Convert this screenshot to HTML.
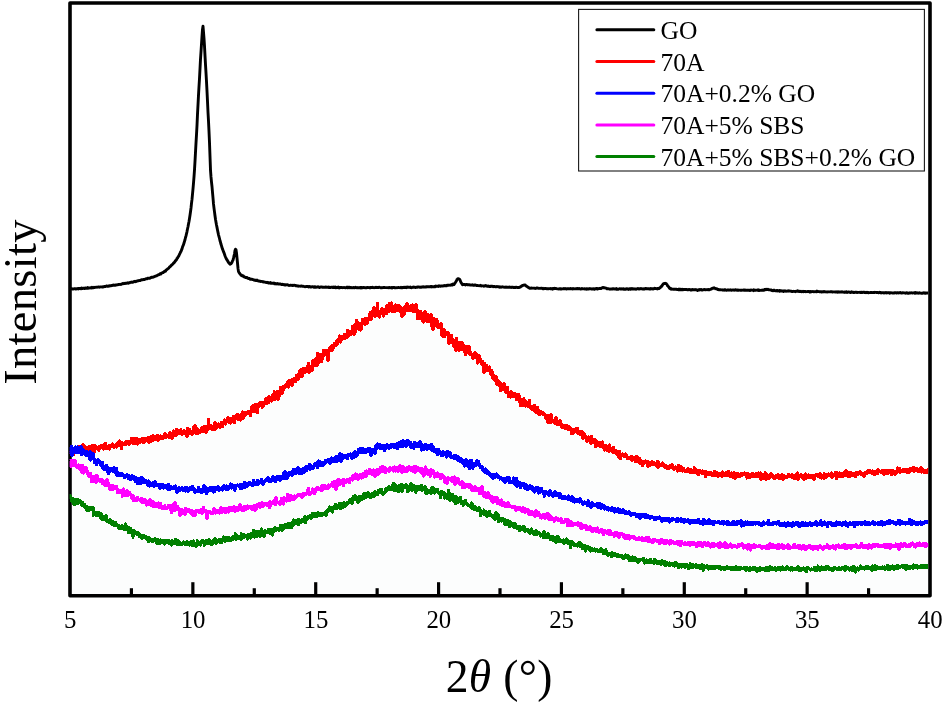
<!DOCTYPE html>
<html><head><meta charset="utf-8"><title>XRD</title>
<style>
html,body{margin:0;padding:0;background:#fff;}
body{width:943px;height:704px;overflow:hidden;position:relative;font-family:"Liberation Serif",serif;}
svg{position:absolute;left:0;top:0;display:block;will-change:transform;}
text{font-family:"Liberation Serif",serif;fill:#000;}
</style></head><body>
<svg width="943" height="704" viewBox="0 0 943 704">
<rect x="0" y="0" width="943" height="704" fill="#ffffff"/>
<path d="M70.0,452.0L70.5,451.9L71.0,451.7L71.5,451.6L72.0,451.5L72.5,451.4L73.0,451.2L73.5,451.1L74.0,451.0L74.5,450.9L75.0,450.7L75.5,450.6L76.0,450.5L76.5,450.4L77.0,450.3L77.5,450.2L78.0,450.1L78.5,450.0L79.0,449.9L79.5,449.8L80.0,449.7L80.5,449.6L81.0,449.5L81.5,449.4L82.0,449.3L82.5,449.2L83.0,449.2L83.5,449.1L84.0,449.0L84.5,449.0L85.0,448.9L85.5,448.8L86.0,448.8L86.5,448.7L87.0,448.7L87.5,448.6L88.0,448.5L88.5,448.5L89.0,448.4L89.5,448.4L90.0,448.4L90.5,448.3L91.0,448.3L91.5,448.2L92.0,448.2L92.5,448.1L93.0,448.1L93.5,448.0L94.0,448.0L94.5,448.0L95.0,447.9L95.5,447.9L96.0,447.8L96.5,447.8L97.0,447.8L97.5,447.7L98.0,447.7L98.5,447.6L99.0,447.6L99.5,447.6L100.0,447.5L100.5,447.5L101.0,447.4L101.5,447.4L102.0,447.3L102.5,447.3L103.0,447.2L103.5,447.2L104.0,447.1L104.5,447.1L105.0,447.0L105.5,447.0L106.0,446.9L106.5,446.9L107.0,446.8L107.5,446.7L108.0,446.7L108.5,446.6L109.0,446.5L109.5,446.4L110.0,446.4L110.5,446.3L111.0,446.2L111.5,446.1L112.0,446.0L112.5,446.0L113.0,445.9L113.5,445.8L114.0,445.7L114.5,445.6L115.0,445.5L115.5,445.4L116.0,445.3L116.5,445.2L117.0,445.1L117.5,445.1L118.0,445.0L118.5,444.9L119.0,444.8L119.5,444.7L120.0,444.6L120.5,444.5L121.0,444.4L121.5,444.3L122.0,444.2L122.5,444.1L123.0,444.0L123.5,443.9L124.0,443.8L124.5,443.7L125.0,443.6L125.5,443.5L126.0,443.4L126.5,443.3L127.0,443.2L127.5,443.1L128.0,443.0L128.5,442.9L129.0,442.8L129.5,442.7L130.0,442.7L130.5,442.6L131.0,442.5L131.5,442.4L132.0,442.3L132.5,442.2L133.0,442.1L133.5,442.1L134.0,442.0L134.5,441.9L135.0,441.8L135.5,441.7L136.0,441.6L136.5,441.6L137.0,441.5L137.5,441.4L138.0,441.3L138.5,441.2L139.0,441.1L139.5,441.1L140.0,441.0L140.5,440.9L141.0,440.8L141.5,440.7L142.0,440.6L142.5,440.6L143.0,440.5L143.5,440.4L144.0,440.3L144.5,440.2L145.0,440.2L145.5,440.1L146.0,440.0L146.5,439.9L147.0,439.8L147.5,439.7L148.0,439.6L148.5,439.6L149.0,439.5L149.5,439.4L150.0,439.3L150.5,439.2L151.0,439.1L151.5,439.0L152.0,438.9L152.5,438.8L153.0,438.7L153.5,438.6L154.0,438.5L154.5,438.4L155.0,438.3L155.5,438.2L156.0,438.1L156.5,438.0L157.0,437.9L157.5,437.8L158.0,437.7L158.5,437.6L159.0,437.5L159.5,437.3L160.0,437.2L160.5,437.1L161.0,437.0L161.5,436.9L162.0,436.7L162.5,436.6L163.0,436.5L163.5,436.4L164.0,436.3L164.5,436.1L165.0,436.0L165.5,435.9L166.0,435.8L166.5,435.7L167.0,435.5L167.5,435.4L168.0,435.3L168.5,435.2L169.0,435.1L169.5,435.0L170.0,434.9L170.5,434.8L171.0,434.7L171.5,434.6L172.0,434.5L172.5,434.4L173.0,434.3L173.5,434.2L174.0,434.1L174.5,434.0L175.0,434.0L175.5,433.9L176.0,433.8L176.5,433.8L177.0,433.7L177.5,433.6L178.0,433.6L178.5,433.5L179.0,433.5L179.5,433.4L180.0,433.3L180.5,433.3L181.0,433.2L181.5,433.2L182.0,433.1L182.5,433.1L183.0,433.0L183.5,433.0L184.0,432.9L184.5,432.9L185.0,432.8L185.5,432.8L186.0,432.7L186.5,432.7L187.0,432.6L187.5,432.6L188.0,432.5L188.5,432.5L189.0,432.4L189.5,432.4L190.0,432.3L190.5,432.2L191.0,432.2L191.5,432.1L192.0,432.0L192.5,432.0L193.0,431.9L193.5,431.8L194.0,431.7L194.5,431.6L195.0,431.6L195.5,431.5L196.0,431.4L196.5,431.3L197.0,431.2L197.5,431.1L198.0,430.9L198.5,430.8L199.0,430.7L199.5,430.6L200.0,430.5L200.5,430.3L201.0,430.2L201.5,430.1L202.0,430.0L202.5,429.8L203.0,429.7L203.5,429.5L204.0,429.4L204.5,429.3L205.0,429.1L205.5,429.0L206.0,428.8L206.5,428.7L207.0,428.5L207.5,428.4L208.0,428.2L208.5,428.1L209.0,427.9L209.5,427.8L210.0,427.6L210.5,427.5L211.0,427.3L211.5,427.1L212.0,427.0L212.5,426.8L213.0,426.7L213.5,426.5L214.0,426.4L214.5,426.2L215.0,426.0L215.5,425.8L216.0,425.7L216.5,425.5L217.0,425.3L217.5,425.1L218.0,425.0L218.5,424.8L219.0,424.6L219.5,424.4L220.0,424.2L220.5,424.0L221.0,423.8L221.5,423.6L222.0,423.4L222.5,423.2L223.0,423.0L223.5,422.8L224.0,422.6L224.5,422.4L225.0,422.2L225.5,422.0L226.0,421.8L226.5,421.6L227.0,421.4L227.5,421.2L228.0,421.0L228.5,420.8L229.0,420.6L229.5,420.4L230.0,420.2L230.5,420.0L231.0,419.8L231.5,419.6L232.0,419.4L232.5,419.2L233.0,419.0L233.5,418.8L234.0,418.6L234.5,418.4L235.0,418.2L235.5,418.0L236.0,417.8L236.5,417.6L237.0,417.4L237.5,417.2L238.0,417.0L238.5,416.8L239.0,416.6L239.5,416.4L240.0,416.1L240.5,415.9L241.0,415.7L241.5,415.5L242.0,415.3L242.5,415.1L243.0,414.8L243.5,414.6L244.0,414.4L244.5,414.2L245.0,413.9L245.5,413.7L246.0,413.5L246.5,413.2L247.0,413.0L247.5,412.8L248.0,412.5L248.5,412.3L249.0,412.0L249.5,411.7L250.0,411.5L250.5,411.2L251.0,410.9L251.5,410.7L252.0,410.4L252.5,410.1L253.0,409.9L253.5,409.6L254.0,409.3L254.5,409.0L255.0,408.7L255.5,408.4L256.0,408.1L256.5,407.8L257.0,407.5L257.5,407.2L258.0,407.0L258.5,406.7L259.0,406.3L259.5,406.0L260.0,405.7L260.5,405.4L261.0,405.1L261.5,404.8L262.0,404.5L262.5,404.2L263.0,403.9L263.5,403.6L264.0,403.3L264.5,403.0L265.0,402.7L265.5,402.3L266.0,402.0L266.5,401.7L267.0,401.4L267.5,401.1L268.0,400.8L268.5,400.4L269.0,400.1L269.5,399.8L270.0,399.4L270.5,399.1L271.0,398.8L271.5,398.4L272.0,398.1L272.5,397.8L273.0,397.4L273.5,397.1L274.0,396.7L274.5,396.4L275.0,396.0L275.5,395.7L276.0,395.3L276.5,394.9L277.0,394.6L277.5,394.2L278.0,393.8L278.5,393.4L279.0,393.1L279.5,392.7L280.0,392.3L280.5,391.8L281.0,391.4L281.5,391.0L282.0,390.6L282.5,390.2L283.0,389.7L283.5,389.3L284.0,388.9L284.5,388.4L285.0,388.0L285.5,387.5L286.0,387.1L286.5,386.7L287.0,386.2L287.5,385.8L288.0,385.3L288.5,384.9L289.0,384.4L289.5,384.0L290.0,383.5L290.5,383.1L291.0,382.7L291.5,382.2L292.0,381.8L292.5,381.4L293.0,380.9L293.5,380.5L294.0,380.1L294.5,379.7L295.0,379.3L295.5,378.9L296.0,378.4L296.5,378.0L297.0,377.6L297.5,377.2L298.0,376.8L298.5,376.4L299.0,376.0L299.5,375.6L300.0,375.2L300.5,374.8L301.0,374.4L301.5,374.0L302.0,373.6L302.5,373.2L303.0,372.8L303.5,372.4L304.0,372.0L304.5,371.6L305.0,371.2L305.5,370.8L306.0,370.4L306.5,370.0L307.0,369.6L307.5,369.2L308.0,368.8L308.5,368.4L309.0,368.0L309.5,367.5L310.0,367.1L310.5,366.7L311.0,366.3L311.5,365.9L312.0,365.5L312.5,365.1L313.0,364.7L313.5,364.3L314.0,363.9L314.5,363.5L315.0,363.1L315.5,362.7L316.0,362.2L316.5,361.8L317.0,361.4L317.5,361.0L318.0,360.6L318.5,360.2L319.0,359.7L319.5,359.3L320.0,358.9L320.5,358.5L321.0,358.0L321.5,357.6L322.0,357.2L322.5,356.8L323.0,356.3L323.5,355.9L324.0,355.5L324.5,355.0L325.0,354.6L325.5,354.2L326.0,353.8L326.5,353.3L327.0,352.9L327.5,352.5L328.0,352.0L328.5,351.6L329.0,351.2L329.5,350.7L330.0,350.3L330.5,349.9L331.0,349.4L331.5,349.0L332.0,348.6L332.5,348.1L333.0,347.7L333.5,347.3L334.0,346.8L334.5,346.4L335.0,346.0L335.5,345.6L336.0,345.1L336.5,344.7L337.0,344.3L337.5,343.9L338.0,343.4L338.5,343.0L339.0,342.6L339.5,342.2L340.0,341.8L340.5,341.3L341.0,340.9L341.5,340.5L342.0,340.1L342.5,339.7L343.0,339.2L343.5,338.8L344.0,338.4L344.5,338.0L345.0,337.5L345.5,337.1L346.0,336.7L346.5,336.3L347.0,335.8L347.5,335.4L348.0,335.0L348.5,334.6L349.0,334.2L349.5,333.7L350.0,333.3L350.5,332.9L351.0,332.5L351.5,332.1L352.0,331.6L352.5,331.2L353.0,330.8L353.5,330.4L354.0,330.0L354.5,329.6L355.0,329.2L355.5,328.8L356.0,328.4L356.5,328.0L357.0,327.6L357.5,327.2L358.0,326.8L358.5,326.4L359.0,326.0L359.5,325.6L360.0,325.2L360.5,324.8L361.0,324.4L361.5,324.0L362.0,323.7L362.5,323.3L363.0,322.9L363.5,322.5L364.0,322.2L364.5,321.8L365.0,321.5L365.5,321.2L366.0,320.8L366.5,320.5L367.0,320.2L367.5,319.8L368.0,319.5L368.5,319.2L369.0,318.8L369.5,318.5L370.0,318.1L370.5,317.8L371.0,317.4L371.5,317.0L372.0,316.5L372.5,316.1L373.0,315.6L373.5,315.2L374.0,314.7L374.5,314.3L375.0,313.9L375.5,313.5L376.0,313.2L376.5,312.9L377.0,312.7L377.5,312.4L378.0,312.2L378.5,311.9L379.0,311.7L379.5,311.5L380.0,311.3L380.5,311.1L381.0,310.9L381.5,310.7L382.0,310.5L382.5,310.3L383.0,310.1L383.5,309.9L384.0,309.7L384.5,309.5L385.0,309.3L385.5,309.1L386.0,309.0L386.5,308.8L387.0,308.7L387.5,308.6L388.0,308.5L388.5,308.4L389.0,308.3L389.5,308.2L390.0,308.1L390.5,308.0L391.0,307.9L391.5,307.9L392.0,307.9L392.5,307.9L393.0,307.9L393.5,307.9L394.0,308.0L394.5,308.0L395.0,308.0L395.5,308.0L396.0,308.1L396.5,308.1L397.0,308.2L397.5,308.2L398.0,308.3L398.5,308.4L399.0,308.6L399.5,308.7L400.0,308.9L400.5,309.0L401.0,309.2L401.5,309.3L402.0,309.4L402.5,309.4L403.0,309.4L403.5,309.4L404.0,309.3L404.5,309.3L405.0,309.2L405.5,309.2L406.0,309.1L406.5,309.0L407.0,308.9L407.5,308.9L408.0,308.8L408.5,308.7L409.0,308.5L409.5,308.3L410.0,308.2L410.5,308.1L411.0,308.0L411.5,308.0L412.0,308.1L412.5,308.2L413.0,308.4L413.5,308.6L414.0,308.8L414.5,309.0L415.0,309.3L415.5,309.5L416.0,309.8L416.5,310.0L417.0,310.3L417.5,310.6L418.0,310.9L418.5,311.2L419.0,311.5L419.5,311.9L420.0,312.3L420.5,312.7L421.0,313.2L421.5,313.8L422.0,314.5L422.5,315.2L423.0,315.9L423.5,316.6L424.0,317.1L424.5,317.5L425.0,318.0L425.5,318.3L426.0,318.7L426.5,319.0L427.0,319.4L427.5,319.7L428.0,320.0L428.5,320.3L429.0,320.7L429.5,321.0L430.0,321.3L430.5,321.6L431.0,322.0L431.5,322.3L432.0,322.6L432.5,322.9L433.0,323.2L433.5,323.5L434.0,323.8L434.5,324.1L435.0,324.4L435.5,324.7L436.0,325.0L436.5,325.3L437.0,325.6L437.5,325.9L438.0,326.3L438.5,326.6L439.0,326.9L439.5,327.3L440.0,327.7L440.5,328.1L441.0,328.5L441.5,329.0L442.0,329.4L442.5,329.9L443.0,330.4L443.5,330.9L444.0,331.4L444.5,331.9L445.0,332.4L445.5,332.9L446.0,333.4L446.5,333.9L447.0,334.4L447.5,334.9L448.0,335.4L448.5,335.9L449.0,336.4L449.5,336.9L450.0,337.4L450.5,337.9L451.0,338.4L451.5,339.0L452.0,339.5L452.5,340.1L453.0,340.6L453.5,341.2L454.0,341.7L454.5,342.3L455.0,342.8L455.5,343.3L456.0,343.8L456.5,344.3L457.0,344.8L457.5,345.2L458.0,345.7L458.5,346.1L459.0,346.5L459.5,346.9L460.0,347.3L460.5,347.6L461.0,347.9L461.5,348.2L462.0,348.5L462.5,348.8L463.0,349.1L463.5,349.3L464.0,349.6L464.5,349.8L465.0,350.1L465.5,350.3L466.0,350.6L466.5,350.8L467.0,351.0L467.5,351.3L468.0,351.5L468.5,351.8L469.0,352.1L469.5,352.4L470.0,352.6L470.5,352.9L471.0,353.3L471.5,353.6L472.0,353.9L472.5,354.3L473.0,354.7L473.5,355.1L474.0,355.5L474.5,355.9L475.0,356.3L475.5,356.7L476.0,357.1L476.5,357.6L477.0,358.0L477.5,358.5L478.0,358.9L478.5,359.4L479.0,359.9L479.5,360.4L480.0,360.9L480.5,361.4L481.0,361.9L481.5,362.4L482.0,363.0L482.5,363.6L483.0,364.1L483.5,364.8L484.0,365.4L484.5,366.0L485.0,366.7L485.5,367.3L486.0,368.0L486.5,368.6L487.0,369.3L487.5,370.0L488.0,370.6L488.5,371.3L489.0,371.9L489.5,372.6L490.0,373.2L490.5,373.8L491.0,374.4L491.5,375.0L492.0,375.5L492.5,376.1L493.0,376.6L493.5,377.2L494.0,377.7L494.5,378.2L495.0,378.8L495.5,379.3L496.0,379.8L496.5,380.3L497.0,380.8L497.5,381.3L498.0,381.8L498.5,382.3L499.0,382.8L499.5,383.3L500.0,383.8L500.5,384.2L501.0,384.7L501.5,385.2L502.0,385.6L502.5,386.1L503.0,386.5L503.5,387.0L504.0,387.4L504.5,387.9L505.0,388.3L505.5,388.7L506.0,389.2L506.5,389.6L507.0,390.0L507.5,390.4L508.0,390.8L508.5,391.3L509.0,391.7L509.5,392.1L510.0,392.5L510.5,392.9L511.0,393.2L511.5,393.6L512.0,394.0L512.5,394.4L513.0,394.8L513.5,395.1L514.0,395.5L514.5,395.9L515.0,396.2L515.5,396.6L516.0,396.9L516.5,397.3L517.0,397.6L517.5,397.9L518.0,398.3L518.5,398.6L519.0,398.9L519.5,399.2L520.0,399.5L520.5,399.9L521.0,400.2L521.5,400.5L522.0,400.8L522.5,401.1L523.0,401.4L523.5,401.7L524.0,402.0L524.5,402.3L525.0,402.6L525.5,402.9L526.0,403.2L526.5,403.5L527.0,403.9L527.5,404.2L528.0,404.5L528.5,404.8L529.0,405.1L529.5,405.4L530.0,405.8L530.5,406.1L531.0,406.4L531.5,406.7L532.0,407.0L532.5,407.3L533.0,407.7L533.5,408.0L534.0,408.3L534.5,408.6L535.0,408.9L535.5,409.2L536.0,409.6L536.5,409.9L537.0,410.2L537.5,410.5L538.0,410.8L538.5,411.1L539.0,411.5L539.5,411.8L540.0,412.1L540.5,412.4L541.0,412.7L541.5,413.1L542.0,413.4L542.5,413.7L543.0,414.0L543.5,414.4L544.0,414.7L544.5,415.0L545.0,415.3L545.5,415.7L546.0,416.0L546.5,416.3L547.0,416.6L547.5,416.9L548.0,417.2L548.5,417.5L549.0,417.8L549.5,418.1L550.0,418.4L550.5,418.7L551.0,419.0L551.5,419.3L552.0,419.6L552.5,419.8L553.0,420.1L553.5,420.4L554.0,420.7L554.5,420.9L555.0,421.2L555.5,421.5L556.0,421.8L556.5,422.0L557.0,422.3L557.5,422.5L558.0,422.8L558.5,423.1L559.0,423.3L559.5,423.6L560.0,423.8L560.5,424.1L561.0,424.3L561.5,424.6L562.0,424.9L562.5,425.1L563.0,425.4L563.5,425.6L564.0,425.9L564.5,426.1L565.0,426.4L565.5,426.6L566.0,426.9L566.5,427.1L567.0,427.4L567.5,427.6L568.0,427.9L568.5,428.1L569.0,428.4L569.5,428.6L570.0,428.9L570.5,429.1L571.0,429.4L571.5,429.7L572.0,429.9L572.5,430.2L573.0,430.4L573.5,430.7L574.0,431.0L574.5,431.2L575.0,431.5L575.5,431.7L576.0,432.0L576.5,432.3L577.0,432.5L577.5,432.8L578.0,433.1L578.5,433.3L579.0,433.6L579.5,433.9L580.0,434.2L580.5,434.4L581.0,434.7L581.5,435.0L582.0,435.2L582.5,435.5L583.0,435.8L583.5,436.0L584.0,436.3L584.5,436.6L585.0,436.8L585.5,437.1L586.0,437.4L586.5,437.6L587.0,437.9L587.5,438.2L588.0,438.4L588.5,438.7L589.0,439.0L589.5,439.2L590.0,439.5L590.5,439.8L591.0,440.0L591.5,440.3L592.0,440.5L592.5,440.8L593.0,441.1L593.5,441.3L594.0,441.6L594.5,441.8L595.0,442.1L595.5,442.3L596.0,442.6L596.5,442.9L597.0,443.1L597.5,443.3L598.0,443.6L598.5,443.8L599.0,444.1L599.5,444.3L600.0,444.6L600.5,444.8L601.0,445.1L601.5,445.4L602.0,445.6L602.5,445.9L603.0,446.1L603.5,446.4L604.0,446.6L604.5,446.9L605.0,447.1L605.5,447.3L606.0,447.6L606.5,447.8L607.0,448.1L607.5,448.3L608.0,448.6L608.5,448.8L609.0,449.1L609.5,449.3L610.0,449.5L610.5,449.8L611.0,450.0L611.5,450.3L612.0,450.5L612.5,450.7L613.0,450.9L613.5,451.2L614.0,451.4L614.5,451.6L615.0,451.9L615.5,452.1L616.0,452.3L616.5,452.5L617.0,452.7L617.5,452.9L618.0,453.1L618.5,453.4L619.0,453.6L619.5,453.8L620.0,454.0L620.5,454.2L621.0,454.4L621.5,454.6L622.0,454.7L622.5,454.9L623.0,455.1L623.5,455.3L624.0,455.5L624.5,455.7L625.0,455.9L625.5,456.1L626.0,456.3L626.5,456.4L627.0,456.6L627.5,456.8L628.0,457.0L628.5,457.2L629.0,457.4L629.5,457.5L630.0,457.7L630.5,457.9L631.0,458.1L631.5,458.2L632.0,458.4L632.5,458.6L633.0,458.8L633.5,458.9L634.0,459.1L634.5,459.3L635.0,459.4L635.5,459.6L636.0,459.7L636.5,459.9L637.0,460.0L637.5,460.2L638.0,460.4L638.5,460.5L639.0,460.6L639.5,460.8L640.0,460.9L640.5,461.1L641.0,461.2L641.5,461.4L642.0,461.5L642.5,461.6L643.0,461.7L643.5,461.9L644.0,462.0L644.5,462.1L645.0,462.2L645.5,462.4L646.0,462.5L646.5,462.6L647.0,462.7L647.5,462.8L648.0,462.9L648.5,463.0L649.0,463.2L649.5,463.3L650.0,463.4L650.5,463.5L651.0,463.6L651.5,463.7L652.0,463.8L652.5,463.9L653.0,464.0L653.5,464.1L654.0,464.2L654.5,464.3L655.0,464.4L655.5,464.5L656.0,464.5L656.5,464.6L657.0,464.7L657.5,464.8L658.0,464.9L658.5,465.0L659.0,465.1L659.5,465.2L660.0,465.3L660.5,465.4L661.0,465.5L661.5,465.5L662.0,465.6L662.5,465.7L663.0,465.8L663.5,465.9L664.0,466.0L664.5,466.1L665.0,466.2L665.5,466.3L666.0,466.3L666.5,466.4L667.0,466.5L667.5,466.6L668.0,466.7L668.5,466.8L669.0,466.9L669.5,467.0L670.0,467.1L670.5,467.2L671.0,467.3L671.5,467.3L672.0,467.4L672.5,467.5L673.0,467.6L673.5,467.7L674.0,467.8L674.5,467.9L675.0,468.0L675.5,468.1L676.0,468.2L676.5,468.2L677.0,468.3L677.5,468.4L678.0,468.5L678.5,468.6L679.0,468.7L679.5,468.8L680.0,468.9L680.5,468.9L681.0,469.0L681.5,469.1L682.0,469.2L682.5,469.3L683.0,469.4L683.5,469.5L684.0,469.5L684.5,469.6L685.0,469.7L685.5,469.8L686.0,469.9L686.5,469.9L687.0,470.0L687.5,470.1L688.0,470.2L688.5,470.2L689.0,470.3L689.5,470.4L690.0,470.5L690.5,470.5L691.0,470.6L691.5,470.7L692.0,470.8L692.5,470.8L693.0,470.9L693.5,471.0L694.0,471.0L694.5,471.1L695.0,471.2L695.5,471.3L696.0,471.3L696.5,471.4L697.0,471.5L697.5,471.5L698.0,471.6L698.5,471.7L699.0,471.7L699.5,471.8L700.0,471.9L700.5,472.0L701.0,472.0L701.5,472.1L702.0,472.2L702.5,472.2L703.0,472.3L703.5,472.3L704.0,472.4L704.5,472.5L705.0,472.5L705.5,472.6L706.0,472.7L706.5,472.7L707.0,472.8L707.5,472.8L708.0,472.9L708.5,473.0L709.0,473.0L709.5,473.1L710.0,473.1L710.5,473.2L711.0,473.2L711.5,473.3L712.0,473.3L712.5,473.4L713.0,473.4L713.5,473.5L714.0,473.5L714.5,473.6L715.0,473.6L715.5,473.6L716.0,473.7L716.5,473.7L717.0,473.8L717.5,473.8L718.0,473.8L718.5,473.9L719.0,473.9L719.5,474.0L720.0,474.0L720.5,474.0L721.0,474.1L721.5,474.1L722.0,474.1L722.5,474.2L723.0,474.2L723.5,474.3L724.0,474.3L724.5,474.3L725.0,474.4L725.5,474.4L726.0,474.4L726.5,474.5L727.0,474.5L727.5,474.5L728.0,474.5L728.5,474.6L729.0,474.6L729.5,474.6L730.0,474.7L730.5,474.7L731.0,474.7L731.5,474.8L732.0,474.8L732.5,474.8L733.0,474.8L733.5,474.9L734.0,474.9L734.5,474.9L735.0,474.9L735.5,475.0L736.0,475.0L736.5,475.0L737.0,475.0L737.5,475.1L738.0,475.1L738.5,475.1L739.0,475.1L739.5,475.1L740.0,475.2L740.5,475.2L741.0,475.2L741.5,475.2L742.0,475.3L742.5,475.3L743.0,475.3L743.5,475.3L744.0,475.3L744.5,475.3L745.0,475.4L745.5,475.4L746.0,475.4L746.5,475.4L747.0,475.4L747.5,475.5L748.0,475.5L748.5,475.5L749.0,475.5L749.5,475.5L750.0,475.5L750.5,475.5L751.0,475.6L751.5,475.6L752.0,475.6L752.5,475.6L753.0,475.6L753.5,475.6L754.0,475.7L754.5,475.7L755.0,475.7L755.5,475.7L756.0,475.7L756.5,475.7L757.0,475.7L757.5,475.8L758.0,475.8L758.5,475.8L759.0,475.8L759.5,475.8L760.0,475.8L760.5,475.9L761.0,475.9L761.5,475.9L762.0,475.9L762.5,475.9L763.0,475.9L763.5,476.0L764.0,476.0L764.5,476.0L765.0,476.0L765.5,476.0L766.0,476.0L766.5,476.1L767.0,476.1L767.5,476.1L768.0,476.1L768.5,476.1L769.0,476.2L769.5,476.2L770.0,476.2L770.5,476.2L771.0,476.2L771.5,476.3L772.0,476.3L772.5,476.3L773.0,476.3L773.5,476.3L774.0,476.4L774.5,476.4L775.0,476.4L775.5,476.4L776.0,476.4L776.5,476.4L777.0,476.5L777.5,476.5L778.0,476.5L778.5,476.5L779.0,476.5L779.5,476.5L780.0,476.5L780.5,476.5L781.0,476.6L781.5,476.6L782.0,476.6L782.5,476.6L783.0,476.6L783.5,476.6L784.0,476.6L784.5,476.6L785.0,476.6L785.5,476.6L786.0,476.6L786.5,476.6L787.0,476.6L787.5,476.6L788.0,476.6L788.5,476.6L789.0,476.6L789.5,476.6L790.0,476.6L790.5,476.6L791.0,476.6L791.5,476.6L792.0,476.6L792.5,476.6L793.0,476.6L793.5,476.6L794.0,476.5L794.5,476.5L795.0,476.5L795.5,476.5L796.0,476.5L796.5,476.5L797.0,476.5L797.5,476.5L798.0,476.5L798.5,476.5L799.0,476.5L799.5,476.5L800.0,476.5L800.5,476.5L801.0,476.4L801.5,476.4L802.0,476.4L802.5,476.4L803.0,476.4L803.5,476.4L804.0,476.4L804.5,476.4L805.0,476.4L805.5,476.4L806.0,476.4L806.5,476.3L807.0,476.3L807.5,476.3L808.0,476.3L808.5,476.3L809.0,476.3L809.5,476.3L810.0,476.3L810.5,476.3L811.0,476.2L811.5,476.2L812.0,476.2L812.5,476.2L813.0,476.1L813.5,476.1L814.0,476.1L814.5,476.1L815.0,476.0L815.5,476.0L816.0,476.0L816.5,476.0L817.0,475.9L817.5,475.9L818.0,475.9L818.5,475.8L819.0,475.8L819.5,475.8L820.0,475.7L820.5,475.7L821.0,475.7L821.5,475.6L822.0,475.6L822.5,475.5L823.0,475.5L823.5,475.5L824.0,475.4L824.5,475.4L825.0,475.4L825.5,475.3L826.0,475.3L826.5,475.3L827.0,475.2L827.5,475.2L828.0,475.2L828.5,475.1L829.0,475.1L829.5,475.1L830.0,475.0L830.5,475.0L831.0,475.0L831.5,474.9L832.0,474.9L832.5,474.9L833.0,474.9L833.5,474.8L834.0,474.8L834.5,474.8L835.0,474.8L835.5,474.7L836.0,474.7L836.5,474.7L837.0,474.7L837.5,474.6L838.0,474.6L838.5,474.6L839.0,474.6L839.5,474.5L840.0,474.5L840.5,474.5L841.0,474.5L841.5,474.5L842.0,474.4L842.5,474.4L843.0,474.4L843.5,474.4L844.0,474.4L844.5,474.3L845.0,474.3L845.5,474.3L846.0,474.3L846.5,474.2L847.0,474.2L847.5,474.2L848.0,474.2L848.5,474.2L849.0,474.1L849.5,474.1L850.0,474.1L850.5,474.1L851.0,474.0L851.5,474.0L852.0,474.0L852.5,474.0L853.0,473.9L853.5,473.9L854.0,473.9L854.5,473.9L855.0,473.8L855.5,473.8L856.0,473.8L856.5,473.8L857.0,473.7L857.5,473.7L858.0,473.7L858.5,473.6L859.0,473.6L859.5,473.6L860.0,473.5L860.5,473.5L861.0,473.5L861.5,473.4L862.0,473.4L862.5,473.4L863.0,473.4L863.5,473.3L864.0,473.3L864.5,473.3L865.0,473.2L865.5,473.2L866.0,473.2L866.5,473.1L867.0,473.1L867.5,473.1L868.0,473.0L868.5,473.0L869.0,473.0L869.5,472.9L870.0,472.9L870.5,472.8L871.0,472.8L871.5,472.8L872.0,472.7L872.5,472.7L873.0,472.7L873.5,472.6L874.0,472.6L874.5,472.6L875.0,472.5L875.5,472.5L876.0,472.5L876.5,472.5L877.0,472.4L877.5,472.4L878.0,472.4L878.5,472.3L879.0,472.3L879.5,472.3L880.0,472.2L880.5,472.2L881.0,472.2L881.5,472.1L882.0,472.1L882.5,472.1L883.0,472.1L883.5,472.0L884.0,472.0L884.5,472.0L885.0,471.9L885.5,471.9L886.0,471.9L886.5,471.8L887.0,471.8L887.5,471.8L888.0,471.7L888.5,471.7L889.0,471.7L889.5,471.6L890.0,471.6L890.5,471.6L891.0,471.6L891.5,471.5L892.0,471.5L892.5,471.5L893.0,471.4L893.5,471.4L894.0,471.4L894.5,471.3L895.0,471.3L895.5,471.3L896.0,471.3L896.5,471.2L897.0,471.2L897.5,471.2L898.0,471.2L898.5,471.1L899.0,471.1L899.5,471.1L900.0,471.1L900.5,471.1L901.0,471.0L901.5,471.0L902.0,471.0L902.5,471.0L903.0,471.0L903.5,471.0L904.0,470.9L904.5,470.9L905.0,470.9L905.5,470.9L906.0,470.9L906.5,470.9L907.0,470.9L907.5,470.8L908.0,470.8L908.5,470.8L909.0,470.8L909.5,470.8L910.0,470.8L910.5,470.8L911.0,470.7L911.5,470.7L912.0,470.7L912.5,470.7L913.0,470.7L913.5,470.7L914.0,470.7L914.5,470.6L915.0,470.6L915.5,470.6L916.0,470.6L916.5,470.6L917.0,470.6L917.5,470.6L918.0,470.6L918.5,470.6L919.0,470.5L919.5,470.5L920.0,470.5L920.5,470.5L921.0,470.5L921.5,470.5L922.0,470.5L922.5,470.5L923.0,470.5L923.5,470.5L924.0,470.5L924.5,470.4L925.0,470.4L925.5,470.4L926.0,470.4L926.5,470.4L927.0,470.4L927.5,470.4L928.0,470.4L928.5,470.4L929.0,470.4L929.5,470.4L930.0,470.4L930.0,595.8L70.0,595.8Z" fill="#fcfdfd" stroke="none"/>
<defs><clipPath id="pc"><rect x="69.6" y="0" width="858.6" height="600"/></clipPath></defs>
<line x1="192.86" y1="595.8" x2="192.86" y2="582.2" stroke="#000" stroke-width="3.2"/>
<line x1="315.71" y1="595.8" x2="315.71" y2="582.2" stroke="#000" stroke-width="3.2"/>
<line x1="438.57" y1="595.8" x2="438.57" y2="582.2" stroke="#000" stroke-width="3.2"/>
<line x1="561.43" y1="595.8" x2="561.43" y2="582.2" stroke="#000" stroke-width="3.2"/>
<line x1="684.29" y1="595.8" x2="684.29" y2="582.2" stroke="#000" stroke-width="3.2"/>
<line x1="807.14" y1="595.8" x2="807.14" y2="582.2" stroke="#000" stroke-width="3.2"/>
<line x1="131.43" y1="595.8" x2="131.43" y2="588.2" stroke="#000" stroke-width="3.2"/>
<line x1="254.29" y1="595.8" x2="254.29" y2="588.2" stroke="#000" stroke-width="3.2"/>
<line x1="377.14" y1="595.8" x2="377.14" y2="588.2" stroke="#000" stroke-width="3.2"/>
<line x1="500.00" y1="595.8" x2="500.00" y2="588.2" stroke="#000" stroke-width="3.2"/>
<line x1="622.86" y1="595.8" x2="622.86" y2="588.2" stroke="#000" stroke-width="3.2"/>
<line x1="745.71" y1="595.8" x2="745.71" y2="588.2" stroke="#000" stroke-width="3.2"/>
<line x1="868.57" y1="595.8" x2="868.57" y2="588.2" stroke="#000" stroke-width="3.2"/>
<rect x="70.0" y="3.0" width="860.0" height="592.8" fill="none" stroke="#000" stroke-width="3.6" stroke-linejoin="round"/>
<g clip-path="url(#pc)">
<path d="M70.0,288.8L70.5,289.0L71.0,288.9L71.5,288.6L72.0,288.9L72.5,289.0L73.0,288.9L73.5,289.0L74.0,288.8L74.5,288.8L75.0,288.7L75.5,288.9L76.0,289.1L76.5,288.8L77.0,288.8L77.5,288.6L78.0,288.5L78.5,288.9L79.0,288.4L79.5,288.4L80.0,288.5L80.5,288.4L81.0,288.8L81.5,288.0L82.0,288.5L82.5,288.5L83.0,288.2L83.5,288.2L84.0,288.4L84.5,288.6L85.0,288.1L85.5,287.9L86.0,288.3L86.5,288.4L87.0,288.0L87.5,287.6L88.0,288.3L88.5,287.9L89.0,288.1L89.5,287.9L90.0,287.8L90.5,287.7L91.0,288.0L91.5,288.0L92.0,287.3L92.5,287.5L93.0,287.9L93.5,287.5L94.0,287.3L94.5,287.5L95.0,287.4L95.5,287.3L96.0,287.2L96.5,287.2L97.0,287.1L97.5,287.2L98.0,287.0L98.5,287.0L99.0,287.0L99.5,287.2L100.0,287.0L100.5,286.9L101.0,286.9L101.5,286.9L102.0,287.0L102.5,286.8L103.0,287.0L103.5,286.9L104.0,286.6L104.5,286.4L105.0,286.6L105.5,286.5L106.0,286.3L106.5,286.0L107.0,285.9L107.5,286.2L108.0,286.2L108.5,286.2L109.0,285.7L109.5,286.1L110.0,285.7L110.5,285.8L111.0,285.8L111.5,285.5L112.0,285.5L112.5,285.1L113.0,285.3L113.5,285.0L114.0,285.4L114.5,285.2L115.0,285.3L115.5,285.1L116.0,284.9L116.5,285.0L117.0,284.8L117.5,284.9L118.0,284.7L118.5,284.4L119.0,284.5L119.5,284.4L120.0,284.3L120.5,284.4L121.0,284.5L121.5,284.0L122.0,284.0L122.5,283.5L123.0,283.8L123.5,283.7L124.0,283.3L124.5,283.6L125.0,283.6L125.5,283.3L126.0,283.3L126.5,283.1L127.0,283.3L127.5,282.8L128.0,282.9L128.5,283.2L129.0,282.8L129.5,282.8L130.0,282.6L130.5,282.3L131.0,282.4L131.5,282.4L132.0,282.0L132.5,282.2L133.0,282.2L133.5,282.1L134.0,281.5L134.5,281.5L135.0,281.3L135.5,281.7L136.0,281.5L136.5,281.4L137.0,281.0L137.5,280.8L138.0,280.9L138.5,280.8L139.0,280.5L139.5,280.6L140.0,280.6L140.5,280.4L141.0,280.0L141.5,279.7L142.0,279.9L142.5,279.9L143.0,279.7L143.5,279.5L144.0,279.4L144.5,279.5L145.0,279.2L145.5,279.1L146.0,278.8L146.5,278.8L147.0,278.8L147.5,278.4L148.0,278.2L148.5,278.3L149.0,278.4L149.5,278.1L150.0,278.2L150.5,277.7L151.0,277.6L151.5,277.2L152.0,277.2L152.5,277.4L153.0,277.1L153.5,277.0L154.0,276.8L154.5,276.5L155.0,276.3L155.5,276.1L156.0,276.0L156.5,275.8L157.0,275.6L157.5,275.3L158.0,274.9L158.5,274.8L159.0,274.4L159.5,274.5L160.0,273.7L160.5,273.8L161.0,274.0L161.5,273.2L162.0,272.8L162.5,272.7L163.0,272.6L163.5,272.1L164.0,271.9L164.5,271.4L165.0,271.0L165.5,271.2L166.0,270.3L166.5,269.8L167.0,269.4L167.5,269.1L168.0,268.7L168.5,268.3L169.0,267.7L169.5,267.0L170.0,266.9L170.5,266.3L171.0,265.8L171.5,265.1L172.0,264.8L172.5,264.3L173.0,263.9L173.5,263.1L174.0,262.8L174.5,262.2L175.0,261.4L175.5,260.9L176.0,260.2L176.5,259.8L177.0,258.5L177.5,258.1L178.0,257.0L178.5,256.4L179.0,255.6L179.5,254.3L180.0,253.4L180.5,252.1L181.0,251.4L181.5,250.1L182.0,248.9L182.5,247.1L183.0,245.8L183.5,244.7L184.0,243.0L184.5,241.3L185.0,239.7L185.5,237.5L186.0,235.9L186.5,233.7L187.0,231.6L187.5,229.0L188.0,226.8L188.5,224.0L189.0,221.5L189.5,218.6L190.0,215.3L190.5,211.7L191.0,208.0L191.5,203.3L192.0,199.4L192.5,194.2L193.0,188.9L193.5,183.2L194.0,176.8L194.5,169.9L195.0,161.4L195.5,152.1L196.0,143.1L196.5,134.6L197.0,125.5L197.5,114.1L198.0,104.8L198.5,95.2L199.0,86.5L199.5,78.3L200.0,68.8L200.5,59.2L201.0,51.9L201.5,44.0L202.0,36.4L202.5,29.4L203.0,26.2L203.5,32.1L204.0,38.4L204.5,46.1L205.0,55.7L205.5,64.7L206.0,72.9L206.5,81.6L207.0,91.2L207.5,101.4L208.0,112.2L208.5,121.1L209.0,131.4L209.5,142.6L210.0,156.3L210.5,170.1L211.0,176.9L211.5,182.1L212.0,186.5L212.5,192.3L213.0,197.9L213.5,203.9L214.0,208.2L214.5,211.9L215.0,215.7L215.5,219.3L216.0,222.2L216.5,225.0L217.0,227.4L217.5,230.0L218.0,232.4L218.5,234.8L219.0,236.6L219.5,238.5L220.0,240.8L220.5,242.3L221.0,244.3L221.5,245.8L222.0,247.5L222.5,249.1L223.0,250.3L223.5,251.7L224.0,252.8L224.5,254.2L225.0,255.7L225.5,257.0L226.0,258.1L226.5,259.2L227.0,259.8L227.5,260.7L228.0,261.7L228.5,262.4L229.0,263.1L229.5,263.5L230.0,264.2L230.5,263.9L231.0,263.9L231.5,262.9L232.0,262.4L232.5,260.9L233.0,260.0L233.5,258.2L234.0,256.2L234.5,253.7L235.0,250.6L235.5,249.2L236.0,249.7L236.5,252.9L237.0,258.0L237.5,263.0L238.0,268.4L238.5,271.6L239.0,272.4L239.5,273.2L240.0,273.9L240.5,274.3L241.0,275.2L241.5,274.9L242.0,275.7L242.5,276.0L243.0,275.8L243.5,276.1L244.0,276.8L244.5,276.8L245.0,277.2L245.5,277.5L246.0,277.5L246.5,277.5L247.0,277.4L247.5,278.1L248.0,278.1L248.5,278.5L249.0,278.6L249.5,278.5L250.0,279.2L250.5,279.2L251.0,279.3L251.5,279.1L252.0,279.4L252.5,279.5L253.0,279.6L253.5,279.6L254.0,280.0L254.5,280.1L255.0,280.3L255.5,280.2L256.0,280.6L256.5,280.6L257.0,280.1L257.5,280.6L258.0,280.8L258.5,281.1L259.0,281.0L259.5,281.1L260.0,281.1L260.5,281.5L261.0,281.3L261.5,281.4L262.0,281.5L262.5,281.8L263.0,281.7L263.5,281.6L264.0,282.1L264.5,281.9L265.0,282.2L265.5,282.3L266.0,282.5L266.5,282.5L267.0,282.3L267.5,282.5L268.0,282.4L268.5,283.0L269.0,282.8L269.5,283.1L270.0,282.8L270.5,282.6L271.0,283.3L271.5,283.1L272.0,283.2L272.5,283.2L273.0,283.4L273.5,283.4L274.0,283.1L274.5,283.7L275.0,283.5L275.5,283.5L276.0,284.0L276.5,283.9L277.0,283.7L277.5,283.5L278.0,284.0L278.5,284.1L279.0,284.0L279.5,283.9L280.0,284.0L280.5,284.0L281.0,284.3L281.5,284.5L282.0,284.6L282.5,284.3L283.0,284.6L283.5,284.7L284.0,284.5L284.5,284.7L285.0,285.1L285.5,284.8L286.0,285.0L286.5,284.8L287.0,284.9L287.5,284.7L288.0,285.0L288.5,285.3L289.0,285.5L289.5,285.4L290.0,285.3L290.5,285.3L291.0,285.2L291.5,285.3L292.0,285.5L292.5,285.3L293.0,285.6L293.5,285.3L294.0,285.2L294.5,285.4L295.0,285.4L295.5,285.4L296.0,285.9L296.5,285.7L297.0,285.9L297.5,286.1L298.0,286.1L298.5,285.9L299.0,286.2L299.5,286.1L300.0,286.1L300.5,286.2L301.0,285.9L301.5,286.0L302.0,286.2L302.5,286.4L303.0,286.2L303.5,286.3L304.0,286.5L304.5,286.7L305.0,286.6L305.5,286.7L306.0,286.4L306.5,286.5L307.0,286.6L307.5,286.5L308.0,286.5L308.5,287.0L309.0,286.6L309.5,286.5L310.0,286.8L310.5,287.1L311.0,286.8L311.5,287.0L312.0,286.8L312.5,286.8L313.0,286.8L313.5,286.9L314.0,287.3L314.5,286.7L315.0,287.3L315.5,286.8L316.0,286.9L316.5,287.2L317.0,287.1L317.5,287.1L318.0,286.7L318.5,287.1L319.0,286.9L319.5,287.5L320.0,287.1L320.5,287.1L321.0,286.9L321.5,287.0L322.0,286.9L322.5,287.3L323.0,287.1L323.5,287.3L324.0,287.1L324.5,287.1L325.0,287.4L325.5,287.1L326.0,286.9L326.5,287.3L327.0,287.1L327.5,287.2L328.0,287.4L328.5,287.1L329.0,287.5L329.5,287.2L330.0,287.6L330.5,287.6L331.0,287.3L331.5,287.3L332.0,287.2L332.5,287.4L333.0,287.6L333.5,287.1L334.0,287.6L334.5,287.2L335.0,287.3L335.5,287.1L336.0,287.8L336.5,287.5L337.0,287.5L337.5,287.3L338.0,287.7L338.5,287.1L339.0,287.5L339.5,287.9L340.0,287.4L340.5,287.5L341.0,287.6L341.5,287.4L342.0,287.5L342.5,287.7L343.0,287.6L343.5,287.6L344.0,287.5L344.5,287.6L345.0,287.6L345.5,287.8L346.0,287.7L346.5,287.5L347.0,287.1L347.5,287.7L348.0,287.7L348.5,287.4L349.0,287.2L349.5,287.4L350.0,287.8L350.5,287.4L351.0,287.5L351.5,287.6L352.0,287.8L352.5,287.6L353.0,287.6L353.5,287.5L354.0,287.9L354.5,287.8L355.0,287.6L355.5,287.3L356.0,287.5L356.5,287.7L357.0,287.5L357.5,287.8L358.0,287.7L358.5,287.7L359.0,287.7L359.5,287.7L360.0,287.4L360.5,287.5L361.0,288.0L361.5,287.4L362.0,287.5L362.5,287.8L363.0,287.6L363.5,287.5L364.0,287.4L364.5,287.7L365.0,287.8L365.5,287.9L366.0,287.6L366.5,287.8L367.0,287.4L367.5,287.6L368.0,287.5L368.5,287.6L369.0,287.7L369.5,287.8L370.0,287.4L370.5,287.8L371.0,287.5L371.5,287.4L372.0,287.6L372.5,287.3L373.0,287.6L373.5,287.7L374.0,287.6L374.5,287.7L375.0,287.5L375.5,287.6L376.0,287.3L376.5,287.6L377.0,287.4L377.5,287.5L378.0,287.6L378.5,287.6L379.0,287.3L379.5,287.3L380.0,287.5L380.5,287.7L381.0,287.7L381.5,287.8L382.0,287.8L382.5,287.7L383.0,287.6L383.5,287.4L384.0,287.4L384.5,287.5L385.0,287.6L385.5,287.6L386.0,287.6L386.5,287.6L387.0,287.7L387.5,287.6L388.0,287.7L388.5,287.7L389.0,287.5L389.5,287.4L390.0,287.7L390.5,287.7L391.0,287.6L391.5,287.5L392.0,288.0L392.5,287.5L393.0,287.6L393.5,287.6L394.0,287.4L394.5,287.6L395.0,287.9L395.5,287.8L396.0,287.7L396.5,287.7L397.0,287.6L397.5,287.7L398.0,287.5L398.5,287.5L399.0,287.6L399.5,287.7L400.0,287.6L400.5,287.7L401.0,287.2L401.5,287.7L402.0,287.9L402.5,287.7L403.0,287.4L403.5,287.3L404.0,287.5L404.5,287.3L405.0,287.6L405.5,287.3L406.0,287.6L406.5,287.7L407.0,287.0L407.5,287.4L408.0,287.3L408.5,287.1L409.0,287.2L409.5,287.3L410.0,287.5L410.5,287.0L411.0,287.5L411.5,287.7L412.0,287.4L412.5,287.4L413.0,287.2L413.5,287.0L414.0,287.3L414.5,287.3L415.0,287.3L415.5,287.6L416.0,287.3L416.5,287.2L417.0,287.4L417.5,286.9L418.0,286.9L418.5,287.0L419.0,287.0L419.5,287.2L420.0,287.0L420.5,287.3L421.0,287.3L421.5,287.1L422.0,286.9L422.5,287.1L423.0,287.1L423.5,286.7L424.0,287.0L424.5,287.0L425.0,286.9L425.5,287.1L426.0,287.1L426.5,286.7L427.0,286.8L427.5,286.6L428.0,286.9L428.5,286.6L429.0,286.9L429.5,286.8L430.0,286.8L430.5,286.6L431.0,286.4L431.5,286.9L432.0,286.5L432.5,286.8L433.0,286.6L433.5,286.6L434.0,286.8L434.5,286.5L435.0,286.7L435.5,286.1L436.0,286.5L436.5,286.3L437.0,286.3L437.5,286.2L438.0,286.3L438.5,286.5L439.0,285.8L439.5,286.1L440.0,285.9L440.5,286.2L441.0,285.9L441.5,286.0L442.0,285.9L442.5,286.0L443.0,286.0L443.5,285.7L444.0,285.8L444.5,285.5L445.0,285.7L445.5,285.8L446.0,285.5L446.5,285.8L447.0,285.1L447.5,285.1L448.0,285.2L448.5,285.3L449.0,285.3L449.5,285.2L450.0,285.1L450.5,285.2L451.0,284.9L451.5,284.6L452.0,284.5L452.5,285.0L453.0,284.1L453.5,284.4L454.0,284.5L454.5,283.9L455.0,283.0L455.5,282.3L456.0,281.5L456.5,280.7L457.0,279.5L457.5,279.1L458.0,278.6L458.5,278.6L459.0,279.0L459.5,279.3L460.0,279.9L460.5,281.2L461.0,282.5L461.5,283.2L462.0,283.8L462.5,284.7L463.0,284.2L463.5,284.6L464.0,284.4L464.5,284.5L465.0,284.6L465.5,284.9L466.0,284.5L466.5,284.6L467.0,284.4L467.5,284.8L468.0,284.7L468.5,284.9L469.0,284.6L469.5,284.8L470.0,285.1L470.5,284.9L471.0,285.1L471.5,285.1L472.0,285.0L472.5,284.8L473.0,285.3L473.5,285.2L474.0,285.4L474.5,284.9L475.0,285.0L475.5,284.9L476.0,285.2L476.5,285.6L477.0,285.6L477.5,285.5L478.0,285.6L478.5,285.7L479.0,285.6L479.5,285.7L480.0,285.7L480.5,285.3L481.0,285.7L481.5,286.0L482.0,285.8L482.5,285.9L483.0,285.8L483.5,285.9L484.0,286.2L484.5,286.0L485.0,285.9L485.5,285.5L486.0,286.0L486.5,285.8L487.0,285.9L487.5,286.4L488.0,286.4L488.5,286.0L489.0,286.5L489.5,286.5L490.0,286.3L490.5,286.6L491.0,286.2L491.5,286.3L492.0,286.3L492.5,286.3L493.0,286.7L493.5,286.4L494.0,286.4L494.5,286.5L495.0,286.7L495.5,286.6L496.0,286.9L496.5,286.6L497.0,286.5L497.5,286.7L498.0,286.8L498.5,286.7L499.0,286.9L499.5,287.2L500.0,286.8L500.5,286.9L501.0,287.2L501.5,286.9L502.0,286.9L502.5,286.8L503.0,287.1L503.5,287.2L504.0,287.1L504.5,287.1L505.0,287.4L505.5,287.3L506.0,286.9L506.5,287.2L507.0,287.3L507.5,287.4L508.0,287.2L508.5,287.2L509.0,287.2L509.5,287.0L510.0,287.3L510.5,287.3L511.0,287.5L511.5,287.2L512.0,287.3L512.5,287.2L513.0,287.2L513.5,287.6L514.0,287.4L514.5,287.5L515.0,287.3L515.5,287.5L516.0,287.2L516.5,287.4L517.0,287.4L517.5,287.6L518.0,287.5L518.5,287.5L519.0,287.6L519.5,287.3L520.0,287.1L520.5,286.9L521.0,286.4L521.5,286.1L522.0,285.9L522.5,285.4L523.0,285.3L523.5,285.3L524.0,285.2L524.5,284.9L525.0,284.9L525.5,285.4L526.0,285.7L526.5,286.3L527.0,286.4L527.5,286.8L528.0,287.4L528.5,287.5L529.0,287.8L529.5,288.3L530.0,288.3L530.5,288.1L531.0,288.1L531.5,287.9L532.0,288.2L532.5,288.1L533.0,288.2L533.5,288.1L534.0,288.2L534.5,288.2L535.0,288.3L535.5,288.5L536.0,288.3L536.5,288.0L537.0,288.1L537.5,288.0L538.0,288.2L538.5,288.4L539.0,288.4L539.5,288.3L540.0,288.4L540.5,288.3L541.0,288.2L541.5,288.2L542.0,288.3L542.5,288.7L543.0,288.2L543.5,288.7L544.0,288.7L544.5,288.5L545.0,288.5L545.5,288.4L546.0,288.5L546.5,288.7L547.0,288.6L547.5,288.8L548.0,288.8L548.5,288.7L549.0,288.7L549.5,288.6L550.0,288.7L550.5,288.4L551.0,288.7L551.5,288.7L552.0,288.5L552.5,289.1L553.0,288.5L553.5,288.5L554.0,288.7L554.5,288.3L555.0,288.6L555.5,288.4L556.0,288.5L556.5,288.7L557.0,288.8L557.5,288.9L558.0,288.9L558.5,289.0L559.0,288.8L559.5,288.7L560.0,289.0L560.5,288.7L561.0,288.6L561.5,289.0L562.0,288.9L562.5,288.8L563.0,288.9L563.5,288.9L564.0,288.5L564.5,288.8L565.0,288.6L565.5,288.8L566.0,288.7L566.5,289.0L567.0,288.9L567.5,288.6L568.0,288.8L568.5,288.6L569.0,288.8L569.5,288.9L570.0,288.8L570.5,288.4L571.0,288.7L571.5,288.9L572.0,288.8L572.5,289.0L573.0,288.6L573.5,288.9L574.0,288.7L574.5,288.8L575.0,288.9L575.5,288.9L576.0,288.7L576.5,288.8L577.0,288.6L577.5,288.5L578.0,288.9L578.5,288.8L579.0,288.5L579.5,288.6L580.0,288.8L580.5,289.1L581.0,289.0L581.5,288.9L582.0,288.5L582.5,288.8L583.0,288.9L583.5,288.9L584.0,288.9L584.5,288.7L585.0,289.1L585.5,289.1L586.0,288.8L586.5,288.6L587.0,289.2L587.5,288.7L588.0,289.0L588.5,289.1L589.0,288.6L589.5,288.8L590.0,288.7L590.5,288.9L591.0,288.8L591.5,289.1L592.0,288.9L592.5,288.8L593.0,289.0L593.5,288.7L594.0,288.7L594.5,289.2L595.0,288.6L595.5,288.7L596.0,288.8L596.5,288.6L597.0,288.4L597.5,289.0L598.0,288.6L598.5,288.7L599.0,288.6L599.5,288.4L600.0,288.3L600.5,288.4L601.0,288.6L601.5,288.2L602.0,288.0L602.5,287.5L603.0,287.7L603.5,287.5L604.0,287.9L604.5,287.8L605.0,287.9L605.5,288.1L606.0,288.2L606.5,288.2L607.0,288.8L607.5,288.6L608.0,288.7L608.5,288.9L609.0,288.9L609.5,289.0L610.0,289.2L610.5,289.0L611.0,289.0L611.5,289.0L612.0,289.1L612.5,288.7L613.0,289.1L613.5,288.8L614.0,288.8L614.5,289.0L615.0,288.9L615.5,289.1L616.0,289.2L616.5,288.6L617.0,289.0L617.5,289.3L618.0,289.1L618.5,289.2L619.0,289.0L619.5,288.7L620.0,288.8L620.5,289.1L621.0,289.1L621.5,288.8L622.0,288.9L622.5,289.0L623.0,288.7L623.5,288.9L624.0,289.3L624.5,289.4L625.0,288.9L625.5,289.3L626.0,288.9L626.5,288.8L627.0,288.6L627.5,289.1L628.0,288.9L628.5,289.4L629.0,289.0L629.5,289.0L630.0,288.6L630.5,289.2L631.0,288.9L631.5,288.9L632.0,288.5L632.5,289.1L633.0,289.1L633.5,288.8L634.0,288.9L634.5,289.0L635.0,289.1L635.5,288.9L636.0,289.2L636.5,288.9L637.0,288.8L637.5,288.8L638.0,288.4L638.5,288.7L639.0,289.1L639.5,288.9L640.0,288.7L640.5,288.9L641.0,288.5L641.5,288.8L642.0,288.9L642.5,289.0L643.0,288.7L643.5,289.0L644.0,289.2L644.5,288.7L645.0,288.9L645.5,288.5L646.0,288.4L646.5,288.9L647.0,288.8L647.5,288.8L648.0,288.7L648.5,288.7L649.0,288.9L649.5,289.1L650.0,288.7L650.5,288.4L651.0,289.0L651.5,288.8L652.0,288.8L652.5,288.7L653.0,289.1L653.5,288.7L654.0,288.8L654.5,288.3L655.0,288.6L655.5,288.5L656.0,288.6L656.5,288.7L657.0,288.5L657.5,288.9L658.0,288.4L658.5,288.5L659.0,288.5L659.5,287.9L660.0,287.8L660.5,287.4L661.0,286.7L661.5,286.5L662.0,285.6L662.5,285.1L663.0,284.3L663.5,283.7L664.0,283.6L664.5,283.4L665.0,283.3L665.5,283.6L666.0,283.4L666.5,284.0L667.0,284.5L667.5,285.7L668.0,286.0L668.5,286.7L669.0,287.3L669.5,288.2L670.0,288.5L670.5,288.9L671.0,288.6L671.5,289.2L672.0,289.1L672.5,289.2L673.0,289.3L673.5,289.1L674.0,289.1L674.5,289.3L675.0,289.3L675.5,289.2L676.0,289.3L676.5,289.2L677.0,289.5L677.5,289.5L678.0,289.4L678.5,289.7L679.0,289.1L679.5,289.4L680.0,289.8L680.5,289.4L681.0,289.2L681.5,289.8L682.0,289.6L682.5,289.3L683.0,289.7L683.5,289.4L684.0,289.4L684.5,289.6L685.0,289.5L685.5,289.4L686.0,289.6L686.5,289.5L687.0,289.7L687.5,289.7L688.0,289.8L688.5,289.6L689.0,289.5L689.5,289.5L690.0,289.7L690.5,290.0L691.0,289.9L691.5,289.6L692.0,289.9L692.5,289.5L693.0,289.9L693.5,289.7L694.0,289.9L694.5,289.9L695.0,289.7L695.5,289.8L696.0,289.6L696.5,289.8L697.0,290.0L697.5,290.5L698.0,289.9L698.5,289.8L699.0,289.6L699.5,290.0L700.0,289.5L700.5,289.6L701.0,289.9L701.5,289.6L702.0,290.1L702.5,290.0L703.0,289.7L703.5,289.7L704.0,289.5L704.5,289.5L705.0,289.8L705.5,289.8L706.0,289.8L706.5,289.7L707.0,289.6L707.5,289.7L708.0,289.4L708.5,289.6L709.0,289.9L709.5,289.8L710.0,289.3L710.5,289.2L711.0,289.2L711.5,289.1L712.0,288.3L712.5,288.2L713.0,288.2L713.5,288.3L714.0,287.8L714.5,288.1L715.0,288.1L715.5,288.7L716.0,288.6L716.5,288.7L717.0,288.9L717.5,289.4L718.0,289.6L718.5,289.5L719.0,289.9L719.5,289.7L720.0,289.9L720.5,289.8L721.0,289.8L721.5,289.9L722.0,289.8L722.5,290.1L723.0,290.2L723.5,290.0L724.0,289.8L724.5,290.2L725.0,289.7L725.5,289.7L726.0,290.2L726.5,290.2L727.0,290.2L727.5,290.0L728.0,289.8L728.5,290.0L729.0,290.2L729.5,290.0L730.0,290.0L730.5,289.8L731.0,289.9L731.5,290.3L732.0,290.2L732.5,289.9L733.0,289.9L733.5,290.0L734.0,290.2L734.5,289.9L735.0,290.1L735.5,289.7L736.0,289.9L736.5,290.2L737.0,290.3L737.5,289.9L738.0,290.0L738.5,290.3L739.0,290.1L739.5,290.1L740.0,290.2L740.5,290.2L741.0,290.4L741.5,290.3L742.0,290.1L742.5,290.1L743.0,290.2L743.5,289.9L744.0,290.0L744.5,290.3L745.0,289.9L745.5,290.4L746.0,290.2L746.5,290.2L747.0,290.3L747.5,290.3L748.0,290.4L748.5,290.1L749.0,290.1L749.5,290.1L750.0,290.5L750.5,290.4L751.0,290.0L751.5,290.1L752.0,290.1L752.5,290.2L753.0,290.2L753.5,290.6L754.0,289.9L754.5,290.4L755.0,290.3L755.5,290.1L756.0,290.2L756.5,290.1L757.0,290.2L757.5,290.4L758.0,289.9L758.5,290.4L759.0,290.1L759.5,290.5L760.0,290.3L760.5,290.4L761.0,290.3L761.5,290.4L762.0,290.2L762.5,290.0L763.0,290.2L763.5,290.2L764.0,290.3L764.5,289.4L765.0,289.6L765.5,289.7L766.0,289.2L766.5,289.3L767.0,289.7L767.5,289.6L768.0,289.2L768.5,289.7L769.0,289.7L769.5,289.8L770.0,289.9L770.5,290.0L771.0,289.9L771.5,290.1L772.0,290.5L772.5,290.5L773.0,290.8L773.5,290.5L774.0,290.1L774.5,290.5L775.0,290.7L775.5,290.7L776.0,290.7L776.5,290.5L777.0,291.0L777.5,290.6L778.0,290.9L778.5,290.7L779.0,290.6L779.5,291.1L780.0,290.4L780.5,290.7L781.0,291.0L781.5,290.8L782.0,291.0L782.5,290.9L783.0,290.9L783.5,291.4L784.0,290.9L784.5,291.0L785.0,290.8L785.5,290.9L786.0,291.2L786.5,291.2L787.0,291.1L787.5,291.0L788.0,291.2L788.5,290.8L789.0,291.1L789.5,291.1L790.0,291.0L790.5,291.2L791.0,291.1L791.5,291.1L792.0,291.5L792.5,291.4L793.0,291.5L793.5,291.3L794.0,291.4L794.5,291.4L795.0,291.5L795.5,291.7L796.0,291.3L796.5,291.4L797.0,291.3L797.5,290.7L798.0,291.1L798.5,291.4L799.0,291.5L799.5,291.3L800.0,291.6L800.5,291.6L801.0,291.3L801.5,291.7L802.0,291.7L802.5,291.5L803.0,291.3L803.5,291.7L804.0,291.4L804.5,291.4L805.0,291.5L805.5,291.4L806.0,291.7L806.5,291.6L807.0,291.7L807.5,291.6L808.0,291.4L808.5,291.5L809.0,291.7L809.5,291.5L810.0,292.1L810.5,291.5L811.0,291.5L811.5,291.8L812.0,291.7L812.5,291.6L813.0,291.5L813.5,291.7L814.0,291.7L814.5,291.7L815.0,291.6L815.5,291.7L816.0,291.8L816.5,291.8L817.0,291.1L817.5,291.5L818.0,291.5L818.5,291.6L819.0,291.7L819.5,291.8L820.0,291.8L820.5,291.7L821.0,291.7L821.5,292.0L822.0,291.6L822.5,291.8L823.0,292.0L823.5,291.8L824.0,291.4L824.5,291.8L825.0,291.7L825.5,291.8L826.0,292.0L826.5,291.9L827.0,291.8L827.5,292.0L828.0,291.9L828.5,291.8L829.0,291.9L829.5,291.9L830.0,291.8L830.5,291.8L831.0,291.9L831.5,291.7L832.0,291.7L832.5,292.1L833.0,291.9L833.5,291.9L834.0,291.9L834.5,291.9L835.0,292.0L835.5,292.0L836.0,291.8L836.5,292.1L837.0,291.9L837.5,292.2L838.0,291.7L838.5,291.8L839.0,292.2L839.5,292.0L840.0,291.9L840.5,292.1L841.0,291.9L841.5,292.1L842.0,291.7L842.5,292.0L843.0,292.0L843.5,292.2L844.0,292.3L844.5,292.0L845.0,292.4L845.5,292.0L846.0,291.8L846.5,291.7L847.0,292.4L847.5,292.1L848.0,292.1L848.5,292.0L849.0,292.0L849.5,292.4L850.0,292.2L850.5,292.5L851.0,292.2L851.5,291.8L852.0,292.4L852.5,292.2L853.0,292.2L853.5,292.5L854.0,292.2L854.5,292.5L855.0,292.3L855.5,292.2L856.0,292.4L856.5,292.2L857.0,292.5L857.5,292.5L858.0,292.3L858.5,292.4L859.0,292.4L859.5,292.3L860.0,292.5L860.5,292.3L861.0,292.5L861.5,292.2L862.0,292.4L862.5,292.5L863.0,292.3L863.5,292.3L864.0,292.3L864.5,292.6L865.0,292.3L865.5,292.5L866.0,292.7L866.5,292.5L867.0,292.2L867.5,292.5L868.0,292.7L868.5,292.4L869.0,292.7L869.5,292.6L870.0,292.6L870.5,292.5L871.0,292.4L871.5,292.5L872.0,292.5L872.5,292.6L873.0,292.6L873.5,292.5L874.0,292.6L874.5,292.6L875.0,292.3L875.5,292.4L876.0,292.4L876.5,292.5L877.0,292.5L877.5,292.5L878.0,292.4L878.5,292.7L879.0,292.7L879.5,292.3L880.0,292.6L880.5,292.4L881.0,292.9L881.5,292.6L882.0,292.6L882.5,292.7L883.0,292.6L883.5,292.7L884.0,293.0L884.5,292.7L885.0,292.8L885.5,292.9L886.0,292.5L886.5,293.0L887.0,292.8L887.5,292.9L888.0,292.6L888.5,292.9L889.0,292.8L889.5,292.6L890.0,293.2L890.5,292.8L891.0,292.7L891.5,292.8L892.0,292.9L892.5,293.0L893.0,292.9L893.5,293.0L894.0,293.1L894.5,292.6L895.0,292.7L895.5,292.6L896.0,292.8L896.5,293.1L897.0,292.9L897.5,292.6L898.0,292.8L898.5,293.0L899.0,292.7L899.5,292.8L900.0,292.9L900.5,292.5L901.0,293.0L901.5,292.9L902.0,293.0L902.5,292.7L903.0,292.7L903.5,292.8L904.0,292.9L904.5,292.9L905.0,292.9L905.5,293.2L906.0,293.1L906.5,292.8L907.0,292.8L907.5,293.2L908.0,292.9L908.5,293.2L909.0,293.2L909.5,292.8L910.0,292.9L910.5,293.0L911.0,292.8L911.5,292.8L912.0,292.9L912.5,293.1L913.0,292.9L913.5,292.9L914.0,292.9L914.5,292.7L915.0,293.3L915.5,292.6L916.0,292.9L916.5,293.1L917.0,292.8L917.5,293.1L918.0,293.2L918.5,292.9L919.0,293.1L919.5,292.8L920.0,293.1L920.5,293.1L921.0,293.1L921.5,293.3L922.0,293.1L922.5,293.3L923.0,293.2L923.5,292.8L924.0,293.1L924.5,293.2L925.0,292.8L925.5,293.3L926.0,293.1L926.5,293.1L927.0,292.9L927.5,293.1L928.0,293.1L928.5,293.0L929.0,293.1L929.5,292.7L930.0,293.3" fill="none" stroke="#000" stroke-width="2.9" stroke-linejoin="round" stroke-linecap="butt"/>
<path d="M70.0,452.0L70.5,452.4L71.0,451.3L71.5,450.1L72.0,450.3L72.5,449.7L73.0,451.3L73.5,454.8L74.0,450.1L74.5,449.8L75.0,451.6L75.5,451.2L76.0,450.7L76.5,448.8L77.0,450.2L77.5,451.4L78.0,447.8L78.5,449.2L79.0,446.6L79.5,447.5L80.0,446.5L80.5,449.2L81.0,447.3L81.5,449.9L82.0,449.6L82.5,448.9L83.0,444.8L83.5,448.2L84.0,448.9L84.5,449.1L85.0,446.2L85.5,448.0L86.0,447.1L86.5,447.3L87.0,450.5L87.5,447.2L88.0,448.5L88.5,450.0L89.0,446.8L89.5,448.2L90.0,448.5L90.5,448.4L91.0,446.1L91.5,448.3L92.0,450.5L92.5,445.4L93.0,449.6L93.5,448.3L94.0,446.9L94.5,451.5L95.0,449.3L95.5,445.8L96.0,448.0L96.5,448.8L97.0,447.4L97.5,448.9L98.0,447.6L98.5,448.8L99.0,450.1L99.5,446.4L100.0,447.9L100.5,446.7L101.0,447.6L101.5,445.3L102.0,446.3L102.5,446.9L103.0,448.8L103.5,449.2L104.0,444.8L104.5,445.7L105.0,448.2L105.5,443.5L106.0,446.1L106.5,446.7L107.0,449.0L107.5,447.9L108.0,446.1L108.5,445.9L109.0,446.1L109.5,449.1L110.0,445.2L110.5,445.7L111.0,446.8L111.5,445.9L112.0,445.7L112.5,444.0L113.0,445.9L113.5,445.0L114.0,447.8L114.5,446.8L115.0,445.5L115.5,446.6L116.0,444.7L116.5,447.1L117.0,445.1L117.5,446.1L118.0,442.6L118.5,445.5L119.0,441.7L119.5,441.0L120.0,444.0L120.5,442.9L121.0,444.7L121.5,448.3L122.0,442.7L122.5,443.0L123.0,444.3L123.5,444.8L124.0,443.5L124.5,443.3L125.0,444.9L125.5,444.4L126.0,441.5L126.5,443.2L127.0,443.3L127.5,441.2L128.0,443.5L128.5,441.4L129.0,444.6L129.5,443.1L130.0,442.8L130.5,441.5L131.0,442.3L131.5,438.7L132.0,439.0L132.5,442.9L133.0,438.2L133.5,443.6L134.0,438.8L134.5,443.3L135.0,440.2L135.5,443.1L136.0,441.9L136.5,438.7L137.0,443.8L137.5,444.0L138.0,441.2L138.5,440.7L139.0,440.8L139.5,439.3L140.0,443.0L140.5,439.9L141.0,440.7L141.5,439.3L142.0,439.5L142.5,438.2L143.0,442.8L143.5,440.1L144.0,442.1L144.5,440.3L145.0,438.9L145.5,439.5L146.0,438.9L146.5,439.9L147.0,439.1L147.5,439.2L148.0,437.1L148.5,438.0L149.0,442.6L149.5,438.1L150.0,437.3L150.5,439.8L151.0,441.7L151.5,436.3L152.0,438.5L152.5,437.6L153.0,435.4L153.5,440.0L154.0,438.5L154.5,438.6L155.0,436.9L155.5,439.1L156.0,437.1L156.5,437.8L157.0,435.8L157.5,435.5L158.0,440.2L158.5,436.6L159.0,438.0L159.5,437.3L160.0,436.4L160.5,436.1L161.0,438.2L161.5,436.3L162.0,436.4L162.5,436.7L163.0,438.7L163.5,437.7L164.0,437.0L164.5,435.1L165.0,433.4L165.5,437.7L166.0,437.6L166.5,435.4L167.0,436.6L167.5,436.9L168.0,436.9L168.5,437.0L169.0,434.2L169.5,437.9L170.0,432.5L170.5,436.4L171.0,435.6L171.5,436.3L172.0,438.1L172.5,437.3L173.0,432.1L173.5,430.9L174.0,435.7L174.5,432.1L175.0,433.9L175.5,435.5L176.0,430.6L176.5,429.6L177.0,434.2L177.5,433.7L178.0,433.1L178.5,433.6L179.0,431.8L179.5,430.4L180.0,433.0L180.5,431.4L181.0,430.0L181.5,434.2L182.0,433.0L182.5,433.9L183.0,431.1L183.5,431.7L184.0,431.0L184.5,431.2L185.0,433.5L185.5,431.3L186.0,433.4L186.5,433.4L187.0,436.6L187.5,428.2L188.0,434.3L188.5,432.3L189.0,432.4L189.5,429.5L190.0,431.4L190.5,433.7L191.0,432.0L191.5,432.3L192.0,431.5L192.5,434.2L193.0,431.9L193.5,427.5L194.0,430.4L194.5,427.8L195.0,425.1L195.5,430.4L196.0,434.0L196.5,431.4L197.0,428.8L197.5,429.2L198.0,433.2L198.5,431.1L199.0,430.8L199.5,430.5L200.0,430.5L200.5,431.9L201.0,431.3L201.5,430.5L202.0,427.9L202.5,430.8L203.0,428.3L203.5,431.7L204.0,426.9L204.5,429.0L205.0,429.1L205.5,426.3L206.0,432.3L206.5,431.6L207.0,427.6L207.5,429.9L208.0,429.0L208.5,419.6L209.0,428.4L209.5,427.6L210.0,427.8L210.5,425.3L211.0,426.8L211.5,426.8L212.0,429.4L212.5,427.5L213.0,426.7L213.5,429.6L214.0,425.2L214.5,425.4L215.0,422.3L215.5,429.1L216.0,427.7L216.5,427.4L217.0,427.5L217.5,425.4L218.0,425.4L218.5,423.9L219.0,424.2L219.5,424.5L220.0,427.3L220.5,425.2L221.0,423.7L221.5,422.4L222.0,422.1L222.5,426.6L223.0,424.1L223.5,423.0L224.0,421.9L224.5,420.1L225.0,422.1L225.5,423.9L226.0,421.0L226.5,421.1L227.0,421.0L227.5,421.4L228.0,417.7L228.5,420.3L229.0,418.8L229.5,422.3L230.0,418.6L230.5,421.2L231.0,423.0L231.5,418.9L232.0,418.1L232.5,419.6L233.0,419.0L233.5,416.7L234.0,419.6L234.5,422.7L235.0,417.6L235.5,417.6L236.0,415.5L236.5,418.3L237.0,414.7L237.5,414.8L238.0,419.7L238.5,414.8L239.0,418.9L239.5,419.7L240.0,416.7L240.5,417.9L241.0,420.0L241.5,415.1L242.0,414.0L242.5,412.1L243.0,414.9L243.5,417.9L244.0,416.5L244.5,412.1L245.0,412.1L245.5,412.6L246.0,414.1L246.5,412.8L247.0,413.5L247.5,413.4L248.0,411.8L248.5,412.2L249.0,412.5L249.5,411.6L250.0,412.6L250.5,415.4L251.0,412.3L251.5,410.8L252.0,406.6L252.5,411.0L253.0,405.5L253.5,406.4L254.0,411.2L254.5,411.6L255.0,408.4L255.5,404.6L256.0,407.3L256.5,406.3L257.0,409.0L257.5,412.4L258.0,407.4L258.5,404.9L259.0,403.7L259.5,405.9L260.0,405.3L260.5,402.8L261.0,405.4L261.5,402.2L262.0,407.1L262.5,406.7L263.0,406.4L263.5,402.5L264.0,404.5L264.5,402.7L265.0,401.7L265.5,401.5L266.0,399.0L266.5,398.3L267.0,403.2L267.5,400.6L268.0,401.3L268.5,402.8L269.0,396.0L269.5,397.9L270.0,399.9L270.5,400.0L271.0,397.9L271.5,400.9L272.0,398.6L272.5,394.9L273.0,395.2L273.5,399.0L274.0,397.8L274.5,391.8L275.0,399.3L275.5,397.1L276.0,398.5L276.5,394.0L277.0,393.9L277.5,391.5L278.0,400.0L278.5,393.0L279.0,396.9L279.5,391.1L280.0,392.7L280.5,387.8L281.0,390.5L281.5,393.4L282.0,387.5L282.5,392.8L283.0,390.6L283.5,386.7L284.0,387.6L284.5,387.3L285.0,387.9L285.5,386.2L286.0,385.0L286.5,385.9L287.0,383.6L287.5,382.5L288.0,385.2L288.5,387.1L289.0,380.6L289.5,384.0L290.0,381.9L290.5,380.6L291.0,384.8L291.5,380.9L292.0,385.6L292.5,379.4L293.0,381.9L293.5,379.9L294.0,378.2L294.5,381.2L295.0,378.9L295.5,381.3L296.0,378.3L296.5,375.2L297.0,377.4L297.5,377.3L298.0,379.3L298.5,374.0L299.0,375.9L299.5,371.1L300.0,376.9L300.5,371.9L301.0,369.6L301.5,373.8L302.0,376.5L302.5,369.1L303.0,369.9L303.5,370.4L304.0,369.0L304.5,372.6L305.0,369.0L305.5,368.8L306.0,371.9L306.5,367.9L307.0,370.7L307.5,366.6L308.0,365.5L308.5,363.4L309.0,373.0L309.5,366.7L310.0,367.8L310.5,366.6L311.0,366.8L311.5,366.1L312.0,370.7L312.5,362.3L313.0,360.5L313.5,361.5L314.0,360.3L314.5,365.5L315.0,365.3L315.5,360.0L316.0,358.4L316.5,360.9L317.0,365.2L317.5,353.2L318.0,362.0L318.5,357.2L319.0,362.6L319.5,356.3L320.0,358.1L320.5,354.3L321.0,355.3L321.5,361.5L322.0,359.5L322.5,355.6L323.0,353.9L323.5,350.6L324.0,354.4L324.5,355.0L325.0,354.4L325.5,353.9L326.0,350.6L326.5,353.1L327.0,352.8L327.5,356.1L328.0,360.5L328.5,351.2L329.0,349.0L329.5,350.5L330.0,348.6L330.5,347.7L331.0,349.3L331.5,346.0L332.0,350.3L332.5,347.8L333.0,348.9L333.5,346.7L334.0,344.7L334.5,343.7L335.0,345.3L335.5,344.0L336.0,345.8L336.5,344.7L337.0,340.3L337.5,344.1L338.0,339.5L338.5,341.2L339.0,341.7L339.5,336.1L340.0,342.0L340.5,341.8L341.0,340.5L341.5,339.2L342.0,339.0L342.5,336.8L343.0,338.4L343.5,337.2L344.0,338.7L344.5,334.4L345.0,338.2L345.5,337.5L346.0,336.3L346.5,335.0L347.0,337.5L347.5,330.5L348.0,336.4L348.5,335.3L349.0,335.0L349.5,334.9L350.0,331.4L350.5,332.1L351.0,334.4L351.5,333.4L352.0,332.3L352.5,326.7L353.0,332.4L353.5,333.9L354.0,334.9L354.5,330.3L355.0,324.4L355.5,331.6L356.0,327.9L356.5,320.2L357.0,328.7L357.5,322.6L358.0,322.8L358.5,324.4L359.0,329.9L359.5,324.4L360.0,326.0L360.5,330.2L361.0,329.3L361.5,323.7L362.0,322.9L362.5,319.4L363.0,319.5L363.5,323.9L364.0,323.4L364.5,322.2L365.0,324.6L365.5,318.7L366.0,320.6L366.5,322.8L367.0,322.0L367.5,323.2L368.0,320.8L368.5,318.2L369.0,320.0L369.5,315.4L370.0,313.0L370.5,319.6L371.0,317.2L371.5,318.5L372.0,311.2L372.5,314.9L373.0,313.7L373.5,312.4L374.0,307.6L374.5,313.2L375.0,316.7L375.5,314.7L376.0,311.3L376.5,312.9L377.0,315.1L377.5,303.6L378.0,311.8L378.5,313.7L379.0,313.9L379.5,316.9L380.0,314.9L380.5,312.7L381.0,311.9L381.5,313.2L382.0,308.8L382.5,310.2L383.0,313.0L383.5,316.1L384.0,309.2L384.5,309.3L385.0,309.9L385.5,313.4L386.0,308.9L386.5,313.5L387.0,305.6L387.5,308.0L388.0,307.8L388.5,310.9L389.0,311.6L389.5,303.3L390.0,305.1L390.5,309.7L391.0,305.8L391.5,303.0L392.0,311.2L392.5,309.5L393.0,309.5L393.5,306.4L394.0,311.3L394.5,307.2L395.0,311.5L395.5,305.1L396.0,305.3L396.5,308.8L397.0,305.9L397.5,310.4L398.0,309.1L398.5,305.5L399.0,308.8L399.5,307.6L400.0,311.8L400.5,307.0L401.0,307.8L401.5,313.2L402.0,316.5L402.5,315.8L403.0,309.6L403.5,310.1L404.0,314.3L404.5,308.9L405.0,306.1L405.5,309.5L406.0,310.5L406.5,306.4L407.0,303.7L407.5,304.3L408.0,310.9L408.5,306.2L409.0,308.1L409.5,309.0L410.0,310.2L410.5,307.0L411.0,309.6L411.5,305.2L412.0,306.9L412.5,304.9L413.0,312.0L413.5,308.5L414.0,306.4L414.5,307.9L415.0,308.6L415.5,311.8L416.0,304.7L416.5,306.7L417.0,309.1L417.5,318.7L418.0,313.9L418.5,310.8L419.0,313.8L419.5,318.5L420.0,311.6L420.5,311.6L421.0,317.0L421.5,315.4L422.0,316.6L422.5,313.6L423.0,322.0L423.5,322.0L424.0,318.9L424.5,319.7L425.0,311.6L425.5,320.3L426.0,318.1L426.5,320.4L427.0,321.5L427.5,318.6L428.0,314.8L428.5,321.5L429.0,318.4L429.5,320.0L430.0,319.4L430.5,320.6L431.0,314.8L431.5,326.0L432.0,323.3L432.5,326.3L433.0,329.3L433.5,323.5L434.0,318.2L434.5,321.3L435.0,320.7L435.5,323.2L436.0,325.3L436.5,319.2L437.0,326.7L437.5,321.3L438.0,327.2L438.5,326.3L439.0,326.0L439.5,327.1L440.0,326.0L440.5,326.2L441.0,323.4L441.5,328.9L442.0,335.0L442.5,335.9L443.0,334.4L443.5,333.0L444.0,329.4L444.5,336.3L445.0,332.2L445.5,332.7L446.0,332.5L446.5,334.3L447.0,333.1L447.5,334.6L448.0,332.1L448.5,334.7L449.0,343.2L449.5,336.7L450.0,336.7L450.5,339.5L451.0,340.5L451.5,335.7L452.0,338.9L452.5,342.8L453.0,341.4L453.5,341.5L454.0,346.3L454.5,340.3L455.0,343.0L455.5,341.8L456.0,350.7L456.5,338.6L457.0,342.8L457.5,343.7L458.0,347.6L458.5,347.9L459.0,350.6L459.5,342.4L460.0,349.4L460.5,346.8L461.0,346.0L461.5,349.8L462.0,345.9L462.5,342.8L463.0,348.0L463.5,345.0L464.0,347.7L464.5,351.5L465.0,351.0L465.5,354.8L466.0,350.0L466.5,346.4L467.0,348.9L467.5,348.7L468.0,348.1L468.5,353.0L469.0,350.2L469.5,346.8L470.0,354.6L470.5,352.6L471.0,354.3L471.5,353.9L472.0,355.7L472.5,354.4L473.0,358.2L473.5,356.3L474.0,356.6L474.5,357.0L475.0,352.2L475.5,356.2L476.0,356.4L476.5,358.1L477.0,354.2L477.5,363.0L478.0,359.2L478.5,356.1L479.0,355.2L479.5,359.6L480.0,360.6L480.5,359.4L481.0,362.2L481.5,360.7L482.0,364.5L482.5,361.6L483.0,364.0L483.5,367.4L484.0,372.4L484.5,363.3L485.0,365.4L485.5,365.1L486.0,370.1L486.5,365.6L487.0,368.0L487.5,369.9L488.0,368.0L488.5,368.7L489.0,370.7L489.5,367.0L490.0,369.4L490.5,372.7L491.0,374.8L491.5,374.5L492.0,370.9L492.5,374.9L493.0,378.7L493.5,378.6L494.0,377.5L494.5,375.9L495.0,380.4L495.5,377.8L496.0,376.8L496.5,378.3L497.0,384.5L497.5,381.9L498.0,384.8L498.5,381.1L499.0,385.2L499.5,381.8L500.0,383.4L500.5,390.5L501.0,386.6L501.5,383.9L502.0,385.4L502.5,386.9L503.0,389.6L503.5,385.8L504.0,383.1L504.5,387.2L505.0,388.3L505.5,389.0L506.0,392.4L506.5,390.4L507.0,392.0L507.5,387.7L508.0,393.0L508.5,396.4L509.0,393.6L509.5,392.7L510.0,393.1L510.5,397.2L511.0,391.0L511.5,393.4L512.0,395.1L512.5,396.2L513.0,393.7L513.5,396.3L514.0,394.8L514.5,396.2L515.0,395.9L515.5,393.8L516.0,396.9L516.5,399.4L517.0,395.3L517.5,397.4L518.0,399.8L518.5,394.5L519.0,399.3L519.5,396.7L520.0,402.2L520.5,405.3L521.0,404.9L521.5,400.0L522.0,402.5L522.5,401.4L523.0,401.6L523.5,405.3L524.0,398.9L524.5,404.8L525.0,402.5L525.5,406.2L526.0,403.7L526.5,402.0L527.0,404.5L527.5,405.9L528.0,404.6L528.5,406.6L529.0,403.9L529.5,400.5L530.0,407.8L530.5,407.7L531.0,406.7L531.5,406.9L532.0,409.4L532.5,406.3L533.0,406.1L533.5,407.5L534.0,411.0L534.5,405.5L535.0,411.6L535.5,407.8L536.0,407.1L536.5,412.7L537.0,410.0L537.5,407.6L538.0,410.0L538.5,413.2L539.0,414.1L539.5,410.8L540.0,413.0L540.5,414.0L541.0,411.3L541.5,413.8L542.0,413.3L542.5,412.5L543.0,413.0L543.5,414.5L544.0,414.8L544.5,413.8L545.0,414.4L545.5,418.1L546.0,416.4L546.5,418.2L547.0,419.2L547.5,418.2L548.0,422.1L548.5,415.8L549.0,419.6L549.5,417.4L550.0,422.4L550.5,422.4L551.0,414.8L551.5,417.2L552.0,421.0L552.5,421.5L553.0,421.7L553.5,420.3L554.0,421.6L554.5,422.3L555.0,421.1L555.5,423.6L556.0,417.0L556.5,423.3L557.0,420.1L557.5,424.5L558.0,422.3L558.5,421.2L559.0,424.1L559.5,421.7L560.0,421.9L560.5,420.8L561.0,424.3L561.5,425.6L562.0,427.0L562.5,424.8L563.0,427.5L563.5,425.7L564.0,425.7L564.5,427.3L565.0,428.5L565.5,425.9L566.0,426.4L566.5,426.8L567.0,427.6L567.5,425.8L568.0,430.0L568.5,427.3L569.0,429.3L569.5,427.0L570.0,429.6L570.5,429.9L571.0,428.1L571.5,433.7L572.0,430.7L572.5,433.7L573.0,432.3L573.5,429.4L574.0,430.2L574.5,432.1L575.0,431.6L575.5,431.8L576.0,431.4L576.5,428.7L577.0,432.1L577.5,428.5L578.0,433.8L578.5,431.9L579.0,432.2L579.5,433.5L580.0,434.7L580.5,431.6L581.0,431.3L581.5,432.9L582.0,431.3L582.5,433.6L583.0,438.8L583.5,434.0L584.0,437.5L584.5,434.0L585.0,437.4L585.5,436.5L586.0,437.3L586.5,438.7L587.0,441.2L587.5,438.5L588.0,438.7L588.5,436.9L589.0,440.1L589.5,438.8L590.0,442.0L590.5,439.7L591.0,443.3L591.5,436.6L592.0,440.0L592.5,442.4L593.0,440.4L593.5,439.9L594.0,440.8L594.5,439.3L595.0,442.3L595.5,446.8L596.0,444.7L596.5,440.8L597.0,441.5L597.5,442.6L598.0,445.4L598.5,442.4L599.0,442.9L599.5,445.9L600.0,446.2L600.5,444.2L601.0,443.1L601.5,442.6L602.0,444.4L602.5,441.9L603.0,447.4L603.5,445.2L604.0,447.5L604.5,450.1L605.0,449.2L605.5,445.3L606.0,449.1L606.5,449.9L607.0,446.8L607.5,446.7L608.0,448.4L608.5,446.0L609.0,451.6L609.5,445.1L610.0,447.6L610.5,449.3L611.0,449.6L611.5,450.5L612.0,451.0L612.5,450.4L613.0,452.9L613.5,447.5L614.0,451.4L614.5,450.4L615.0,452.1L615.5,452.4L616.0,450.8L616.5,451.4L617.0,454.1L617.5,453.5L618.0,452.0L618.5,456.8L619.0,457.4L619.5,451.3L620.0,454.5L620.5,458.3L621.0,455.6L621.5,454.9L622.0,454.4L622.5,454.0L623.0,454.8L623.5,454.4L624.0,456.7L624.5,455.1L625.0,455.2L625.5,454.1L626.0,456.2L626.5,455.0L627.0,456.3L627.5,458.5L628.0,457.6L628.5,458.0L629.0,457.9L629.5,457.6L630.0,457.5L630.5,457.4L631.0,459.3L631.5,456.5L632.0,460.5L632.5,458.6L633.0,457.6L633.5,458.2L634.0,458.0L634.5,459.5L635.0,458.3L635.5,461.4L636.0,458.5L636.5,456.3L637.0,458.9L637.5,457.1L638.0,460.3L638.5,462.1L639.0,461.6L639.5,458.7L640.0,459.8L640.5,463.8L641.0,461.7L641.5,461.4L642.0,463.1L642.5,465.4L643.0,463.7L643.5,462.1L644.0,462.5L644.5,463.1L645.0,461.3L645.5,460.8L646.0,462.6L646.5,461.2L647.0,462.6L647.5,463.0L648.0,466.5L648.5,461.8L649.0,463.0L649.5,463.0L650.0,464.0L650.5,465.0L651.0,462.8L651.5,462.4L652.0,461.3L652.5,462.5L653.0,464.8L653.5,464.1L654.0,462.7L654.5,463.7L655.0,464.4L655.5,465.2L656.0,463.7L656.5,464.3L657.0,462.0L657.5,463.1L658.0,467.3L658.5,461.8L659.0,464.6L659.5,465.5L660.0,464.7L660.5,464.2L661.0,465.4L661.5,465.5L662.0,465.5L662.5,463.0L663.0,465.6L663.5,463.9L664.0,464.7L664.5,466.4L665.0,467.1L665.5,467.6L666.0,465.6L666.5,467.8L667.0,468.2L667.5,468.3L668.0,468.7L668.5,466.6L669.0,466.6L669.5,468.2L670.0,465.1L670.5,467.5L671.0,466.5L671.5,466.8L672.0,465.0L672.5,466.3L673.0,467.6L673.5,469.0L674.0,469.2L674.5,467.8L675.0,467.7L675.5,466.9L676.0,468.7L676.5,467.9L677.0,469.2L677.5,470.9L678.0,468.5L678.5,465.2L679.0,467.5L679.5,466.7L680.0,467.2L680.5,470.8L681.0,469.3L681.5,467.0L682.0,470.1L682.5,471.0L683.0,468.9L683.5,468.5L684.0,469.1L684.5,470.0L685.0,470.6L685.5,471.4L686.0,471.5L686.5,471.6L687.0,471.9L687.5,471.0L688.0,468.1L688.5,470.1L689.0,470.8L689.5,469.9L690.0,472.5L690.5,470.0L691.0,469.3L691.5,472.7L692.0,471.7L692.5,471.1L693.0,472.2L693.5,472.4L694.0,471.5L694.5,467.8L695.0,470.3L695.5,470.6L696.0,470.0L696.5,471.7L697.0,473.1L697.5,470.9L698.0,470.1L698.5,474.4L699.0,471.1L699.5,470.2L700.0,472.2L700.5,472.5L701.0,471.1L701.5,473.1L702.0,471.5L702.5,471.0L703.0,472.5L703.5,473.4L704.0,471.6L704.5,472.9L705.0,472.4L705.5,476.4L706.0,471.7L706.5,474.6L707.0,472.7L707.5,472.7L708.0,473.9L708.5,474.1L709.0,474.7L709.5,473.5L710.0,472.3L710.5,472.5L711.0,473.9L711.5,474.0L712.0,475.2L712.5,473.9L713.0,474.8L713.5,475.5L714.0,473.7L714.5,471.6L715.0,472.1L715.5,471.8L716.0,475.8L716.5,472.6L717.0,475.4L717.5,474.6L718.0,476.1L718.5,475.2L719.0,473.8L719.5,473.7L720.0,474.2L720.5,474.3L721.0,473.4L721.5,474.1L722.0,476.2L722.5,472.0L723.0,474.6L723.5,473.1L724.0,474.5L724.5,475.4L725.0,474.3L725.5,475.4L726.0,472.4L726.5,475.9L727.0,473.7L727.5,475.3L728.0,474.8L728.5,471.2L729.0,473.6L729.5,474.9L730.0,476.7L730.5,475.1L731.0,475.1L731.5,472.9L732.0,476.6L732.5,477.1L733.0,474.9L733.5,474.6L734.0,472.8L734.5,476.0L735.0,478.4L735.5,475.9L736.0,476.6L736.5,475.7L737.0,473.8L737.5,476.8L738.0,473.5L738.5,474.8L739.0,475.5L739.5,476.3L740.0,475.7L740.5,475.7L741.0,473.7L741.5,473.6L742.0,475.3L742.5,473.8L743.0,473.6L743.5,473.7L744.0,474.7L744.5,473.0L745.0,473.6L745.5,473.3L746.0,475.6L746.5,475.9L747.0,478.0L747.5,473.5L748.0,474.6L748.5,477.3L749.0,475.2L749.5,475.1L750.0,477.7L750.5,475.1L751.0,474.1L751.5,473.9L752.0,476.0L752.5,476.0L753.0,473.9L753.5,474.4L754.0,476.3L754.5,476.4L755.0,474.9L755.5,476.5L756.0,476.4L756.5,473.5L757.0,475.4L757.5,476.3L758.0,475.1L758.5,473.1L759.0,475.5L759.5,476.8L760.0,477.8L760.5,473.1L761.0,479.2L761.5,474.5L762.0,477.1L762.5,478.4L763.0,477.2L763.5,476.1L764.0,474.5L764.5,476.8L765.0,475.1L765.5,472.8L766.0,479.6L766.5,477.0L767.0,478.4L767.5,475.0L768.0,478.0L768.5,478.1L769.0,478.1L769.5,476.2L770.0,474.7L770.5,476.0L771.0,473.5L771.5,474.1L772.0,476.4L772.5,475.1L773.0,476.1L773.5,476.2L774.0,478.8L774.5,478.0L775.0,476.3L775.5,477.9L776.0,475.4L776.5,476.0L777.0,477.6L777.5,474.9L778.0,476.1L778.5,474.8L779.0,476.7L779.5,478.6L780.0,475.6L780.5,476.8L781.0,475.4L781.5,475.1L782.0,475.0L782.5,478.4L783.0,479.5L783.5,477.2L784.0,475.7L784.5,477.5L785.0,476.2L785.5,477.6L786.0,477.0L786.5,476.9L787.0,477.4L787.5,475.9L788.0,476.1L788.5,474.4L789.0,476.0L789.5,474.8L790.0,476.4L790.5,475.4L791.0,476.7L791.5,477.1L792.0,474.8L792.5,475.5L793.0,475.4L793.5,477.5L794.0,478.7L794.5,477.6L795.0,476.1L795.5,478.4L796.0,474.6L796.5,478.4L797.0,475.7L797.5,473.0L798.0,479.8L798.5,478.5L799.0,475.2L799.5,476.7L800.0,476.2L800.5,476.6L801.0,474.6L801.5,475.6L802.0,477.0L802.5,476.7L803.0,477.9L803.5,476.5L804.0,479.3L804.5,475.5L805.0,476.7L805.5,474.0L806.0,474.8L806.5,478.0L807.0,475.2L807.5,477.4L808.0,476.2L808.5,475.0L809.0,475.9L809.5,475.6L810.0,475.7L810.5,477.2L811.0,477.1L811.5,475.5L812.0,475.1L812.5,476.5L813.0,476.0L813.5,478.2L814.0,479.4L814.5,477.1L815.0,476.0L815.5,475.8L816.0,474.9L816.5,474.8L817.0,474.7L817.5,475.4L818.0,475.3L818.5,476.8L819.0,475.3L819.5,475.5L820.0,473.3L820.5,477.8L821.0,476.3L821.5,477.9L822.0,476.6L822.5,477.4L823.0,475.2L823.5,476.4L824.0,478.9L824.5,473.8L825.0,476.9L825.5,477.5L826.0,475.8L826.5,476.2L827.0,476.9L827.5,474.3L828.0,475.7L828.5,474.0L829.0,474.2L829.5,474.2L830.0,474.8L830.5,475.3L831.0,475.6L831.5,473.1L832.0,477.5L832.5,476.4L833.0,475.8L833.5,474.4L834.0,474.7L834.5,475.5L835.0,475.3L835.5,472.5L836.0,475.7L836.5,478.5L837.0,472.2L837.5,476.7L838.0,475.1L838.5,474.4L839.0,476.4L839.5,473.0L840.0,474.7L840.5,476.4L841.0,474.2L841.5,473.9L842.0,474.6L842.5,473.8L843.0,476.5L843.5,473.2L844.0,475.5L844.5,472.7L845.0,475.2L845.5,474.1L846.0,470.8L846.5,474.2L847.0,472.8L847.5,473.6L848.0,476.2L848.5,472.7L849.0,472.7L849.5,476.0L850.0,474.2L850.5,476.1L851.0,474.5L851.5,472.8L852.0,473.9L852.5,475.6L853.0,475.2L853.5,473.9L854.0,474.0L854.5,473.7L855.0,473.1L855.5,476.4L856.0,473.8L856.5,472.2L857.0,473.1L857.5,474.7L858.0,474.5L858.5,473.4L859.0,472.7L859.5,473.6L860.0,471.3L860.5,471.8L861.0,474.6L861.5,472.8L862.0,473.9L862.5,475.0L863.0,474.2L863.5,473.3L864.0,476.2L864.5,474.2L865.0,472.7L865.5,474.2L866.0,473.7L866.5,472.0L867.0,473.2L867.5,472.8L868.0,470.3L868.5,472.7L869.0,472.6L869.5,472.3L870.0,470.6L870.5,472.4L871.0,472.8L871.5,472.9L872.0,471.2L872.5,473.6L873.0,471.0L873.5,472.3L874.0,474.4L874.5,471.6L875.0,471.9L875.5,474.0L876.0,472.0L876.5,472.0L877.0,472.7L877.5,473.8L878.0,469.3L878.5,471.2L879.0,470.9L879.5,470.8L880.0,471.1L880.5,471.1L881.0,472.6L881.5,470.9L882.0,472.3L882.5,472.6L883.0,471.0L883.5,472.2L884.0,474.2L884.5,472.4L885.0,471.0L885.5,471.8L886.0,470.6L886.5,472.4L887.0,473.0L887.5,470.6L888.0,471.4L888.5,473.2L889.0,471.0L889.5,471.9L890.0,470.2L890.5,470.5L891.0,470.4L891.5,474.5L892.0,470.9L892.5,470.7L893.0,470.7L893.5,471.2L894.0,472.3L894.5,471.6L895.0,474.1L895.5,471.6L896.0,473.2L896.5,471.6L897.0,472.0L897.5,468.1L898.0,471.0L898.5,471.1L899.0,470.8L899.5,468.2L900.0,472.3L900.5,470.5L901.0,470.5L901.5,470.7L902.0,470.7L902.5,471.6L903.0,469.2L903.5,469.7L904.0,471.3L904.5,471.3L905.0,470.4L905.5,470.1L906.0,469.7L906.5,470.8L907.0,472.5L907.5,469.4L908.0,472.9L908.5,472.0L909.0,470.2L909.5,471.9L910.0,468.8L910.5,468.4L911.0,469.0L911.5,470.2L912.0,470.3L912.5,470.0L913.0,470.8L913.5,467.7L914.0,471.3L914.5,468.7L915.0,469.7L915.5,470.1L916.0,469.0L916.5,468.7L917.0,469.2L917.5,470.6L918.0,471.9L918.5,471.3L919.0,469.2L919.5,469.4L920.0,469.3L920.5,471.1L921.0,467.7L921.5,472.2L922.0,469.8L922.5,469.4L923.0,470.9L923.5,471.9L924.0,470.9L924.5,471.9L925.0,470.7L925.5,472.1L926.0,472.1L926.5,470.3L927.0,472.4L927.5,470.6L928.0,470.5L928.5,469.1L929.0,470.0L929.5,471.5L930.0,468.6" fill="none" stroke="#ff0000" stroke-width="3.2" stroke-linejoin="round" shape-rendering="crispEdges"/>
<path d="M70.0,497.6L70.5,495.8L71.0,498.2L71.5,498.6L72.0,501.2L72.5,498.7L73.0,501.1L73.5,499.0L74.0,504.9L74.5,502.1L75.0,504.8L75.5,499.7L76.0,502.9L76.5,500.2L77.0,503.1L77.5,503.5L78.0,499.7L78.5,500.7L79.0,500.9L79.5,500.5L80.0,502.1L80.5,501.9L81.0,501.3L81.5,504.3L82.0,505.3L82.5,502.3L83.0,503.8L83.5,505.1L84.0,504.9L84.5,504.4L85.0,507.3L85.5,507.7L86.0,507.7L86.5,506.4L87.0,510.6L87.5,510.4L88.0,507.0L88.5,507.8L89.0,510.4L89.5,507.3L90.0,509.7L90.5,509.5L91.0,508.5L91.5,509.7L92.0,507.7L92.5,509.8L93.0,507.7L93.5,515.3L94.0,514.3L94.5,514.1L95.0,512.9L95.5,514.4L96.0,515.1L96.5,515.0L97.0,515.1L97.5,512.3L98.0,514.9L98.5,513.6L99.0,512.8L99.5,513.2L100.0,516.1L100.5,517.4L101.0,513.7L101.5,519.2L102.0,519.0L102.5,516.3L103.0,516.4L103.5,517.3L104.0,519.4L104.5,517.4L105.0,516.5L105.5,519.2L106.0,515.5L106.5,519.4L107.0,521.3L107.5,520.2L108.0,521.3L108.5,521.6L109.0,522.4L109.5,521.1L110.0,519.7L110.5,521.0L111.0,521.5L111.5,523.9L112.0,524.7L112.5,523.1L113.0,521.5L113.5,521.8L114.0,522.9L114.5,525.6L115.0,524.2L115.5,523.9L116.0,523.0L116.5,525.8L117.0,525.2L117.5,524.9L118.0,525.4L118.5,528.1L119.0,525.4L119.5,528.6L120.0,528.1L120.5,526.5L121.0,528.1L121.5,526.7L122.0,525.9L122.5,527.0L123.0,526.3L123.5,528.7L124.0,528.2L124.5,529.3L125.0,529.9L125.5,524.1L126.0,529.6L126.5,526.6L127.0,529.8L127.5,528.5L128.0,530.2L128.5,532.4L129.0,527.9L129.5,531.0L130.0,530.8L130.5,528.3L131.0,532.4L131.5,531.7L132.0,531.1L132.5,531.0L133.0,537.1L133.5,531.9L134.0,530.1L134.5,531.6L135.0,532.6L135.5,532.8L136.0,533.5L136.5,532.3L137.0,534.8L137.5,533.5L138.0,532.4L138.5,533.4L139.0,534.3L139.5,536.3L140.0,535.9L140.5,534.9L141.0,535.6L141.5,536.1L142.0,539.0L142.5,535.3L143.0,537.1L143.5,537.6L144.0,535.4L144.5,537.2L145.0,537.4L145.5,536.7L146.0,538.3L146.5,539.2L147.0,539.5L147.5,537.8L148.0,538.5L148.5,541.8L149.0,537.0L149.5,539.1L150.0,540.2L150.5,539.3L151.0,540.2L151.5,539.7L152.0,540.6L152.5,541.5L153.0,539.5L153.5,540.2L154.0,540.0L154.5,539.6L155.0,540.3L155.5,538.8L156.0,541.6L156.5,543.0L157.0,543.1L157.5,542.6L158.0,539.6L158.5,543.2L159.0,540.2L159.5,541.2L160.0,544.0L160.5,540.0L161.0,542.8L161.5,542.1L162.0,541.6L162.5,540.7L163.0,542.6L163.5,541.0L164.0,543.6L164.5,543.9L165.0,540.4L165.5,541.7L166.0,542.0L166.5,540.9L167.0,541.0L167.5,542.7L168.0,542.4L168.5,540.4L169.0,542.0L169.5,543.5L170.0,541.1L170.5,541.6L171.0,545.0L171.5,544.7L172.0,540.7L172.5,541.1L173.0,543.5L173.5,541.3L174.0,542.6L174.5,542.4L175.0,543.8L175.5,539.6L176.0,540.1L176.5,541.4L177.0,544.5L177.5,542.9L178.0,540.8L178.5,543.8L179.0,544.1L179.5,542.9L180.0,542.8L180.5,543.8L181.0,544.9L181.5,543.5L182.0,544.0L182.5,543.2L183.0,542.8L183.5,542.1L184.0,543.7L184.5,542.9L185.0,543.0L185.5,544.6L186.0,544.0L186.5,544.6L187.0,541.2L187.5,544.1L188.0,542.6L188.5,542.3L189.0,542.2L189.5,545.0L190.0,544.5L190.5,542.4L191.0,541.9L191.5,543.4L192.0,542.8L192.5,545.6L193.0,541.4L193.5,540.9L194.0,543.0L194.5,543.3L195.0,543.5L195.5,544.3L196.0,546.1L196.5,542.8L197.0,542.5L197.5,540.8L198.0,543.5L198.5,544.3L199.0,542.7L199.5,544.6L200.0,543.0L200.5,545.0L201.0,543.3L201.5,541.4L202.0,541.9L202.5,540.6L203.0,540.3L203.5,543.0L204.0,543.8L204.5,545.2L205.0,542.4L205.5,542.1L206.0,540.9L206.5,543.7L207.0,542.8L207.5,541.4L208.0,543.1L208.5,542.9L209.0,539.5L209.5,543.0L210.0,542.1L210.5,541.4L211.0,541.3L211.5,544.2L212.0,543.9L212.5,544.2L213.0,540.0L213.5,540.7L214.0,542.8L214.5,539.8L215.0,540.4L215.5,538.8L216.0,543.8L216.5,542.7L217.0,541.8L217.5,541.4L218.0,540.4L218.5,540.4L219.0,541.7L219.5,539.8L220.0,542.5L220.5,540.0L221.0,539.4L221.5,542.3L222.0,540.3L222.5,541.2L223.0,539.7L223.5,537.1L224.0,540.9L224.5,538.2L225.0,541.5L225.5,537.7L226.0,537.2L226.5,540.2L227.0,540.3L227.5,539.7L228.0,537.8L228.5,540.7L229.0,537.3L229.5,538.2L230.0,538.1L230.5,538.6L231.0,540.2L231.5,538.0L232.0,539.6L232.5,539.7L233.0,536.2L233.5,536.9L234.0,537.9L234.5,537.6L235.0,538.8L235.5,533.8L236.0,539.2L236.5,539.1L237.0,537.7L237.5,535.9L238.0,537.8L238.5,536.9L239.0,538.4L239.5,537.4L240.0,538.5L240.5,536.7L241.0,539.3L241.5,533.8L242.0,535.6L242.5,537.7L243.0,534.7L243.5,537.8L244.0,534.9L244.5,536.7L245.0,535.2L245.5,535.7L246.0,536.5L246.5,536.0L247.0,535.5L247.5,539.1L248.0,535.9L248.5,534.4L249.0,537.0L249.5,536.8L250.0,537.2L250.5,538.0L251.0,533.9L251.5,536.7L252.0,536.7L252.5,534.9L253.0,535.2L253.5,530.3L254.0,533.8L254.5,537.1L255.0,531.8L255.5,533.5L256.0,534.6L256.5,534.9L257.0,536.4L257.5,531.3L258.0,533.8L258.5,534.9L259.0,531.6L259.5,533.4L260.0,536.1L260.5,535.2L261.0,533.9L261.5,529.1L262.0,532.7L262.5,533.3L263.0,532.2L263.5,532.5L264.0,537.0L264.5,532.0L265.0,530.8L265.5,532.5L266.0,531.5L266.5,531.4L267.0,531.6L267.5,532.8L268.0,531.9L268.5,529.6L269.0,531.1L269.5,531.9L270.0,530.4L270.5,533.7L271.0,532.0L271.5,529.2L272.0,531.1L272.5,535.2L273.0,532.7L273.5,530.1L274.0,531.4L274.5,528.9L275.0,527.6L275.5,530.5L276.0,529.9L276.5,530.2L277.0,529.2L277.5,529.6L278.0,528.2L278.5,529.5L279.0,530.0L279.5,528.4L280.0,529.6L280.5,525.5L281.0,526.8L281.5,530.1L282.0,530.4L282.5,527.9L283.0,527.2L283.5,525.2L284.0,527.6L284.5,528.0L285.0,524.4L285.5,527.4L286.0,527.1L286.5,526.8L287.0,524.2L287.5,526.6L288.0,523.2L288.5,527.7L289.0,525.4L289.5,523.2L290.0,526.9L290.5,526.5L291.0,523.4L291.5,527.8L292.0,522.5L292.5,524.4L293.0,525.6L293.5,520.0L294.0,525.0L294.5,523.1L295.0,523.0L295.5,521.1L296.0,523.2L296.5,520.7L297.0,520.8L297.5,521.4L298.0,520.0L298.5,524.3L299.0,519.5L299.5,520.2L300.0,520.8L300.5,521.1L301.0,522.2L301.5,522.1L302.0,520.1L302.5,519.4L303.0,520.3L303.5,521.4L304.0,521.0L304.5,518.8L305.0,516.2L305.5,522.8L306.0,520.7L306.5,519.4L307.0,519.4L307.5,517.8L308.0,516.8L308.5,517.7L309.0,517.5L309.5,516.9L310.0,515.3L310.5,517.0L311.0,518.3L311.5,516.4L312.0,517.0L312.5,513.4L313.0,516.3L313.5,516.2L314.0,514.2L314.5,513.2L315.0,516.6L315.5,514.4L316.0,516.3L316.5,514.6L317.0,516.2L317.5,514.4L318.0,512.3L318.5,514.5L319.0,513.9L319.5,515.3L320.0,513.3L320.5,513.2L321.0,515.1L321.5,515.5L322.0,514.6L322.5,514.9L323.0,513.7L323.5,514.0L324.0,514.0L324.5,513.0L325.0,512.3L325.5,512.2L326.0,515.9L326.5,511.6L327.0,511.0L327.5,510.6L328.0,511.0L328.5,511.2L329.0,508.7L329.5,507.0L330.0,510.7L330.5,507.3L331.0,510.3L331.5,509.9L332.0,511.5L332.5,512.2L333.0,509.7L333.5,507.9L334.0,506.6L334.5,507.1L335.0,508.4L335.5,504.5L336.0,508.0L336.5,507.7L337.0,508.6L337.5,506.7L338.0,507.3L338.5,505.6L339.0,505.9L339.5,503.4L340.0,506.5L340.5,508.8L341.0,506.2L341.5,506.4L342.0,503.8L342.5,507.8L343.0,503.7L343.5,506.3L344.0,504.9L344.5,502.8L345.0,506.1L345.5,504.1L346.0,504.2L346.5,504.4L347.0,503.4L347.5,502.5L348.0,503.8L348.5,502.0L349.0,502.7L349.5,501.1L350.0,499.4L350.5,500.7L351.0,500.8L351.5,501.5L352.0,503.4L352.5,498.0L353.0,501.1L353.5,496.6L354.0,497.4L354.5,499.3L355.0,495.9L355.5,496.4L356.0,499.9L356.5,499.5L357.0,499.0L357.5,497.5L358.0,502.7L358.5,498.3L359.0,496.8L359.5,501.2L360.0,499.1L360.5,497.1L361.0,499.8L361.5,497.7L362.0,499.1L362.5,497.5L363.0,495.0L363.5,498.5L364.0,496.8L364.5,493.3L365.0,494.7L365.5,497.7L366.0,495.1L366.5,495.7L367.0,496.7L367.5,495.5L368.0,492.3L368.5,496.8L369.0,496.5L369.5,496.2L370.0,497.4L370.5,494.9L371.0,495.5L371.5,496.9L372.0,493.2L372.5,496.8L373.0,496.7L373.5,494.7L374.0,496.5L374.5,494.5L375.0,491.1L375.5,494.7L376.0,493.0L376.5,493.0L377.0,492.4L377.5,494.5L378.0,492.9L378.5,490.3L379.0,492.4L379.5,492.7L380.0,489.8L380.5,490.3L381.0,490.2L381.5,489.6L382.0,491.3L382.5,492.5L383.0,494.0L383.5,492.5L384.0,492.1L384.5,492.2L385.0,492.4L385.5,489.1L386.0,491.0L386.5,490.2L387.0,489.2L387.5,488.5L388.0,488.3L388.5,488.6L389.0,486.6L389.5,489.9L390.0,488.7L390.5,488.9L391.0,489.2L391.5,489.8L392.0,487.2L392.5,488.0L393.0,485.0L393.5,483.7L394.0,484.1L394.5,490.7L395.0,484.1L395.5,488.5L396.0,490.3L396.5,486.5L397.0,490.5L397.5,490.8L398.0,489.0L398.5,491.7L399.0,488.3L399.5,485.7L400.0,488.0L400.5,486.2L401.0,484.5L401.5,484.5L402.0,491.5L402.5,486.0L403.0,487.0L403.5,485.8L404.0,487.3L404.5,486.6L405.0,486.3L405.5,484.8L406.0,484.4L406.5,485.8L407.0,487.8L407.5,491.3L408.0,489.4L408.5,490.9L409.0,488.4L409.5,487.3L410.0,485.0L410.5,487.6L411.0,483.5L411.5,487.1L412.0,490.9L412.5,488.4L413.0,490.0L413.5,487.2L414.0,485.3L414.5,487.1L415.0,487.3L415.5,490.5L416.0,492.0L416.5,486.9L417.0,487.7L417.5,488.2L418.0,487.9L418.5,486.2L419.0,488.9L419.5,489.4L420.0,489.6L420.5,486.6L421.0,488.7L421.5,485.7L422.0,490.9L422.5,487.2L423.0,488.7L423.5,488.5L424.0,488.3L424.5,487.5L425.0,486.2L425.5,493.0L426.0,490.3L426.5,490.4L427.0,494.0L427.5,489.9L428.0,491.2L428.5,490.3L429.0,492.7L429.5,492.1L430.0,491.3L430.5,490.3L431.0,491.4L431.5,493.2L432.0,487.2L432.5,491.0L433.0,490.6L433.5,491.0L434.0,488.0L434.5,493.2L435.0,490.4L435.5,491.7L436.0,491.3L436.5,489.3L437.0,491.7L437.5,489.2L438.0,491.1L438.5,492.4L439.0,493.1L439.5,493.4L440.0,493.2L440.5,497.6L441.0,494.6L441.5,491.6L442.0,492.9L442.5,493.0L443.0,494.1L443.5,493.4L444.0,492.2L444.5,498.0L445.0,495.1L445.5,494.6L446.0,494.9L446.5,495.1L447.0,498.3L447.5,496.8L448.0,498.1L448.5,490.4L449.0,497.0L449.5,498.5L450.0,500.4L450.5,497.0L451.0,494.0L451.5,498.5L452.0,496.5L452.5,494.5L453.0,496.8L453.5,500.1L454.0,501.9L454.5,499.9L455.0,496.9L455.5,503.6L456.0,497.1L456.5,499.3L457.0,497.0L457.5,502.3L458.0,500.9L458.5,501.9L459.0,500.7L459.5,500.6L460.0,501.2L460.5,497.7L461.0,503.1L461.5,503.2L462.0,501.1L462.5,501.9L463.0,503.1L463.5,505.2L464.0,503.4L464.5,502.9L465.0,502.1L465.5,500.5L466.0,502.4L466.5,503.8L467.0,503.4L467.5,504.2L468.0,505.7L468.5,505.3L469.0,505.3L469.5,506.2L470.0,505.6L470.5,505.4L471.0,506.6L471.5,502.9L472.0,508.4L472.5,504.2L473.0,508.2L473.5,507.0L474.0,509.2L474.5,507.6L475.0,506.1L475.5,509.9L476.0,508.6L476.5,508.8L477.0,509.0L477.5,510.8L478.0,510.8L478.5,510.0L479.0,507.2L479.5,509.5L480.0,510.6L480.5,515.7L481.0,511.6L481.5,511.1L482.0,513.6L482.5,511.6L483.0,512.0L483.5,512.6L484.0,510.0L484.5,514.4L485.0,514.3L485.5,512.8L486.0,511.6L486.5,514.2L487.0,516.4L487.5,513.2L488.0,512.8L488.5,515.5L489.0,512.3L489.5,511.5L490.0,514.7L490.5,514.5L491.0,515.4L491.5,515.2L492.0,516.9L492.5,516.2L493.0,515.7L493.5,516.2L494.0,518.9L494.5,518.9L495.0,519.0L495.5,518.9L496.0,512.5L496.5,516.5L497.0,517.8L497.5,518.9L498.0,514.6L498.5,521.3L499.0,519.6L499.5,518.3L500.0,519.8L500.5,519.2L501.0,518.7L501.5,521.0L502.0,519.6L502.5,518.3L503.0,519.7L503.5,520.8L504.0,519.4L504.5,523.4L505.0,519.8L505.5,524.6L506.0,523.4L506.5,520.6L507.0,522.6L507.5,524.4L508.0,522.5L508.5,521.1L509.0,523.3L509.5,526.5L510.0,521.2L510.5,524.7L511.0,524.0L511.5,524.0L512.0,523.8L512.5,524.1L513.0,526.4L513.5,525.9L514.0,523.6L514.5,527.9L515.0,523.6L515.5,526.8L516.0,526.3L516.5,528.1L517.0,527.4L517.5,528.3L518.0,526.8L518.5,528.5L519.0,527.7L519.5,530.7L520.0,526.5L520.5,529.6L521.0,528.7L521.5,528.4L522.0,527.5L522.5,529.7L523.0,526.5L523.5,526.8L524.0,530.2L524.5,526.9L525.0,531.6L525.5,529.2L526.0,530.2L526.5,530.1L527.0,530.8L527.5,529.9L528.0,529.9L528.5,530.5L529.0,532.4L529.5,532.7L530.0,533.1L530.5,531.9L531.0,531.2L531.5,529.1L532.0,532.8L532.5,533.2L533.0,531.5L533.5,533.5L534.0,534.4L534.5,532.7L535.0,534.3L535.5,533.4L536.0,530.5L536.5,532.5L537.0,532.8L537.5,534.3L538.0,532.4L538.5,532.9L539.0,532.6L539.5,534.1L540.0,534.4L540.5,535.9L541.0,535.7L541.5,535.0L542.0,535.2L542.5,535.2L543.0,535.3L543.5,537.6L544.0,531.8L544.5,535.4L545.0,536.2L545.5,537.5L546.0,534.5L546.5,536.7L547.0,537.6L547.5,535.8L548.0,533.9L548.5,536.3L549.0,535.2L549.5,538.0L550.0,536.0L550.5,539.9L551.0,537.7L551.5,536.5L552.0,537.1L552.5,536.4L553.0,538.7L553.5,540.4L554.0,538.1L554.5,539.8L555.0,537.3L555.5,539.2L556.0,542.2L556.5,537.1L557.0,541.0L557.5,541.0L558.0,536.9L558.5,537.6L559.0,538.4L559.5,541.3L560.0,539.5L560.5,540.0L561.0,541.3L561.5,540.6L562.0,540.9L562.5,540.3L563.0,542.5L563.5,540.0L564.0,543.5L564.5,540.8L565.0,540.3L565.5,542.5L566.0,542.4L566.5,539.1L567.0,542.3L567.5,540.3L568.0,541.1L568.5,543.5L569.0,541.4L569.5,543.2L570.0,542.3L570.5,547.3L571.0,543.0L571.5,541.7L572.0,541.9L572.5,542.3L573.0,543.9L573.5,543.8L574.0,545.3L574.5,544.4L575.0,544.4L575.5,544.9L576.0,544.4L576.5,545.1L577.0,545.9L577.5,546.1L578.0,544.4L578.5,543.0L579.0,544.4L579.5,546.0L580.0,542.5L580.5,545.3L581.0,546.7L581.5,545.5L582.0,544.9L582.5,548.9L583.0,548.5L583.5,546.5L584.0,548.7L584.5,548.9L585.0,545.8L585.5,551.0L586.0,546.4L586.5,547.4L587.0,546.5L587.5,548.2L588.0,546.5L588.5,548.4L589.0,549.9L589.5,549.0L590.0,548.5L590.5,551.0L591.0,548.0L591.5,550.5L592.0,549.0L592.5,549.8L593.0,549.7L593.5,550.0L594.0,549.9L594.5,549.1L595.0,549.5L595.5,551.0L596.0,550.4L596.5,549.2L597.0,549.9L597.5,550.1L598.0,551.0L598.5,551.4L599.0,551.4L599.5,550.6L600.0,551.6L600.5,550.0L601.0,548.2L601.5,551.9L602.0,550.0L602.5,551.0L603.0,550.9L603.5,553.3L604.0,551.1L604.5,553.1L605.0,552.2L605.5,551.4L606.0,550.0L606.5,553.8L607.0,553.8L607.5,554.4L608.0,555.8L608.5,554.0L609.0,554.4L609.5,553.8L610.0,554.2L610.5,553.7L611.0,553.2L611.5,556.8L612.0,552.3L612.5,554.9L613.0,555.3L613.5,555.1L614.0,553.8L614.5,554.9L615.0,554.6L615.5,554.0L616.0,555.3L616.5,555.0L617.0,555.0L617.5,556.6L618.0,554.6L618.5,556.5L619.0,555.3L619.5,556.7L620.0,556.4L620.5,556.7L621.0,555.3L621.5,555.7L622.0,555.7L622.5,557.0L623.0,558.3L623.5,558.3L624.0,556.5L624.5,557.3L625.0,555.4L625.5,554.8L626.0,556.5L626.5,556.8L627.0,555.9L627.5,555.7L628.0,558.5L628.5,557.0L629.0,556.1L629.5,560.9L630.0,558.5L630.5,558.0L631.0,559.2L631.5,557.7L632.0,560.5L632.5,556.9L633.0,557.3L633.5,558.7L634.0,558.1L634.5,560.7L635.0,557.3L635.5,558.4L636.0,559.6L636.5,560.1L637.0,560.7L637.5,560.0L638.0,562.2L638.5,559.2L639.0,560.1L639.5,560.9L640.0,559.7L640.5,559.8L641.0,559.7L641.5,559.5L642.0,559.1L642.5,559.8L643.0,558.8L643.5,561.0L644.0,558.9L644.5,563.1L645.0,562.7L645.5,562.1L646.0,560.7L646.5,560.0L647.0,562.5L647.5,561.4L648.0,561.9L648.5,560.5L649.0,562.6L649.5,560.6L650.0,561.7L650.5,559.7L651.0,560.9L651.5,562.3L652.0,561.3L652.5,561.4L653.0,562.8L653.5,561.9L654.0,563.5L654.5,559.5L655.0,562.8L655.5,562.8L656.0,560.6L656.5,561.0L657.0,563.4L657.5,561.4L658.0,561.9L658.5,563.3L659.0,562.4L659.5,563.3L660.0,561.9L660.5,563.2L661.0,564.2L661.5,563.4L662.0,560.7L662.5,563.9L663.0,563.3L663.5,562.3L664.0,564.9L664.5,561.5L665.0,565.5L665.5,562.8L666.0,565.3L666.5,563.6L667.0,562.3L667.5,563.9L668.0,564.3L668.5,564.5L669.0,565.1L669.5,563.0L670.0,564.6L670.5,564.9L671.0,563.9L671.5,563.2L672.0,563.2L672.5,565.1L673.0,565.2L673.5,563.6L674.0,563.1L674.5,565.9L675.0,562.9L675.5,564.8L676.0,563.9L676.5,562.9L677.0,565.0L677.5,564.5L678.0,566.5L678.5,567.4L679.0,564.8L679.5,566.2L680.0,566.2L680.5,564.6L681.0,564.3L681.5,567.0L682.0,565.0L682.5,565.4L683.0,565.1L683.5,565.4L684.0,564.9L684.5,566.4L685.0,567.0L685.5,565.3L686.0,564.3L686.5,565.8L687.0,564.3L687.5,565.2L688.0,567.2L688.5,568.4L689.0,566.4L689.5,564.9L690.0,566.9L690.5,563.8L691.0,565.4L691.5,567.8L692.0,567.0L692.5,564.8L693.0,564.6L693.5,567.2L694.0,566.3L694.5,565.8L695.0,566.9L695.5,565.9L696.0,564.5L696.5,567.4L697.0,565.9L697.5,565.6L698.0,565.3L698.5,567.0L699.0,565.9L699.5,567.4L700.0,566.5L700.5,568.6L701.0,566.5L701.5,566.2L702.0,564.9L702.5,565.9L703.0,567.8L703.5,570.2L704.0,565.8L704.5,566.0L705.0,567.5L705.5,567.7L706.0,566.5L706.5,567.3L707.0,565.6L707.5,567.0L708.0,568.2L708.5,569.0L709.0,567.2L709.5,567.1L710.0,567.9L710.5,568.6L711.0,568.0L711.5,566.7L712.0,567.9L712.5,568.5L713.0,566.8L713.5,566.2L714.0,568.1L714.5,568.0L715.0,568.6L715.5,567.8L716.0,567.0L716.5,567.3L717.0,566.7L717.5,566.8L718.0,567.2L718.5,567.3L719.0,568.9L719.5,566.6L720.0,567.8L720.5,567.3L721.0,569.4L721.5,568.2L722.0,567.5L722.5,568.8L723.0,568.0L723.5,567.5L724.0,569.5L724.5,569.1L725.0,569.8L725.5,569.2L726.0,568.8L726.5,568.2L727.0,567.0L727.5,568.8L728.0,568.2L728.5,568.8L729.0,568.2L729.5,567.5L730.0,567.2L730.5,568.9L731.0,569.5L731.5,568.0L732.0,568.7L732.5,569.7L733.0,567.5L733.5,568.0L734.0,567.2L734.5,569.5L735.0,568.6L735.5,567.9L736.0,566.7L736.5,568.2L737.0,569.4L737.5,567.9L738.0,568.0L738.5,569.1L739.0,567.2L739.5,568.5L740.0,569.1L740.5,567.7L741.0,567.7L741.5,568.8L742.0,568.5L742.5,568.3L743.0,568.8L743.5,568.8L744.0,567.7L744.5,567.9L745.0,569.1L745.5,569.8L746.0,570.0L746.5,567.3L747.0,569.8L747.5,569.4L748.0,568.7L748.5,569.2L749.0,569.5L749.5,570.5L750.0,567.7L750.5,569.3L751.0,568.6L751.5,568.6L752.0,569.9L752.5,569.6L753.0,567.8L753.5,568.5L754.0,569.0L754.5,567.4L755.0,569.7L755.5,568.7L756.0,569.0L756.5,569.2L757.0,571.7L757.5,568.9L758.0,568.5L758.5,570.6L759.0,568.4L759.5,568.3L760.0,567.5L760.5,569.9L761.0,569.1L761.5,569.3L762.0,569.0L762.5,568.7L763.0,568.1L763.5,568.1L764.0,569.5L764.5,569.0L765.0,570.5L765.5,568.1L766.0,568.4L766.5,567.9L767.0,570.3L767.5,567.7L768.0,569.7L768.5,570.3L769.0,568.8L769.5,570.0L770.0,566.8L770.5,568.5L771.0,567.3L771.5,569.1L772.0,568.9L772.5,568.1L773.0,569.8L773.5,569.3L774.0,568.4L774.5,568.4L775.0,567.5L775.5,568.7L776.0,571.0L776.5,568.2L777.0,569.3L777.5,568.0L778.0,569.7L778.5,569.4L779.0,568.7L779.5,567.2L780.0,568.4L780.5,570.1L781.0,568.7L781.5,569.6L782.0,568.5L782.5,567.1L783.0,569.4L783.5,569.3L784.0,568.4L784.5,568.3L785.0,569.2L785.5,568.4L786.0,569.3L786.5,568.7L787.0,566.6L787.5,568.8L788.0,568.4L788.5,568.1L789.0,569.4L789.5,568.5L790.0,569.5L790.5,570.0L791.0,569.1L791.5,567.4L792.0,568.2L792.5,569.9L793.0,568.7L793.5,568.2L794.0,568.9L794.5,569.5L795.0,569.2L795.5,569.6L796.0,568.2L796.5,568.7L797.0,568.7L797.5,569.0L798.0,566.9L798.5,568.7L799.0,567.6L799.5,570.3L800.0,570.5L800.5,570.6L801.0,569.8L801.5,568.5L802.0,569.9L802.5,568.8L803.0,569.9L803.5,568.1L804.0,568.4L804.5,569.4L805.0,570.7L805.5,569.0L806.0,571.2L806.5,571.7L807.0,567.7L807.5,569.0L808.0,568.0L808.5,568.8L809.0,568.5L809.5,568.9L810.0,569.9L810.5,569.9L811.0,569.2L811.5,569.0L812.0,569.1L812.5,569.1L813.0,569.5L813.5,569.0L814.0,569.5L814.5,567.7L815.0,570.2L815.5,570.7L816.0,569.1L816.5,567.6L817.0,570.3L817.5,568.6L818.0,566.0L818.5,568.7L819.0,569.5L819.5,569.3L820.0,570.2L820.5,569.5L821.0,569.0L821.5,567.0L822.0,567.8L822.5,569.1L823.0,569.6L823.5,567.9L824.0,568.3L824.5,569.4L825.0,567.0L825.5,566.9L826.0,568.6L826.5,569.1L827.0,568.4L827.5,566.6L828.0,568.9L828.5,567.5L829.0,569.5L829.5,568.7L830.0,569.1L830.5,569.4L831.0,568.3L831.5,569.6L832.0,570.0L832.5,569.2L833.0,570.1L833.5,568.1L834.0,569.7L834.5,569.0L835.0,567.8L835.5,568.7L836.0,568.2L836.5,568.2L837.0,568.8L837.5,569.8L838.0,568.4L838.5,568.8L839.0,567.2L839.5,568.8L840.0,569.8L840.5,569.5L841.0,569.1L841.5,568.1L842.0,567.7L842.5,568.5L843.0,567.3L843.5,567.4L844.0,569.5L844.5,567.7L845.0,570.4L845.5,566.3L846.0,569.0L846.5,567.4L847.0,568.7L847.5,567.5L848.0,568.6L848.5,568.4L849.0,568.1L849.5,569.0L850.0,570.0L850.5,567.9L851.0,569.4L851.5,568.6L852.0,568.4L852.5,570.6L853.0,566.3L853.5,567.7L854.0,566.6L854.5,568.1L855.0,568.2L855.5,572.2L856.0,568.7L856.5,570.2L857.0,569.7L857.5,567.9L858.0,568.8L858.5,570.0L859.0,568.6L859.5,568.5L860.0,568.8L860.5,565.9L861.0,567.5L861.5,568.6L862.0,568.8L862.5,567.3L863.0,567.9L863.5,568.1L864.0,568.1L864.5,568.9L865.0,568.3L865.5,568.4L866.0,566.8L866.5,567.1L867.0,568.5L867.5,566.5L868.0,568.4L868.5,567.4L869.0,567.3L869.5,568.7L870.0,567.4L870.5,567.2L871.0,567.4L871.5,568.1L872.0,570.8L872.5,565.9L873.0,568.0L873.5,567.7L874.0,568.9L874.5,567.6L875.0,565.4L875.5,569.3L876.0,566.8L876.5,567.8L877.0,566.5L877.5,566.8L878.0,567.4L878.5,568.7L879.0,568.7L879.5,567.2L880.0,568.3L880.5,567.4L881.0,567.9L881.5,567.9L882.0,568.4L882.5,567.1L883.0,567.6L883.5,567.9L884.0,567.8L884.5,566.9L885.0,569.4L885.5,567.2L886.0,568.4L886.5,567.8L887.0,568.8L887.5,565.4L888.0,569.7L888.5,567.3L889.0,566.3L889.5,567.7L890.0,569.8L890.5,568.0L891.0,566.2L891.5,567.0L892.0,568.8L892.5,566.0L893.0,567.2L893.5,567.1L894.0,569.6L894.5,567.1L895.0,568.7L895.5,566.7L896.0,566.5L896.5,568.4L897.0,567.9L897.5,565.5L898.0,567.9L898.5,567.9L899.0,566.6L899.5,567.6L900.0,567.5L900.5,566.7L901.0,566.6L901.5,566.5L902.0,566.9L902.5,565.8L903.0,567.1L903.5,565.6L904.0,567.2L904.5,567.0L905.0,566.0L905.5,568.5L906.0,569.1L906.5,568.4L907.0,565.6L907.5,568.3L908.0,567.2L908.5,566.9L909.0,566.4L909.5,567.0L910.0,568.4L910.5,567.5L911.0,566.5L911.5,566.2L912.0,566.5L912.5,567.5L913.0,568.8L913.5,565.1L914.0,566.9L914.5,566.5L915.0,566.1L915.5,567.2L916.0,567.4L916.5,565.4L917.0,565.1L917.5,568.0L918.0,567.1L918.5,567.3L919.0,566.2L919.5,566.3L920.0,567.2L920.5,566.2L921.0,565.6L921.5,566.7L922.0,567.6L922.5,565.6L923.0,567.7L923.5,567.4L924.0,565.7L924.5,566.6L925.0,566.5L925.5,567.2L926.0,567.3L926.5,565.2L927.0,565.2L927.5,567.6L928.0,566.6L928.5,566.9L929.0,566.8L929.5,568.1L930.0,565.2" fill="none" stroke="#008000" stroke-width="3.2" stroke-linejoin="round" shape-rendering="crispEdges"/>
<path d="M70.0,461.0L70.5,460.7L71.0,466.5L71.5,465.1L72.0,460.5L72.5,460.4L73.0,462.4L73.5,464.6L74.0,465.5L74.5,464.1L75.0,460.2L75.5,465.8L76.0,466.8L76.5,465.9L77.0,465.3L77.5,467.6L78.0,466.7L78.5,465.0L79.0,467.6L79.5,465.3L80.0,469.8L80.5,469.7L81.0,466.8L81.5,469.3L82.0,472.9L82.5,465.6L83.0,469.6L83.5,473.2L84.0,467.7L84.5,470.6L85.0,468.6L85.5,471.3L86.0,467.5L86.5,469.3L87.0,471.0L87.5,473.3L88.0,474.1L88.5,474.5L89.0,476.2L89.5,475.7L90.0,476.2L90.5,473.5L91.0,475.3L91.5,481.7L92.0,480.4L92.5,478.1L93.0,478.3L93.5,479.1L94.0,476.9L94.5,481.5L95.0,477.6L95.5,478.4L96.0,482.7L96.5,475.5L97.0,480.1L97.5,476.7L98.0,478.9L98.5,480.1L99.0,479.9L99.5,481.1L100.0,479.7L100.5,481.2L101.0,479.5L101.5,481.2L102.0,479.7L102.5,483.5L103.0,480.4L103.5,484.1L104.0,482.4L104.5,482.8L105.0,485.7L105.5,484.0L106.0,480.8L106.5,485.2L107.0,479.6L107.5,485.3L108.0,484.4L108.5,482.9L109.0,485.7L109.5,485.3L110.0,489.5L110.5,485.5L111.0,489.8L111.5,489.1L112.0,485.9L112.5,485.8L113.0,489.7L113.5,487.4L114.0,488.1L114.5,487.6L115.0,486.2L115.5,487.9L116.0,487.1L116.5,486.4L117.0,488.4L117.5,492.5L118.0,492.4L118.5,489.8L119.0,490.4L119.5,491.2L120.0,492.9L120.5,491.4L121.0,490.3L121.5,490.7L122.0,493.5L122.5,496.2L123.0,491.0L123.5,488.9L124.0,493.9L124.5,492.6L125.0,493.2L125.5,495.3L126.0,493.6L126.5,491.5L127.0,490.7L127.5,494.1L128.0,492.5L128.5,495.2L129.0,492.8L129.5,494.6L130.0,493.0L130.5,495.1L131.0,495.2L131.5,497.1L132.0,498.6L132.5,496.3L133.0,495.4L133.5,500.3L134.0,497.9L134.5,498.6L135.0,498.8L135.5,500.4L136.0,499.9L136.5,500.3L137.0,500.0L137.5,497.6L138.0,498.3L138.5,499.3L139.0,499.9L139.5,500.0L140.0,500.6L140.5,500.4L141.0,499.9L141.5,498.2L142.0,502.3L142.5,502.1L143.0,499.9L143.5,502.3L144.0,502.3L144.5,502.0L145.0,499.2L145.5,500.4L146.0,501.5L146.5,505.2L147.0,501.4L147.5,502.4L148.0,501.4L148.5,502.5L149.0,504.0L149.5,500.4L150.0,499.3L150.5,505.0L151.0,504.1L151.5,503.3L152.0,505.8L152.5,506.0L153.0,501.3L153.5,504.5L154.0,506.5L154.5,503.9L155.0,504.6L155.5,506.6L156.0,504.8L156.5,503.5L157.0,504.4L157.5,503.5L158.0,506.5L158.5,503.0L159.0,507.3L159.5,503.3L160.0,506.0L160.5,503.7L161.0,505.6L161.5,507.7L162.0,508.0L162.5,508.3L163.0,506.2L163.5,506.6L164.0,506.9L164.5,507.5L165.0,506.0L165.5,508.4L166.0,507.3L166.5,508.6L167.0,507.7L167.5,508.1L168.0,506.0L168.5,506.6L169.0,505.3L169.5,506.9L170.0,507.2L170.5,509.6L171.0,505.7L171.5,512.7L172.0,507.7L172.5,509.9L173.0,509.7L173.5,504.4L174.0,507.9L174.5,510.7L175.0,502.8L175.5,510.0L176.0,507.6L176.5,508.4L177.0,509.6L177.5,506.6L178.0,509.9L178.5,508.8L179.0,508.8L179.5,511.1L180.0,515.4L180.5,511.1L181.0,511.2L181.5,510.4L182.0,509.5L182.5,511.0L183.0,513.0L183.5,511.1L184.0,512.2L184.5,510.6L185.0,514.8L185.5,508.7L186.0,512.0L186.5,512.0L187.0,511.7L187.5,509.7L188.0,509.7L188.5,511.1L189.0,511.7L189.5,509.8L190.0,510.1L190.5,512.6L191.0,513.3L191.5,511.0L192.0,510.9L192.5,510.9L193.0,515.6L193.5,512.7L194.0,512.0L194.5,513.6L195.0,515.5L195.5,513.9L196.0,510.1L196.5,512.1L197.0,511.7L197.5,511.8L198.0,510.5L198.5,511.7L199.0,510.7L199.5,512.8L200.0,512.4L200.5,510.3L201.0,509.8L201.5,511.6L202.0,513.8L202.5,513.1L203.0,512.2L203.5,507.4L204.0,511.6L204.5,511.2L205.0,511.7L205.5,510.4L206.0,511.6L206.5,511.2L207.0,518.5L207.5,513.1L208.0,511.8L208.5,512.0L209.0,511.8L209.5,512.2L210.0,511.3L210.5,511.9L211.0,513.4L211.5,513.0L212.0,512.2L212.5,513.7L213.0,512.0L213.5,510.2L214.0,509.0L214.5,510.5L215.0,511.4L215.5,512.0L216.0,513.0L216.5,510.5L217.0,510.1L217.5,512.4L218.0,512.9L218.5,510.4L219.0,511.6L219.5,513.0L220.0,511.4L220.5,510.8L221.0,507.7L221.5,512.8L222.0,511.7L222.5,510.9L223.0,509.9L223.5,508.7L224.0,510.4L224.5,510.3L225.0,512.1L225.5,508.6L226.0,512.5L226.5,510.3L227.0,512.0L227.5,508.7L228.0,510.6L228.5,511.9L229.0,510.2L229.5,507.7L230.0,509.4L230.5,510.6L231.0,507.7L231.5,507.5L232.0,510.0L232.5,508.2L233.0,510.5L233.5,507.7L234.0,506.6L234.5,508.2L235.0,511.5L235.5,507.9L236.0,509.1L236.5,509.4L237.0,507.6L237.5,510.6L238.0,509.1L238.5,509.5L239.0,506.2L239.5,506.0L240.0,504.4L240.5,508.2L241.0,508.1L241.5,509.5L242.0,510.6L242.5,507.9L243.0,507.8L243.5,508.8L244.0,510.3L244.5,506.7L245.0,508.8L245.5,507.4L246.0,507.2L246.5,508.9L247.0,506.4L247.5,505.9L248.0,508.5L248.5,507.4L249.0,506.9L249.5,507.0L250.0,507.9L250.5,506.5L251.0,508.2L251.5,507.6L252.0,509.2L252.5,508.8L253.0,508.1L253.5,506.4L254.0,506.8L254.5,505.6L255.0,510.9L255.5,506.1L256.0,507.2L256.5,508.4L257.0,504.1L257.5,504.9L258.0,505.5L258.5,504.5L259.0,504.0L259.5,505.0L260.0,507.8L260.5,506.8L261.0,505.7L261.5,505.6L262.0,502.9L262.5,506.5L263.0,506.0L263.5,503.5L264.0,505.5L264.5,504.7L265.0,504.2L265.5,503.3L266.0,503.7L266.5,503.2L267.0,505.3L267.5,505.1L268.0,504.9L268.5,504.0L269.0,503.6L269.5,507.3L270.0,501.1L270.5,505.8L271.0,504.4L271.5,503.8L272.0,502.8L272.5,503.2L273.0,501.5L273.5,501.1L274.0,503.0L274.5,500.4L275.0,504.2L275.5,504.5L276.0,497.2L276.5,500.0L277.0,502.7L277.5,502.5L278.0,502.2L278.5,502.5L279.0,502.9L279.5,502.9L280.0,504.2L280.5,501.3L281.0,502.5L281.5,498.3L282.0,500.5L282.5,498.6L283.0,502.7L283.5,504.0L284.0,501.0L284.5,497.8L285.0,499.6L285.5,499.6L286.0,499.7L286.5,501.0L287.0,500.6L287.5,494.7L288.0,501.0L288.5,497.8L289.0,497.5L289.5,500.6L290.0,497.7L290.5,495.7L291.0,495.6L291.5,497.7L292.0,499.0L292.5,499.8L293.0,496.9L293.5,496.3L294.0,499.5L294.5,496.0L295.0,499.0L295.5,496.8L296.0,496.7L296.5,495.8L297.0,496.5L297.5,495.1L298.0,494.6L298.5,495.4L299.0,494.4L299.5,495.8L300.0,495.3L300.5,494.6L301.0,494.5L301.5,494.4L302.0,497.5L302.5,494.4L303.0,493.3L303.5,493.7L304.0,495.1L304.5,493.5L305.0,493.5L305.5,493.2L306.0,493.7L306.5,494.0L307.0,493.9L307.5,490.3L308.0,491.1L308.5,488.3L309.0,493.9L309.5,494.3L310.0,494.5L310.5,492.4L311.0,494.0L311.5,491.8L312.0,491.5L312.5,489.0L313.0,490.1L313.5,490.3L314.0,492.7L314.5,493.8L315.0,490.0L315.5,491.3L316.0,491.0L316.5,489.1L317.0,487.3L317.5,488.8L318.0,487.5L318.5,489.2L319.0,489.4L319.5,488.9L320.0,489.0L320.5,490.0L321.0,487.4L321.5,490.3L322.0,485.8L322.5,488.6L323.0,489.0L323.5,486.8L324.0,485.2L324.5,488.9L325.0,485.8L325.5,488.8L326.0,488.6L326.5,487.1L327.0,487.0L327.5,488.5L328.0,487.3L328.5,484.9L329.0,486.6L329.5,487.1L330.0,486.3L330.5,486.1L331.0,485.4L331.5,485.3L332.0,483.7L332.5,482.6L333.0,486.9L333.5,483.7L334.0,485.0L334.5,481.8L335.0,484.6L335.5,482.7L336.0,489.2L336.5,480.9L337.0,481.9L337.5,485.1L338.0,485.3L338.5,479.4L339.0,483.4L339.5,484.4L340.0,480.5L340.5,483.7L341.0,481.4L341.5,480.4L342.0,481.4L342.5,481.0L343.0,479.2L343.5,485.5L344.0,480.5L344.5,479.8L345.0,482.5L345.5,480.7L346.0,483.0L346.5,480.0L347.0,480.9L347.5,480.3L348.0,480.3L348.5,479.4L349.0,479.5L349.5,482.5L350.0,478.1L350.5,478.2L351.0,478.4L351.5,479.8L352.0,479.4L352.5,480.2L353.0,475.9L353.5,478.6L354.0,477.7L354.5,477.3L355.0,478.0L355.5,473.9L356.0,477.8L356.5,477.4L357.0,474.4L357.5,476.7L358.0,479.5L358.5,475.8L359.0,477.5L359.5,475.8L360.0,474.6L360.5,474.3L361.0,475.1L361.5,478.0L362.0,477.0L362.5,474.1L363.0,477.1L363.5,474.9L364.0,473.7L364.5,475.6L365.0,473.0L365.5,471.7L366.0,476.8L366.5,470.9L367.0,475.1L367.5,471.2L368.0,473.8L368.5,473.3L369.0,472.2L369.5,469.4L370.0,473.0L370.5,473.0L371.0,471.3L371.5,472.7L372.0,474.5L372.5,470.4L373.0,472.8L373.5,470.1L374.0,472.8L374.5,473.1L375.0,476.4L375.5,473.3L376.0,472.3L376.5,474.0L377.0,469.4L377.5,474.3L378.0,470.0L378.5,469.8L379.0,472.8L379.5,471.1L380.0,473.0L380.5,467.8L381.0,470.9L381.5,469.3L382.0,469.7L382.5,466.6L383.0,471.8L383.5,470.3L384.0,468.0L384.5,467.3L385.0,468.1L385.5,472.3L386.0,469.5L386.5,469.0L387.0,470.5L387.5,469.6L388.0,470.0L388.5,470.9L389.0,470.1L389.5,471.1L390.0,467.2L390.5,469.5L391.0,468.7L391.5,469.5L392.0,469.2L392.5,468.1L393.0,468.6L393.5,471.0L394.0,468.2L394.5,466.9L395.0,470.3L395.5,471.0L396.0,468.6L396.5,469.3L397.0,467.5L397.5,468.7L398.0,471.1L398.5,470.5L399.0,469.3L399.5,468.5L400.0,465.9L400.5,469.5L401.0,469.8L401.5,470.9L402.0,472.7L402.5,469.6L403.0,470.7L403.5,466.8L404.0,471.1L404.5,470.5L405.0,471.4L405.5,470.1L406.0,469.7L406.5,471.6L407.0,467.6L407.5,470.0L408.0,470.8L408.5,467.4L409.0,466.7L409.5,469.6L410.0,469.0L410.5,469.9L411.0,470.0L411.5,467.4L412.0,469.5L412.5,471.0L413.0,468.2L413.5,468.4L414.0,466.9L414.5,470.6L415.0,472.7L415.5,466.6L416.0,470.7L416.5,471.0L417.0,468.4L417.5,468.8L418.0,467.7L418.5,468.3L419.0,470.1L419.5,471.1L420.0,470.2L420.5,471.7L421.0,470.6L421.5,468.2L422.0,473.2L422.5,472.8L423.0,469.5L423.5,476.1L424.0,471.9L424.5,471.4L425.0,474.8L425.5,466.9L426.0,468.7L426.5,473.1L427.0,471.5L427.5,470.3L428.0,475.0L428.5,473.3L429.0,470.2L429.5,471.5L430.0,474.3L430.5,476.2L431.0,469.5L431.5,473.7L432.0,472.7L432.5,470.4L433.0,473.2L433.5,470.9L434.0,473.0L434.5,477.0L435.0,475.2L435.5,475.8L436.0,475.6L436.5,475.3L437.0,476.6L437.5,472.9L438.0,474.5L438.5,476.8L439.0,474.1L439.5,474.8L440.0,477.9L440.5,478.7L441.0,475.0L441.5,474.8L442.0,477.5L442.5,477.1L443.0,475.6L443.5,478.0L444.0,478.8L444.5,477.5L445.0,482.7L445.5,480.1L446.0,479.3L446.5,479.9L447.0,483.5L447.5,480.4L448.0,477.3L448.5,479.4L449.0,479.1L449.5,478.2L450.0,479.8L450.5,480.0L451.0,479.6L451.5,478.6L452.0,481.6L452.5,477.5L453.0,481.9L453.5,480.7L454.0,481.4L454.5,476.9L455.0,484.2L455.5,478.4L456.0,480.1L456.5,483.0L457.0,481.0L457.5,481.5L458.0,478.5L458.5,481.8L459.0,483.1L459.5,484.1L460.0,482.7L460.5,483.7L461.0,484.3L461.5,482.6L462.0,481.9L462.5,487.5L463.0,482.8L463.5,486.6L464.0,484.8L464.5,487.4L465.0,484.0L465.5,486.1L466.0,486.0L466.5,485.3L467.0,486.4L467.5,484.7L468.0,486.1L468.5,485.8L469.0,487.9L469.5,486.7L470.0,484.7L470.5,486.6L471.0,487.3L471.5,486.1L472.0,490.1L472.5,488.8L473.0,489.7L473.5,487.2L474.0,488.0L474.5,490.6L475.0,486.7L475.5,490.0L476.0,489.7L476.5,489.0L477.0,490.2L477.5,488.5L478.0,490.9L478.5,488.7L479.0,488.8L479.5,493.5L480.0,490.3L480.5,488.2L481.0,493.5L481.5,490.9L482.0,486.6L482.5,492.6L483.0,494.5L483.5,493.9L484.0,496.4L484.5,493.7L485.0,495.1L485.5,492.8L486.0,495.0L486.5,497.6L487.0,496.2L487.5,495.9L488.0,492.8L488.5,495.7L489.0,494.5L489.5,498.1L490.0,496.0L490.5,498.0L491.0,496.1L491.5,501.0L492.0,496.4L492.5,498.7L493.0,502.9L493.5,499.3L494.0,497.8L494.5,500.4L495.0,501.3L495.5,501.3L496.0,497.1L496.5,500.7L497.0,497.3L497.5,503.8L498.0,501.2L498.5,500.6L499.0,502.6L499.5,502.5L500.0,500.1L500.5,504.7L501.0,502.0L501.5,499.9L502.0,505.0L502.5,505.4L503.0,505.2L503.5,504.3L504.0,502.2L504.5,505.3L505.0,506.9L505.5,505.5L506.0,506.9L506.5,503.4L507.0,506.4L507.5,506.4L508.0,502.9L508.5,502.9L509.0,504.5L509.5,505.9L510.0,506.6L510.5,505.8L511.0,506.2L511.5,506.3L512.0,506.8L512.5,507.7L513.0,507.8L513.5,507.1L514.0,507.8L514.5,506.9L515.0,508.9L515.5,507.1L516.0,510.6L516.5,508.2L517.0,508.8L517.5,507.5L518.0,508.2L518.5,509.2L519.0,509.1L519.5,508.3L520.0,507.7L520.5,509.7L521.0,510.0L521.5,510.7L522.0,511.9L522.5,509.8L523.0,507.4L523.5,510.3L524.0,508.0L524.5,509.0L525.0,512.5L525.5,512.0L526.0,510.4L526.5,510.5L527.0,511.5L527.5,509.2L528.0,512.6L528.5,511.5L529.0,514.9L529.5,510.8L530.0,513.9L530.5,511.6L531.0,514.2L531.5,511.4L532.0,514.1L532.5,512.5L533.0,512.1L533.5,513.2L534.0,514.2L534.5,514.2L535.0,516.1L535.5,515.1L536.0,510.2L536.5,513.6L537.0,511.4L537.5,513.9L538.0,515.4L538.5,512.7L539.0,513.1L539.5,515.1L540.0,514.6L540.5,517.4L541.0,515.7L541.5,516.2L542.0,518.0L542.5,514.9L543.0,515.8L543.5,514.5L544.0,516.4L544.5,517.6L545.0,518.2L545.5,516.3L546.0,515.5L546.5,515.5L547.0,513.6L547.5,517.0L548.0,518.9L548.5,513.8L549.0,514.2L549.5,519.4L550.0,515.2L550.5,518.1L551.0,516.0L551.5,519.0L552.0,519.1L552.5,518.4L553.0,519.4L553.5,518.5L554.0,519.3L554.5,521.2L555.0,520.3L555.5,518.0L556.0,517.9L556.5,518.9L557.0,519.0L557.5,519.6L558.0,518.7L558.5,520.6L559.0,519.9L559.5,520.5L560.0,520.1L560.5,521.1L561.0,518.7L561.5,522.7L562.0,521.1L562.5,521.4L563.0,521.7L563.5,522.5L564.0,522.2L564.5,521.9L565.0,521.2L565.5,519.3L566.0,522.0L566.5,521.4L567.0,521.5L567.5,525.3L568.0,519.7L568.5,522.4L569.0,524.1L569.5,523.9L570.0,525.5L570.5,521.2L571.0,521.7L571.5,524.5L572.0,522.9L572.5,525.7L573.0,523.8L573.5,523.9L574.0,524.4L574.5,523.6L575.0,524.2L575.5,523.3L576.0,524.3L576.5,523.8L577.0,524.9L577.5,522.9L578.0,522.9L578.5,525.6L579.0,525.4L579.5,524.0L580.0,525.1L580.5,524.2L581.0,528.4L581.5,523.8L582.0,528.2L582.5,525.0L583.0,526.8L583.5,526.1L584.0,526.0L584.5,527.9L585.0,527.9L585.5,526.6L586.0,525.9L586.5,529.9L587.0,529.2L587.5,527.7L588.0,527.3L588.5,528.1L589.0,528.0L589.5,529.6L590.0,526.9L590.5,528.3L591.0,527.4L591.5,530.2L592.0,531.0L592.5,528.7L593.0,529.6L593.5,530.9L594.0,528.8L594.5,528.2L595.0,530.8L595.5,530.2L596.0,529.5L596.5,531.7L597.0,530.3L597.5,527.9L598.0,530.6L598.5,530.2L599.0,532.8L599.5,530.5L600.0,530.4L600.5,531.3L601.0,531.2L601.5,529.3L602.0,531.3L602.5,530.8L603.0,533.1L603.5,534.4L604.0,530.2L604.5,530.5L605.0,530.8L605.5,531.1L606.0,531.2L606.5,532.2L607.0,533.6L607.5,530.8L608.0,530.6L608.5,530.3L609.0,534.0L609.5,534.4L610.0,531.0L610.5,531.0L611.0,533.3L611.5,534.6L612.0,534.6L612.5,533.7L613.0,534.4L613.5,534.0L614.0,533.1L614.5,536.2L615.0,534.0L615.5,532.7L616.0,533.6L616.5,532.4L617.0,534.4L617.5,535.8L618.0,533.1L618.5,536.0L619.0,537.3L619.5,535.3L620.0,533.6L620.5,533.5L621.0,534.8L621.5,533.8L622.0,533.9L622.5,535.2L623.0,535.4L623.5,536.4L624.0,534.4L624.5,538.1L625.0,537.3L625.5,537.2L626.0,535.1L626.5,538.4L627.0,536.0L627.5,538.6L628.0,537.9L628.5,535.7L629.0,536.3L629.5,539.1L630.0,538.2L630.5,536.9L631.0,537.5L631.5,537.6L632.0,536.5L632.5,537.2L633.0,536.9L633.5,537.2L634.0,538.3L634.5,536.8L635.0,538.8L635.5,538.2L636.0,539.1L636.5,539.3L637.0,539.8L637.5,539.2L638.0,539.4L638.5,538.4L639.0,539.4L639.5,537.8L640.0,538.6L640.5,539.8L641.0,539.0L641.5,539.6L642.0,538.0L642.5,540.8L643.0,538.7L643.5,539.9L644.0,539.5L644.5,540.6L645.0,539.2L645.5,538.6L646.0,537.7L646.5,539.5L647.0,538.6L647.5,540.6L648.0,541.7L648.5,537.6L649.0,538.8L649.5,540.6L650.0,541.7L650.5,540.7L651.0,540.8L651.5,541.1L652.0,541.2L652.5,542.5L653.0,541.4L653.5,539.4L654.0,540.3L654.5,541.1L655.0,540.0L655.5,540.7L656.0,540.5L656.5,540.3L657.0,541.9L657.5,540.8L658.0,540.1L658.5,540.1L659.0,541.4L659.5,543.8L660.0,542.0L660.5,543.2L661.0,542.1L661.5,539.3L662.0,542.1L662.5,540.8L663.0,540.3L663.5,540.7L664.0,543.8L664.5,540.2L665.0,541.3L665.5,543.3L666.0,542.8L666.5,540.3L667.0,542.0L667.5,541.6L668.0,542.0L668.5,543.1L669.0,541.7L669.5,542.0L670.0,544.0L670.5,540.5L671.0,542.1L671.5,543.1L672.0,541.2L672.5,541.9L673.0,541.3L673.5,542.9L674.0,542.1L674.5,543.6L675.0,543.9L675.5,542.9L676.0,542.3L676.5,543.2L677.0,543.0L677.5,541.7L678.0,544.2L678.5,543.3L679.0,544.0L679.5,541.7L680.0,544.1L680.5,545.5L681.0,543.9L681.5,541.7L682.0,543.4L682.5,543.3L683.0,543.6L683.5,543.2L684.0,544.0L684.5,543.0L685.0,543.8L685.5,542.8L686.0,543.7L686.5,544.7L687.0,543.1L687.5,544.4L688.0,542.8L688.5,543.2L689.0,543.5L689.5,545.1L690.0,543.0L690.5,545.2L691.0,542.3L691.5,543.8L692.0,544.9L692.5,544.7L693.0,542.9L693.5,542.7L694.0,545.0L694.5,542.8L695.0,544.7L695.5,543.6L696.0,544.2L696.5,546.7L697.0,545.9L697.5,545.2L698.0,542.8L698.5,544.7L699.0,544.4L699.5,544.3L700.0,545.8L700.5,542.6L701.0,544.8L701.5,544.6L702.0,543.7L702.5,546.3L703.0,543.2L703.5,544.6L704.0,544.7L704.5,542.3L705.0,543.1L705.5,543.6L706.0,545.5L706.5,545.7L707.0,545.4L707.5,545.0L708.0,542.5L708.5,545.0L709.0,544.3L709.5,546.1L710.0,546.3L710.5,547.2L711.0,545.7L711.5,545.8L712.0,543.9L712.5,545.1L713.0,543.7L713.5,546.6L714.0,543.8L714.5,544.8L715.0,544.2L715.5,544.6L716.0,545.6L716.5,544.6L717.0,545.4L717.5,544.1L718.0,546.7L718.5,544.5L719.0,546.3L719.5,547.5L720.0,542.7L720.5,544.3L721.0,545.1L721.5,546.6L722.0,544.9L722.5,545.8L723.0,544.6L723.5,546.0L724.0,544.2L724.5,546.9L725.0,542.4L725.5,543.5L726.0,547.4L726.5,545.7L727.0,544.6L727.5,547.9L728.0,546.7L728.5,546.8L729.0,545.2L729.5,546.3L730.0,546.2L730.5,544.0L731.0,546.3L731.5,545.6L732.0,547.1L732.5,547.1L733.0,545.1L733.5,545.2L734.0,546.0L734.5,546.5L735.0,545.4L735.5,545.8L736.0,546.6L736.5,546.4L737.0,547.2L737.5,546.2L738.0,545.1L738.5,544.2L739.0,546.9L739.5,545.7L740.0,545.7L740.5,545.8L741.0,544.5L741.5,545.7L742.0,543.4L742.5,545.7L743.0,545.2L743.5,548.1L744.0,546.7L744.5,546.0L745.0,546.4L745.5,547.0L746.0,545.5L746.5,546.0L747.0,545.9L747.5,548.9L748.0,546.4L748.5,544.3L749.0,547.2L749.5,549.1L750.0,545.4L750.5,550.0L751.0,546.3L751.5,547.5L752.0,545.8L752.5,546.2L753.0,545.2L753.5,545.4L754.0,544.3L754.5,547.7L755.0,545.3L755.5,546.9L756.0,546.9L756.5,545.9L757.0,546.6L757.5,546.5L758.0,546.1L758.5,546.6L759.0,546.7L759.5,545.6L760.0,545.3L760.5,545.8L761.0,546.8L761.5,548.1L762.0,548.2L762.5,547.0L763.0,547.7L763.5,546.8L764.0,547.8L764.5,546.8L765.0,547.1L765.5,546.4L766.0,546.7L766.5,548.7L767.0,545.5L767.5,546.8L768.0,546.2L768.5,547.8L769.0,548.7L769.5,546.5L770.0,543.9L770.5,547.5L771.0,547.5L771.5,545.1L772.0,546.6L772.5,546.8L773.0,544.5L773.5,547.6L774.0,547.3L774.5,547.1L775.0,545.8L775.5,546.2L776.0,546.3L776.5,547.4L777.0,545.9L777.5,548.5L778.0,547.3L778.5,544.7L779.0,548.7L779.5,547.1L780.0,546.4L780.5,547.1L781.0,545.1L781.5,547.2L782.0,544.5L782.5,546.0L783.0,548.4L783.5,548.3L784.0,546.7L784.5,546.0L785.0,548.0L785.5,547.0L786.0,547.3L786.5,547.7L787.0,546.0L787.5,547.9L788.0,544.9L788.5,548.6L789.0,545.5L789.5,546.5L790.0,546.4L790.5,547.9L791.0,547.9L791.5,547.5L792.0,547.7L792.5,547.6L793.0,547.1L793.5,545.2L794.0,544.8L794.5,544.8L795.0,547.1L795.5,546.9L796.0,547.0L796.5,547.4L797.0,546.9L797.5,546.1L798.0,545.6L798.5,545.2L799.0,548.5L799.5,548.2L800.0,545.8L800.5,546.9L801.0,547.7L801.5,548.9L802.0,546.6L802.5,547.4L803.0,548.4L803.5,545.4L804.0,546.5L804.5,547.2L805.0,546.5L805.5,549.4L806.0,548.1L806.5,547.6L807.0,546.2L807.5,548.1L808.0,547.9L808.5,546.7L809.0,546.8L809.5,545.7L810.0,547.2L810.5,548.1L811.0,548.3L811.5,547.8L812.0,548.1L812.5,546.6L813.0,546.7L813.5,549.2L814.0,547.7L814.5,546.4L815.0,547.7L815.5,548.1L816.0,547.9L816.5,547.3L817.0,546.7L817.5,547.6L818.0,549.0L818.5,547.3L819.0,546.5L819.5,547.5L820.0,545.9L820.5,547.4L821.0,546.8L821.5,548.1L822.0,547.2L822.5,548.2L823.0,549.5L823.5,546.9L824.0,546.2L824.5,547.6L825.0,547.0L825.5,547.2L826.0,546.5L826.5,547.7L827.0,547.1L827.5,544.8L828.0,546.8L828.5,547.4L829.0,548.3L829.5,546.4L830.0,546.2L830.5,548.2L831.0,546.4L831.5,547.1L832.0,547.5L832.5,547.7L833.0,547.0L833.5,545.8L834.0,548.0L834.5,546.5L835.0,546.4L835.5,549.0L836.0,547.8L836.5,545.8L837.0,546.4L837.5,546.6L838.0,546.1L838.5,544.9L839.0,547.7L839.5,547.7L840.0,547.1L840.5,546.4L841.0,547.0L841.5,547.5L842.0,545.7L842.5,546.4L843.0,546.2L843.5,547.5L844.0,547.0L844.5,544.6L845.0,546.1L845.5,548.6L846.0,545.7L846.5,546.9L847.0,546.0L847.5,548.0L848.0,546.6L848.5,546.2L849.0,545.4L849.5,546.4L850.0,547.5L850.5,547.3L851.0,545.2L851.5,548.2L852.0,546.3L852.5,545.5L853.0,546.7L853.5,545.9L854.0,545.9L854.5,545.9L855.0,546.4L855.5,546.0L856.0,544.7L856.5,547.0L857.0,545.9L857.5,547.7L858.0,547.0L858.5,547.1L859.0,546.6L859.5,547.8L860.0,546.1L860.5,545.4L861.0,546.8L861.5,543.5L862.0,546.0L862.5,546.6L863.0,545.9L863.5,547.7L864.0,547.1L864.5,546.5L865.0,545.9L865.5,547.5L866.0,545.6L866.5,545.9L867.0,547.1L867.5,546.9L868.0,548.4L868.5,546.0L869.0,544.3L869.5,546.9L870.0,547.5L870.5,546.0L871.0,547.8L871.5,548.0L872.0,545.5L872.5,545.6L873.0,544.8L873.5,546.7L874.0,546.9L874.5,546.7L875.0,544.8L875.5,545.3L876.0,544.6L876.5,544.4L877.0,544.6L877.5,544.4L878.0,545.8L878.5,546.4L879.0,546.6L879.5,546.0L880.0,545.3L880.5,545.9L881.0,546.5L881.5,545.6L882.0,546.0L882.5,545.6L883.0,545.3L883.5,545.9L884.0,544.7L884.5,547.0L885.0,544.2L885.5,546.3L886.0,544.4L886.5,547.4L887.0,546.7L887.5,544.9L888.0,545.3L888.5,544.6L889.0,545.7L889.5,546.2L890.0,548.4L890.5,544.3L891.0,547.0L891.5,545.1L892.0,546.0L892.5,546.6L893.0,546.6L893.5,546.1L894.0,545.4L894.5,545.6L895.0,545.7L895.5,546.8L896.0,544.0L896.5,544.7L897.0,544.2L897.5,544.5L898.0,544.7L898.5,546.7L899.0,549.1L899.5,546.9L900.0,544.2L900.5,545.5L901.0,543.5L901.5,545.9L902.0,546.8L902.5,546.0L903.0,546.3L903.5,545.2L904.0,543.3L904.5,543.2L905.0,545.2L905.5,545.9L906.0,546.7L906.5,544.9L907.0,545.4L907.5,545.5L908.0,546.4L908.5,545.2L909.0,544.1L909.5,546.4L910.0,545.6L910.5,545.6L911.0,543.8L911.5,545.2L912.0,543.3L912.5,543.0L913.0,544.9L913.5,544.7L914.0,545.7L914.5,546.6L915.0,545.0L915.5,547.0L916.0,544.4L916.5,545.9L917.0,543.7L917.5,545.2L918.0,544.7L918.5,544.8L919.0,545.6L919.5,543.0L920.0,545.1L920.5,544.1L921.0,545.1L921.5,545.3L922.0,544.3L922.5,544.5L923.0,543.7L923.5,545.5L924.0,544.1L924.5,545.3L925.0,543.3L925.5,546.3L926.0,543.7L926.5,546.0L927.0,544.3L927.5,545.3L928.0,544.6L928.5,545.5L929.0,544.7L929.5,546.1L930.0,545.4" fill="none" stroke="#ff00ff" stroke-width="3.2" stroke-linejoin="round" shape-rendering="crispEdges"/>
<path d="M70.0,452.1L70.5,448.8L71.0,453.1L71.5,446.7L72.0,455.5L72.5,448.2L73.0,451.8L73.5,452.3L74.0,450.5L74.5,451.9L75.0,450.3L75.5,447.1L76.0,451.1L76.5,452.5L77.0,449.3L77.5,447.1L78.0,449.2L78.5,450.9L79.0,450.9L79.5,452.4L80.0,451.3L80.5,451.2L81.0,446.5L81.5,454.5L82.0,450.4L82.5,452.8L83.0,449.6L83.5,450.0L84.0,450.5L84.5,453.5L85.0,453.7L85.5,452.3L86.0,455.3L86.5,451.3L87.0,453.5L87.5,452.2L88.0,456.0L88.5,454.2L89.0,456.5L89.5,458.4L90.0,451.8L90.5,460.1L91.0,457.0L91.5,456.3L92.0,453.7L92.5,457.1L93.0,453.8L93.5,458.6L94.0,458.5L94.5,462.5L95.0,459.0L95.5,462.0L96.0,462.5L96.5,464.5L97.0,460.7L97.5,462.9L98.0,459.2L98.5,460.4L99.0,462.2L99.5,463.1L100.0,461.3L100.5,463.1L101.0,465.4L101.5,463.7L102.0,464.6L102.5,462.7L103.0,468.0L103.5,469.0L104.0,466.6L104.5,466.3L105.0,469.7L105.5,468.0L106.0,466.2L106.5,465.3L107.0,466.9L107.5,472.0L108.0,467.4L108.5,473.7L109.0,468.9L109.5,468.8L110.0,471.7L110.5,469.2L111.0,470.5L111.5,468.3L112.0,468.2L112.5,469.3L113.0,471.2L113.5,469.9L114.0,467.9L114.5,472.2L115.0,471.3L115.5,471.4L116.0,471.0L116.5,468.4L117.0,475.1L117.5,471.8L118.0,473.7L118.5,475.4L119.0,475.1L119.5,473.7L120.0,473.6L120.5,474.3L121.0,475.4L121.5,475.1L122.0,473.5L122.5,475.2L123.0,475.3L123.5,476.0L124.0,475.3L124.5,477.5L125.0,475.7L125.5,477.0L126.0,475.8L126.5,474.9L127.0,474.5L127.5,476.0L128.0,477.3L128.5,478.7L129.0,476.6L129.5,476.1L130.0,476.3L130.5,479.4L131.0,477.7L131.5,476.8L132.0,479.0L132.5,475.8L133.0,478.3L133.5,478.3L134.0,478.3L134.5,476.8L135.0,480.5L135.5,481.8L136.0,477.1L136.5,479.6L137.0,480.6L137.5,483.4L138.0,479.3L138.5,478.6L139.0,480.3L139.5,483.7L140.0,480.7L140.5,481.2L141.0,483.8L141.5,477.7L142.0,477.8L142.5,482.9L143.0,482.9L143.5,479.6L144.0,482.8L144.5,482.2L145.0,482.6L145.5,480.4L146.0,481.9L146.5,481.3L147.0,483.0L147.5,482.7L148.0,485.8L148.5,484.3L149.0,481.0L149.5,484.2L150.0,486.0L150.5,484.3L151.0,485.7L151.5,484.0L152.0,485.3L152.5,482.9L153.0,485.7L153.5,482.4L154.0,486.7L154.5,482.4L155.0,481.6L155.5,485.8L156.0,484.8L156.5,485.4L157.0,485.9L157.5,485.3L158.0,484.1L158.5,485.9L159.0,486.2L159.5,487.0L160.0,488.9L160.5,484.8L161.0,486.1L161.5,487.0L162.0,485.5L162.5,484.4L163.0,485.5L163.5,488.1L164.0,486.1L164.5,487.5L165.0,485.6L165.5,487.4L166.0,485.8L166.5,485.6L167.0,487.2L167.5,487.1L168.0,489.4L168.5,484.7L169.0,488.1L169.5,489.8L170.0,489.5L170.5,486.9L171.0,486.5L171.5,486.9L172.0,488.2L172.5,488.1L173.0,488.4L173.5,488.8L174.0,486.4L174.5,486.3L175.0,486.2L175.5,486.1L176.0,488.0L176.5,488.8L177.0,492.2L177.5,489.2L178.0,488.5L178.5,490.7L179.0,487.5L179.5,489.2L180.0,490.3L180.5,490.0L181.0,489.5L181.5,488.5L182.0,487.2L182.5,488.9L183.0,488.3L183.5,490.3L184.0,489.1L184.5,490.3L185.0,487.1L185.5,491.0L186.0,488.3L186.5,487.3L187.0,487.7L187.5,488.9L188.0,491.6L188.5,491.0L189.0,488.2L189.5,490.2L190.0,489.8L190.5,487.8L191.0,488.7L191.5,487.2L192.0,489.0L192.5,486.3L193.0,489.1L193.5,488.9L194.0,489.2L194.5,489.1L195.0,492.1L195.5,489.9L196.0,490.8L196.5,491.5L197.0,491.7L197.5,491.4L198.0,489.5L198.5,487.7L199.0,489.1L199.5,489.6L200.0,490.3L200.5,490.1L201.0,492.8L201.5,490.0L202.0,492.8L202.5,491.6L203.0,489.3L203.5,491.2L204.0,485.6L204.5,491.9L205.0,490.4L205.5,490.3L206.0,487.2L206.5,493.4L207.0,489.2L207.5,489.3L208.0,491.1L208.5,489.1L209.0,488.1L209.5,490.3L210.0,487.7L210.5,490.3L211.0,489.3L211.5,490.8L212.0,487.2L212.5,490.9L213.0,489.4L213.5,491.9L214.0,487.9L214.5,491.6L215.0,489.8L215.5,489.9L216.0,487.6L216.5,489.5L217.0,489.6L217.5,487.3L218.0,486.7L218.5,487.3L219.0,490.6L219.5,488.6L220.0,489.7L220.5,488.7L221.0,488.4L221.5,488.5L222.0,487.5L222.5,489.9L223.0,488.3L223.5,488.3L224.0,485.8L224.5,488.3L225.0,486.8L225.5,487.0L226.0,489.3L226.5,486.0L227.0,487.3L227.5,488.5L228.0,489.3L228.5,486.7L229.0,487.9L229.5,487.8L230.0,485.6L230.5,484.0L231.0,484.2L231.5,488.0L232.0,487.2L232.5,485.0L233.0,486.0L233.5,486.3L234.0,486.3L234.5,486.7L235.0,490.1L235.5,485.4L236.0,486.8L236.5,485.3L237.0,485.5L237.5,485.0L238.0,485.9L238.5,485.3L239.0,486.7L239.5,486.4L240.0,484.6L240.5,488.8L241.0,484.0L241.5,486.3L242.0,489.0L242.5,484.4L243.0,487.5L243.5,487.5L244.0,485.8L244.5,482.3L245.0,487.3L245.5,485.2L246.0,484.0L246.5,486.8L247.0,483.5L247.5,486.2L248.0,483.6L248.5,485.2L249.0,482.6L249.5,483.6L250.0,482.6L250.5,482.9L251.0,484.2L251.5,483.5L252.0,484.0L252.5,485.6L253.0,483.3L253.5,480.4L254.0,482.8L254.5,483.3L255.0,484.6L255.5,484.6L256.0,484.3L256.5,482.4L257.0,483.7L257.5,480.3L258.0,484.5L258.5,483.0L259.0,483.0L259.5,481.5L260.0,482.1L260.5,480.9L261.0,482.8L261.5,479.7L262.0,483.2L262.5,483.0L263.0,484.7L263.5,481.3L264.0,481.2L264.5,481.5L265.0,481.2L265.5,480.9L266.0,479.2L266.5,479.1L267.0,479.9L267.5,480.2L268.0,477.5L268.5,478.6L269.0,479.9L269.5,481.5L270.0,479.9L270.5,481.2L271.0,481.6L271.5,481.1L272.0,479.1L272.5,479.0L273.0,476.6L273.5,478.4L274.0,480.1L274.5,477.5L275.0,481.3L275.5,481.3L276.0,478.3L276.5,480.3L277.0,476.3L277.5,476.8L278.0,477.8L278.5,478.2L279.0,477.8L279.5,476.5L280.0,481.0L280.5,478.1L281.0,477.9L281.5,478.4L282.0,477.4L282.5,476.5L283.0,475.8L283.5,473.8L284.0,478.7L284.5,474.6L285.0,471.5L285.5,474.3L286.0,472.8L286.5,478.6L287.0,475.6L287.5,477.2L288.0,477.0L288.5,475.4L289.0,475.2L289.5,472.8L290.0,473.7L290.5,472.6L291.0,473.5L291.5,472.0L292.0,475.1L292.5,474.1L293.0,472.5L293.5,469.6L294.0,473.4L294.5,473.6L295.0,471.8L295.5,469.6L296.0,472.3L296.5,473.2L297.0,468.0L297.5,472.1L298.0,467.9L298.5,470.9L299.0,473.6L299.5,470.6L300.0,471.1L300.5,469.6L301.0,469.9L301.5,473.8L302.0,471.9L302.5,468.9L303.0,468.3L303.5,469.2L304.0,472.8L304.5,469.2L305.0,470.6L305.5,467.9L306.0,466.2L306.5,470.5L307.0,467.9L307.5,466.6L308.0,466.6L308.5,466.4L309.0,466.4L309.5,464.6L310.0,469.2L310.5,467.6L311.0,468.5L311.5,466.1L312.0,467.1L312.5,466.7L313.0,468.3L313.5,467.5L314.0,466.9L314.5,464.6L315.0,463.5L315.5,463.2L316.0,464.2L316.5,464.2L317.0,462.8L317.5,467.7L318.0,465.1L318.5,460.9L319.0,462.4L319.5,461.8L320.0,464.4L320.5,465.7L321.0,462.0L321.5,464.6L322.0,462.9L322.5,465.3L323.0,465.5L323.5,463.5L324.0,464.0L324.5,462.6L325.0,461.8L325.5,460.2L326.0,462.7L326.5,461.8L327.0,461.1L327.5,461.5L328.0,461.2L328.5,459.5L329.0,460.2L329.5,463.1L330.0,460.5L330.5,463.2L331.0,458.5L331.5,458.0L332.0,460.5L332.5,461.5L333.0,458.8L333.5,460.9L334.0,461.3L334.5,461.4L335.0,459.2L335.5,459.1L336.0,456.1L336.5,458.9L337.0,459.3L337.5,461.2L338.0,456.2L338.5,456.8L339.0,456.4L339.5,459.7L340.0,453.3L340.5,455.8L341.0,461.3L341.5,458.7L342.0,454.9L342.5,457.1L343.0,458.6L343.5,457.9L344.0,456.4L344.5,455.2L345.0,458.0L345.5,456.3L346.0,457.7L346.5,456.8L347.0,455.1L347.5,458.4L348.0,454.7L348.5,456.3L349.0,454.2L349.5,454.8L350.0,454.7L350.5,453.8L351.0,455.3L351.5,457.1L352.0,458.0L352.5,457.1L353.0,454.0L353.5,456.9L354.0,454.8L354.5,457.2L355.0,451.5L355.5,456.4L356.0,452.4L356.5,455.6L357.0,452.4L357.5,454.8L358.0,452.5L358.5,449.4L359.0,451.0L359.5,452.2L360.0,452.6L360.5,448.2L361.0,450.0L361.5,450.8L362.0,451.6L362.5,452.3L363.0,450.2L363.5,448.8L364.0,452.1L364.5,450.8L365.0,452.9L365.5,450.2L366.0,452.2L366.5,449.2L367.0,451.3L367.5,450.8L368.0,451.3L368.5,448.6L369.0,450.0L369.5,448.5L370.0,449.7L370.5,451.0L371.0,455.3L371.5,449.6L372.0,450.8L372.5,449.5L373.0,451.3L373.5,449.9L374.0,450.9L374.5,449.5L375.0,453.2L375.5,451.1L376.0,445.2L376.5,448.9L377.0,448.3L377.5,443.9L378.0,446.3L378.5,446.9L379.0,446.3L379.5,447.8L380.0,444.1L380.5,448.8L381.0,448.7L381.5,447.8L382.0,446.4L382.5,447.0L383.0,446.0L383.5,449.0L384.0,447.6L384.5,450.4L385.0,445.8L385.5,449.2L386.0,445.3L386.5,446.0L387.0,444.2L387.5,447.2L388.0,446.0L388.5,447.2L389.0,448.8L389.5,445.8L390.0,446.6L390.5,447.5L391.0,445.6L391.5,444.6L392.0,446.3L392.5,446.5L393.0,447.0L393.5,447.0L394.0,444.1L394.5,446.2L395.0,447.6L395.5,444.3L396.0,445.8L396.5,443.9L397.0,445.4L397.5,448.3L398.0,445.3L398.5,443.0L399.0,445.5L399.5,445.2L400.0,446.9L400.5,442.1L401.0,442.9L401.5,444.5L402.0,441.6L402.5,446.7L403.0,440.6L403.5,442.9L404.0,441.6L404.5,443.1L405.0,445.9L405.5,445.5L406.0,446.1L406.5,445.5L407.0,440.4L407.5,444.8L408.0,440.7L408.5,443.3L409.0,443.5L409.5,443.2L410.0,445.7L410.5,442.7L411.0,447.5L411.5,445.4L412.0,446.5L412.5,445.7L413.0,446.0L413.5,444.2L414.0,448.1L414.5,442.3L415.0,445.3L415.5,444.5L416.0,444.1L416.5,445.2L417.0,443.2L417.5,446.3L418.0,446.2L418.5,445.0L419.0,446.3L419.5,443.0L420.0,441.6L420.5,444.0L421.0,444.7L421.5,450.0L422.0,444.9L422.5,447.4L423.0,447.2L423.5,449.7L424.0,446.0L424.5,447.1L425.0,445.6L425.5,444.4L426.0,444.3L426.5,444.8L427.0,449.1L427.5,447.0L428.0,446.3L428.5,446.8L429.0,445.8L429.5,446.9L430.0,447.0L430.5,448.5L431.0,449.2L431.5,444.6L432.0,448.3L432.5,450.7L433.0,446.5L433.5,448.2L434.0,449.2L434.5,451.3L435.0,450.6L435.5,449.4L436.0,451.0L436.5,452.3L437.0,451.8L437.5,454.3L438.0,451.9L438.5,449.4L439.0,450.2L439.5,451.6L440.0,451.6L440.5,453.3L441.0,453.0L441.5,455.7L442.0,454.2L442.5,455.6L443.0,451.6L443.5,452.3L444.0,454.5L444.5,453.6L445.0,454.7L445.5,454.1L446.0,452.7L446.5,457.1L447.0,456.2L447.5,451.4L448.0,453.2L448.5,454.6L449.0,455.9L449.5,454.7L450.0,452.5L450.5,456.7L451.0,455.0L451.5,457.8L452.0,456.4L452.5,457.8L453.0,457.8L453.5,458.1L454.0,455.8L454.5,458.9L455.0,457.6L455.5,455.3L456.0,457.1L456.5,457.5L457.0,459.7L457.5,459.8L458.0,456.9L458.5,460.5L459.0,459.3L459.5,457.8L460.0,461.4L460.5,458.9L461.0,458.4L461.5,462.1L462.0,462.6L462.5,460.1L463.0,463.4L463.5,463.7L464.0,461.3L464.5,466.0L465.0,462.8L465.5,463.6L466.0,459.4L466.5,464.9L467.0,463.0L467.5,465.2L468.0,461.7L468.5,466.9L469.0,467.7L469.5,468.6L470.0,460.4L470.5,466.7L471.0,466.4L471.5,460.6L472.0,464.6L472.5,465.6L473.0,468.1L473.5,463.9L474.0,465.4L474.5,464.6L475.0,465.4L475.5,463.4L476.0,465.2L476.5,464.8L477.0,460.3L477.5,464.3L478.0,461.0L478.5,462.3L479.0,465.5L479.5,464.6L480.0,466.3L480.5,467.4L481.0,467.8L481.5,466.7L482.0,466.7L482.5,470.0L483.0,470.6L483.5,470.3L484.0,469.8L484.5,471.9L485.0,470.8L485.5,468.9L486.0,471.9L486.5,472.6L487.0,473.3L487.5,470.8L488.0,471.3L488.5,473.3L489.0,472.3L489.5,473.1L490.0,475.0L490.5,474.3L491.0,476.8L491.5,474.5L492.0,477.1L492.5,476.2L493.0,478.8L493.5,475.0L494.0,475.0L494.5,477.5L495.0,474.7L495.5,475.0L496.0,476.3L496.5,476.7L497.0,474.0L497.5,476.9L498.0,476.1L498.5,476.8L499.0,477.3L499.5,476.8L500.0,479.0L500.5,478.3L501.0,477.4L501.5,477.9L502.0,479.6L502.5,479.4L503.0,480.3L503.5,478.3L504.0,478.9L504.5,482.0L505.0,479.0L505.5,481.9L506.0,480.7L506.5,478.9L507.0,477.5L507.5,480.9L508.0,479.0L508.5,479.2L509.0,477.7L509.5,482.5L510.0,481.0L510.5,481.0L511.0,481.8L511.5,481.7L512.0,481.6L512.5,482.5L513.0,481.4L513.5,478.0L514.0,483.3L514.5,483.0L515.0,482.6L515.5,485.1L516.0,480.7L516.5,478.6L517.0,487.0L517.5,484.0L518.0,481.1L518.5,483.1L519.0,484.9L519.5,482.3L520.0,485.1L520.5,487.7L521.0,486.7L521.5,484.8L522.0,485.5L522.5,483.7L523.0,485.5L523.5,485.0L524.0,484.2L524.5,483.8L525.0,488.9L525.5,486.3L526.0,484.8L526.5,485.9L527.0,488.9L527.5,489.3L528.0,486.1L528.5,487.5L529.0,488.7L529.5,487.0L530.0,485.9L530.5,486.4L531.0,488.0L531.5,487.0L532.0,486.4L532.5,488.2L533.0,490.0L533.5,489.8L534.0,488.7L534.5,492.0L535.0,488.2L535.5,489.4L536.0,487.7L536.5,490.9L537.0,489.8L537.5,487.7L538.0,489.1L538.5,493.1L539.0,491.7L539.5,490.9L540.0,492.2L540.5,488.8L541.0,490.1L541.5,488.4L542.0,490.4L542.5,491.2L543.0,492.6L543.5,493.5L544.0,493.6L544.5,496.2L545.0,491.8L545.5,492.6L546.0,493.5L546.5,491.8L547.0,492.7L547.5,493.8L548.0,492.1L548.5,494.2L549.0,495.4L549.5,492.2L550.0,490.7L550.5,494.2L551.0,492.8L551.5,494.6L552.0,493.9L552.5,495.1L553.0,496.4L553.5,496.1L554.0,494.5L554.5,493.6L555.0,491.9L555.5,492.4L556.0,494.5L556.5,495.8L557.0,494.9L557.5,495.1L558.0,493.9L558.5,493.9L559.0,493.9L559.5,497.3L560.0,493.8L560.5,497.6L561.0,495.6L561.5,497.7L562.0,497.4L562.5,498.2L563.0,498.9L563.5,496.3L564.0,496.2L564.5,497.1L565.0,496.7L565.5,498.8L566.0,497.9L566.5,498.1L567.0,498.8L567.5,497.7L568.0,500.0L568.5,496.1L569.0,499.1L569.5,499.5L570.0,498.0L570.5,498.2L571.0,500.4L571.5,498.9L572.0,496.9L572.5,497.8L573.0,501.1L573.5,498.7L574.0,501.7L574.5,501.9L575.0,500.0L575.5,501.1L576.0,499.4L576.5,500.1L577.0,499.8L577.5,501.6L578.0,499.3L578.5,500.9L579.0,501.3L579.5,502.0L580.0,498.7L580.5,499.3L581.0,500.6L581.5,501.4L582.0,502.2L582.5,502.4L583.0,504.9L583.5,503.2L584.0,503.3L584.5,502.0L585.0,503.8L585.5,503.8L586.0,503.9L586.5,503.0L587.0,504.1L587.5,505.3L588.0,502.5L588.5,500.8L589.0,504.8L589.5,505.4L590.0,503.7L590.5,503.5L591.0,507.8L591.5,503.8L592.0,502.9L592.5,504.0L593.0,505.4L593.5,504.1L594.0,504.5L594.5,505.5L595.0,504.7L595.5,505.5L596.0,505.4L596.5,504.3L597.0,505.8L597.5,503.5L598.0,507.2L598.5,504.9L599.0,505.9L599.5,504.1L600.0,505.9L600.5,504.1L601.0,508.6L601.5,506.7L602.0,507.6L602.5,504.9L603.0,505.7L603.5,507.1L604.0,505.8L604.5,509.0L605.0,507.2L605.5,508.0L606.0,508.4L606.5,507.9L607.0,509.2L607.5,507.5L608.0,508.9L608.5,510.1L609.0,509.0L609.5,509.0L610.0,508.6L610.5,509.2L611.0,510.0L611.5,509.1L612.0,507.4L612.5,509.8L613.0,509.5L613.5,510.4L614.0,510.0L614.5,512.0L615.0,508.8L615.5,509.2L616.0,511.2L616.5,509.3L617.0,511.0L617.5,510.8L618.0,508.6L618.5,511.8L619.0,512.7L619.5,511.5L620.0,509.7L620.5,512.4L621.0,510.3L621.5,511.5L622.0,512.3L622.5,511.0L623.0,510.0L623.5,511.9L624.0,512.1L624.5,511.3L625.0,511.5L625.5,513.4L626.0,512.5L626.5,511.8L627.0,512.1L627.5,513.1L628.0,513.2L628.5,512.9L629.0,511.7L629.5,512.9L630.0,512.7L630.5,513.6L631.0,515.0L631.5,514.8L632.0,514.6L632.5,514.1L633.0,513.7L633.5,514.5L634.0,513.7L634.5,514.0L635.0,513.5L635.5,514.5L636.0,514.6L636.5,516.8L637.0,515.4L637.5,514.5L638.0,515.9L638.5,514.6L639.0,516.3L639.5,516.1L640.0,518.6L640.5,514.3L641.0,515.5L641.5,515.5L642.0,516.2L642.5,516.6L643.0,514.8L643.5,515.2L644.0,516.4L644.5,517.2L645.0,515.0L645.5,514.6L646.0,517.6L646.5,517.4L647.0,517.7L647.5,515.6L648.0,516.5L648.5,517.0L649.0,517.3L649.5,516.8L650.0,517.0L650.5,518.2L651.0,516.7L651.5,516.7L652.0,516.9L652.5,516.9L653.0,517.6L653.5,517.3L654.0,517.2L654.5,519.2L655.0,518.1L655.5,517.5L656.0,519.3L656.5,517.4L657.0,518.1L657.5,518.0L658.0,517.6L658.5,517.9L659.0,518.4L659.5,516.9L660.0,518.1L660.5,518.8L661.0,518.9L661.5,519.0L662.0,521.2L662.5,519.5L663.0,518.7L663.5,518.8L664.0,519.0L664.5,519.5L665.0,518.8L665.5,520.7L666.0,518.1L666.5,519.9L667.0,519.8L667.5,518.2L668.0,520.1L668.5,520.1L669.0,518.9L669.5,522.0L670.0,520.4L670.5,519.4L671.0,519.3L671.5,519.0L672.0,520.1L672.5,520.0L673.0,518.5L673.5,519.0L674.0,519.3L674.5,519.7L675.0,519.8L675.5,519.5L676.0,520.9L676.5,521.3L677.0,520.4L677.5,518.2L678.0,520.3L678.5,521.1L679.0,520.5L679.5,520.9L680.0,520.8L680.5,519.2L681.0,518.2L681.5,521.4L682.0,520.3L682.5,521.3L683.0,520.6L683.5,520.8L684.0,522.3L684.5,519.8L685.0,521.0L685.5,520.0L686.0,521.2L686.5,521.6L687.0,521.8L687.5,521.4L688.0,519.9L688.5,521.5L689.0,522.2L689.5,522.4L690.0,523.5L690.5,522.0L691.0,520.5L691.5,520.6L692.0,521.6L692.5,522.6L693.0,520.5L693.5,522.5L694.0,522.3L694.5,520.8L695.0,522.3L695.5,521.0L696.0,521.7L696.5,521.3L697.0,522.0L697.5,520.7L698.0,522.4L698.5,519.7L699.0,521.5L699.5,521.4L700.0,523.5L700.5,522.5L701.0,521.5L701.5,521.2L702.0,522.1L702.5,521.5L703.0,524.3L703.5,519.4L704.0,522.2L704.5,519.8L705.0,523.2L705.5,521.4L706.0,523.8L706.5,521.4L707.0,523.3L707.5,522.5L708.0,523.5L708.5,522.4L709.0,519.5L709.5,521.7L710.0,520.9L710.5,523.3L711.0,523.0L711.5,522.4L712.0,522.9L712.5,522.7L713.0,521.9L713.5,524.4L714.0,522.8L714.5,522.4L715.0,521.1L715.5,522.0L716.0,522.6L716.5,522.4L717.0,522.2L717.5,522.6L718.0,521.6L718.5,522.7L719.0,521.2L719.5,521.9L720.0,522.0L720.5,523.6L721.0,523.2L721.5,522.8L722.0,521.6L722.5,522.4L723.0,523.6L723.5,524.0L724.0,521.4L724.5,522.4L725.0,522.9L725.5,523.2L726.0,522.9L726.5,523.5L727.0,521.5L727.5,524.4L728.0,521.8L728.5,523.0L729.0,523.4L729.5,524.1L730.0,523.8L730.5,523.8L731.0,524.2L731.5,522.9L732.0,523.7L732.5,524.5L733.0,522.3L733.5,521.7L734.0,522.1L734.5,524.4L735.0,524.3L735.5,522.7L736.0,523.3L736.5,523.8L737.0,524.1L737.5,521.3L738.0,522.6L738.5,522.9L739.0,523.5L739.5,523.3L740.0,522.9L740.5,523.5L741.0,520.7L741.5,526.2L742.0,524.0L742.5,524.1L743.0,522.6L743.5,523.7L744.0,525.3L744.5,525.0L745.0,523.4L745.5,522.1L746.0,523.5L746.5,522.8L747.0,524.2L747.5,522.1L748.0,523.2L748.5,523.6L749.0,522.9L749.5,524.4L750.0,522.3L750.5,522.2L751.0,523.1L751.5,524.2L752.0,523.1L752.5,522.9L753.0,524.2L753.5,523.7L754.0,522.9L754.5,523.6L755.0,523.2L755.5,524.1L756.0,523.6L756.5,522.7L757.0,523.0L757.5,523.1L758.0,523.9L758.5,523.9L759.0,522.7L759.5,523.2L760.0,523.9L760.5,524.6L761.0,523.8L761.5,525.5L762.0,523.6L762.5,524.3L763.0,523.3L763.5,522.1L764.0,523.7L764.5,524.1L765.0,523.9L765.5,523.8L766.0,523.3L766.5,522.9L767.0,523.4L767.5,524.1L768.0,524.6L768.5,520.5L769.0,524.3L769.5,524.8L770.0,524.9L770.5,524.1L771.0,524.4L771.5,523.3L772.0,523.7L772.5,524.3L773.0,522.7L773.5,523.0L774.0,524.0L774.5,522.5L775.0,523.9L775.5,522.4L776.0,524.0L776.5,523.9L777.0,523.3L777.5,522.9L778.0,523.4L778.5,521.7L779.0,523.5L779.5,524.0L780.0,525.1L780.5,523.4L781.0,523.7L781.5,525.3L782.0,525.6L782.5,523.5L783.0,524.9L783.5,525.1L784.0,524.5L784.5,523.0L785.0,523.1L785.5,524.5L786.0,526.2L786.5,523.8L787.0,525.5L787.5,525.8L788.0,522.8L788.5,523.4L789.0,525.5L789.5,525.0L790.0,524.6L790.5,524.0L791.0,524.7L791.5,523.5L792.0,526.5L792.5,523.0L793.0,522.4L793.5,524.2L794.0,525.5L794.5,523.6L795.0,524.1L795.5,523.1L796.0,524.0L796.5,523.1L797.0,523.2L797.5,522.7L798.0,523.6L798.5,525.9L799.0,524.1L799.5,524.3L800.0,526.3L800.5,523.5L801.0,523.2L801.5,524.7L802.0,523.0L802.5,524.5L803.0,525.3L803.5,523.1L804.0,523.7L804.5,525.8L805.0,523.2L805.5,523.1L806.0,524.4L806.5,523.9L807.0,523.4L807.5,525.7L808.0,523.6L808.5,524.5L809.0,523.8L809.5,524.0L810.0,522.9L810.5,525.1L811.0,523.8L811.5,525.4L812.0,523.1L812.5,523.7L813.0,524.6L813.5,524.3L814.0,523.5L814.5,524.0L815.0,522.9L815.5,524.2L816.0,521.6L816.5,524.3L817.0,525.5L817.5,525.0L818.0,525.0L818.5,523.7L819.0,524.6L819.5,523.7L820.0,524.0L820.5,524.0L821.0,520.9L821.5,525.0L822.0,524.5L822.5,524.9L823.0,523.2L823.5,524.8L824.0,524.5L824.5,521.9L825.0,522.4L825.5,524.1L826.0,523.4L826.5,524.0L827.0,523.4L827.5,526.3L828.0,522.2L828.5,522.7L829.0,523.1L829.5,522.7L830.0,523.4L830.5,524.0L831.0,522.7L831.5,524.3L832.0,525.2L832.5,525.0L833.0,525.9L833.5,525.0L834.0,523.9L834.5,525.7L835.0,524.6L835.5,525.7L836.0,523.7L836.5,521.9L837.0,522.8L837.5,524.2L838.0,524.4L838.5,523.5L839.0,524.8L839.5,522.7L840.0,523.2L840.5,524.8L841.0,523.9L841.5,523.9L842.0,525.2L842.5,524.9L843.0,523.0L843.5,524.0L844.0,522.1L844.5,523.8L845.0,524.1L845.5,522.1L846.0,525.3L846.5,525.7L847.0,524.2L847.5,524.6L848.0,526.0L848.5,523.5L849.0,524.7L849.5,524.1L850.0,522.2L850.5,522.8L851.0,523.1L851.5,524.7L852.0,523.8L852.5,524.6L853.0,523.2L853.5,522.4L854.0,525.6L854.5,526.3L855.0,524.0L855.5,523.4L856.0,524.8L856.5,522.5L857.0,523.4L857.5,522.2L858.0,524.0L858.5,523.8L859.0,523.2L859.5,522.9L860.0,522.1L860.5,522.7L861.0,524.7L861.5,523.2L862.0,524.7L862.5,522.6L863.0,523.4L863.5,523.0L864.0,523.2L864.5,524.2L865.0,521.4L865.5,524.1L866.0,524.1L866.5,523.4L867.0,523.5L867.5,523.0L868.0,524.1L868.5,523.4L869.0,522.5L869.5,523.5L870.0,524.3L870.5,523.7L871.0,523.3L871.5,523.5L872.0,522.8L872.5,522.8L873.0,521.4L873.5,523.1L874.0,524.2L874.5,522.9L875.0,522.3L875.5,524.1L876.0,523.4L876.5,523.3L877.0,523.6L877.5,523.9L878.0,523.1L878.5,522.3L879.0,524.8L879.5,523.2L880.0,522.4L880.5,523.3L881.0,524.3L881.5,521.7L882.0,524.4L882.5,522.9L883.0,525.0L883.5,523.7L884.0,522.9L884.5,524.2L885.0,524.3L885.5,522.7L886.0,523.2L886.5,522.5L887.0,523.9L887.5,521.6L888.0,522.8L888.5,520.9L889.0,523.5L889.5,520.7L890.0,521.9L890.5,523.2L891.0,522.6L891.5,522.5L892.0,521.9L892.5,522.4L893.0,521.1L893.5,523.2L894.0,523.6L894.5,523.6L895.0,522.8L895.5,524.0L896.0,523.3L896.5,524.3L897.0,523.2L897.5,522.8L898.0,522.0L898.5,520.2L899.0,523.4L899.5,522.6L900.0,524.7L900.5,520.8L901.0,523.5L901.5,521.8L902.0,522.7L902.5,521.8L903.0,523.0L903.5,522.7L904.0,523.5L904.5,522.8L905.0,523.1L905.5,523.9L906.0,523.2L906.5,522.5L907.0,523.9L907.5,522.5L908.0,523.0L908.5,522.1L909.0,522.0L909.5,519.7L910.0,523.3L910.5,521.5L911.0,523.3L911.5,524.4L912.0,520.5L912.5,523.4L913.0,522.5L913.5,523.0L914.0,521.4L914.5,522.6L915.0,522.8L915.5,523.9L916.0,524.6L916.5,522.8L917.0,522.2L917.5,524.7L918.0,522.4L918.5,522.5L919.0,522.6L919.5,523.0L920.0,523.2L920.5,521.9L921.0,522.4L921.5,524.3L922.0,524.0L922.5,522.9L923.0,522.7L923.5,522.2L924.0,523.5L924.5,522.0L925.0,522.6L925.5,522.0L926.0,521.8L926.5,522.5L927.0,522.4L927.5,521.9L928.0,522.3L928.5,522.5L929.0,522.0L929.5,521.8L930.0,522.3" fill="none" stroke="#0000ff" stroke-width="3.2" stroke-linejoin="round" shape-rendering="crispEdges"/>
</g>
<text x="70.2" y="628.3" font-size="24.8" text-anchor="middle">5</text>
<text x="193.1" y="628.3" font-size="24.8" text-anchor="middle">10</text>
<text x="315.9" y="628.3" font-size="24.8" text-anchor="middle">15</text>
<text x="438.8" y="628.3" font-size="24.8" text-anchor="middle">20</text>
<text x="561.6" y="628.3" font-size="24.8" text-anchor="middle">25</text>
<text x="684.5" y="628.3" font-size="24.8" text-anchor="middle">30</text>
<text x="807.3" y="628.3" font-size="24.8" text-anchor="middle">35</text>
<text x="930.2" y="628.3" font-size="24.8" text-anchor="middle">40</text>
<text x="499.3" y="691.5" font-size="45.5" letter-spacing="0.35" text-anchor="middle">2<tspan font-style="italic">θ</tspan> (°)</text>
<text transform="translate(36,302) rotate(-90)" font-size="46.5" letter-spacing="0.3" text-anchor="middle">Intensity</text>
<rect x="578.6" y="9.4" width="345.8" height="161.6" fill="#fff" stroke="#1a1a1a" stroke-width="1.1"/>
<line x1="596.9" y1="29.8" x2="653.8" y2="29.8" stroke="#000" stroke-width="3" stroke-linecap="round"/>
<text x="660.5" y="38.8" font-size="25.5">GO</text>
<line x1="596.9" y1="61.5" x2="653.8" y2="61.5" stroke="#ff0000" stroke-width="3" stroke-linecap="round"/>
<text x="660.5" y="70.5" font-size="25.5">70A</text>
<line x1="596.9" y1="93.2" x2="653.8" y2="93.2" stroke="#0000ff" stroke-width="3" stroke-linecap="round"/>
<text x="660.5" y="102.2" font-size="25.5">70A+0.2% GO</text>
<line x1="596.9" y1="124.9" x2="653.8" y2="124.9" stroke="#ff00ff" stroke-width="3" stroke-linecap="round"/>
<text x="660.5" y="133.9" font-size="25.5">70A+5% SBS</text>
<line x1="596.9" y1="156.6" x2="653.8" y2="156.6" stroke="#008000" stroke-width="3" stroke-linecap="round"/>
<text x="660.5" y="165.6" font-size="25.5">70A+5% SBS+0.2% GO</text>
</svg>
</body></html>
